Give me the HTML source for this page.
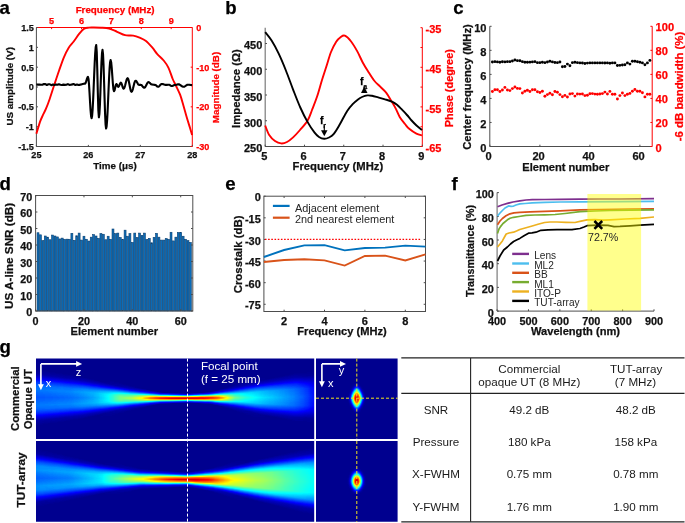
<!DOCTYPE html><html><head><meta charset="utf-8"><style>html,body{margin:0;padding:0;background:#fff;overflow:hidden}svg{display:block;will-change:transform}</style></head><body><svg width="685" height="523" viewBox="0 0 685 523"><defs><filter id="jet" x="0" y="0" width="1" height="1" color-interpolation-filters="sRGB"><feGaussianBlur stdDeviation="1.3 0.55"/><feComponentTransfer><feFuncR type="table" tableValues="0 0 0 0 0.5 1 1 1 0.5"/><feFuncG type="table" tableValues="0 0 0.5 1 1 1 0.5 0 0"/><feFuncB type="table" tableValues="0.5 1 1 1 0.5 0 0 0 0"/></feComponentTransfer></filter><clipPath id="ct"><rect x="36.0" y="358.6" width="278.2" height="80.4"/></clipPath><clipPath id="cb"><rect x="36.0" y="441.0" width="278.2" height="80.8"/></clipPath><clipPath id="cs1"><rect x="316" y="358.6" width="81.6" height="80.4"/></clipPath><clipPath id="cs2"><rect x="316" y="441.0" width="81.6" height="80.8"/></clipPath><linearGradient id="q1" gradientUnits="userSpaceOnUse" x1="0" y1="360.1" x2="0" y2="434.7"><stop offset="0" stop-color="#040404"/><stop offset="0.118" stop-color="#040404"/><stop offset="0.184" stop-color="#080808"/><stop offset="0.237" stop-color="#181818"/><stop offset="0.289" stop-color="#2c2c2c"/><stop offset="0.342" stop-color="#3a3a3a"/><stop offset="0.395" stop-color="#3e3e3e"/><stop offset="0.447" stop-color="#393939"/><stop offset="0.5" stop-color="#353535"/><stop offset="0.553" stop-color="#393939"/><stop offset="0.605" stop-color="#3e3e3e"/><stop offset="0.658" stop-color="#3a3a3a"/><stop offset="0.711" stop-color="#2c2c2c"/><stop offset="0.763" stop-color="#181818"/><stop offset="0.816" stop-color="#080808"/><stop offset="0.882" stop-color="#040404"/><stop offset="1" stop-color="#040404"/></linearGradient><linearGradient id="q2" gradientUnits="userSpaceOnUse" x1="0" y1="360.1" x2="0" y2="434.7"><stop offset="0" stop-color="#040404"/><stop offset="0.118" stop-color="#040404"/><stop offset="0.184" stop-color="#080808"/><stop offset="0.237" stop-color="#181818"/><stop offset="0.289" stop-color="#2c2c2c"/><stop offset="0.342" stop-color="#3a3a3a"/><stop offset="0.395" stop-color="#3e3e3e"/><stop offset="0.447" stop-color="#393939"/><stop offset="0.5" stop-color="#353535"/><stop offset="0.553" stop-color="#393939"/><stop offset="0.605" stop-color="#3e3e3e"/><stop offset="0.658" stop-color="#3a3a3a"/><stop offset="0.711" stop-color="#2c2c2c"/><stop offset="0.763" stop-color="#181818"/><stop offset="0.816" stop-color="#080808"/><stop offset="0.882" stop-color="#040404"/><stop offset="1" stop-color="#040404"/></linearGradient><linearGradient id="q3" gradientUnits="userSpaceOnUse" x1="0" y1="360.2" x2="0" y2="434.6"><stop offset="0" stop-color="#040404"/><stop offset="0.118" stop-color="#040404"/><stop offset="0.184" stop-color="#080808"/><stop offset="0.237" stop-color="#181818"/><stop offset="0.289" stop-color="#2c2c2c"/><stop offset="0.342" stop-color="#3a3a3a"/><stop offset="0.395" stop-color="#3e3e3e"/><stop offset="0.447" stop-color="#393939"/><stop offset="0.5" stop-color="#353535"/><stop offset="0.553" stop-color="#393939"/><stop offset="0.605" stop-color="#3e3e3e"/><stop offset="0.658" stop-color="#3a3a3a"/><stop offset="0.711" stop-color="#2c2c2c"/><stop offset="0.763" stop-color="#181818"/><stop offset="0.816" stop-color="#080808"/><stop offset="0.882" stop-color="#040404"/><stop offset="1" stop-color="#040404"/></linearGradient><linearGradient id="q4" gradientUnits="userSpaceOnUse" x1="0" y1="360.7" x2="0" y2="434.1"><stop offset="0" stop-color="#040404"/><stop offset="0.118" stop-color="#040404"/><stop offset="0.184" stop-color="#090909"/><stop offset="0.237" stop-color="#191919"/><stop offset="0.289" stop-color="#2c2c2c"/><stop offset="0.342" stop-color="#3a3a3a"/><stop offset="0.395" stop-color="#3e3e3e"/><stop offset="0.447" stop-color="#3a3a3a"/><stop offset="0.5" stop-color="#353535"/><stop offset="0.553" stop-color="#3a3a3a"/><stop offset="0.605" stop-color="#3e3e3e"/><stop offset="0.658" stop-color="#3a3a3a"/><stop offset="0.711" stop-color="#2c2c2c"/><stop offset="0.763" stop-color="#191919"/><stop offset="0.816" stop-color="#090909"/><stop offset="0.882" stop-color="#040404"/><stop offset="1" stop-color="#040404"/></linearGradient><linearGradient id="q5" gradientUnits="userSpaceOnUse" x1="0" y1="361.3" x2="0" y2="433.6"><stop offset="0" stop-color="#040404"/><stop offset="0.118" stop-color="#040404"/><stop offset="0.184" stop-color="#090909"/><stop offset="0.237" stop-color="#191919"/><stop offset="0.289" stop-color="#2c2c2c"/><stop offset="0.342" stop-color="#3a3a3a"/><stop offset="0.395" stop-color="#3f3f3f"/><stop offset="0.447" stop-color="#3a3a3a"/><stop offset="0.5" stop-color="#363636"/><stop offset="0.553" stop-color="#3a3a3a"/><stop offset="0.605" stop-color="#3f3f3f"/><stop offset="0.658" stop-color="#3a3a3a"/><stop offset="0.711" stop-color="#2c2c2c"/><stop offset="0.763" stop-color="#191919"/><stop offset="0.816" stop-color="#090909"/><stop offset="0.882" stop-color="#040404"/><stop offset="1" stop-color="#040404"/></linearGradient><linearGradient id="q6" gradientUnits="userSpaceOnUse" x1="0" y1="361.8" x2="0" y2="433.2"><stop offset="0" stop-color="#040404"/><stop offset="0.118" stop-color="#040404"/><stop offset="0.184" stop-color="#090909"/><stop offset="0.237" stop-color="#191919"/><stop offset="0.289" stop-color="#2c2c2c"/><stop offset="0.342" stop-color="#3a3a3a"/><stop offset="0.395" stop-color="#3f3f3f"/><stop offset="0.447" stop-color="#3a3a3a"/><stop offset="0.5" stop-color="#363636"/><stop offset="0.553" stop-color="#3a3a3a"/><stop offset="0.605" stop-color="#3f3f3f"/><stop offset="0.658" stop-color="#3a3a3a"/><stop offset="0.711" stop-color="#2c2c2c"/><stop offset="0.763" stop-color="#191919"/><stop offset="0.816" stop-color="#090909"/><stop offset="0.882" stop-color="#040404"/><stop offset="1" stop-color="#040404"/></linearGradient><linearGradient id="q7" gradientUnits="userSpaceOnUse" x1="0" y1="362.3" x2="0" y2="432.7"><stop offset="0" stop-color="#040404"/><stop offset="0.118" stop-color="#040404"/><stop offset="0.184" stop-color="#090909"/><stop offset="0.237" stop-color="#191919"/><stop offset="0.289" stop-color="#2c2c2c"/><stop offset="0.342" stop-color="#3b3b3b"/><stop offset="0.395" stop-color="#3f3f3f"/><stop offset="0.447" stop-color="#3b3b3b"/><stop offset="0.5" stop-color="#373737"/><stop offset="0.553" stop-color="#3b3b3b"/><stop offset="0.605" stop-color="#3f3f3f"/><stop offset="0.658" stop-color="#3b3b3b"/><stop offset="0.711" stop-color="#2c2c2c"/><stop offset="0.763" stop-color="#191919"/><stop offset="0.816" stop-color="#090909"/><stop offset="0.882" stop-color="#040404"/><stop offset="1" stop-color="#040404"/></linearGradient><linearGradient id="q8" gradientUnits="userSpaceOnUse" x1="0" y1="362.9" x2="0" y2="432.2"><stop offset="0" stop-color="#040404"/><stop offset="0.118" stop-color="#040404"/><stop offset="0.184" stop-color="#090909"/><stop offset="0.237" stop-color="#191919"/><stop offset="0.289" stop-color="#2c2c2c"/><stop offset="0.342" stop-color="#3b3b3b"/><stop offset="0.395" stop-color="#3f3f3f"/><stop offset="0.447" stop-color="#3b3b3b"/><stop offset="0.5" stop-color="#373737"/><stop offset="0.553" stop-color="#3b3b3b"/><stop offset="0.605" stop-color="#3f3f3f"/><stop offset="0.658" stop-color="#3b3b3b"/><stop offset="0.711" stop-color="#2c2c2c"/><stop offset="0.763" stop-color="#191919"/><stop offset="0.816" stop-color="#090909"/><stop offset="0.882" stop-color="#040404"/><stop offset="1" stop-color="#040404"/></linearGradient><linearGradient id="q9" gradientUnits="userSpaceOnUse" x1="0" y1="363.4" x2="0" y2="431.7"><stop offset="0" stop-color="#040404"/><stop offset="0.118" stop-color="#040404"/><stop offset="0.184" stop-color="#090909"/><stop offset="0.237" stop-color="#191919"/><stop offset="0.289" stop-color="#2d2d2d"/><stop offset="0.342" stop-color="#3b3b3b"/><stop offset="0.395" stop-color="#404040"/><stop offset="0.447" stop-color="#3b3b3b"/><stop offset="0.5" stop-color="#373737"/><stop offset="0.553" stop-color="#3b3b3b"/><stop offset="0.605" stop-color="#404040"/><stop offset="0.658" stop-color="#3b3b3b"/><stop offset="0.711" stop-color="#2d2d2d"/><stop offset="0.763" stop-color="#191919"/><stop offset="0.816" stop-color="#090909"/><stop offset="0.882" stop-color="#040404"/><stop offset="1" stop-color="#040404"/></linearGradient><linearGradient id="q10" gradientUnits="userSpaceOnUse" x1="0" y1="363.9" x2="0" y2="431.2"><stop offset="0" stop-color="#040404"/><stop offset="0.118" stop-color="#040404"/><stop offset="0.184" stop-color="#0a0a0a"/><stop offset="0.237" stop-color="#191919"/><stop offset="0.289" stop-color="#2d2d2d"/><stop offset="0.342" stop-color="#3b3b3b"/><stop offset="0.395" stop-color="#404040"/><stop offset="0.447" stop-color="#3c3c3c"/><stop offset="0.5" stop-color="#383838"/><stop offset="0.553" stop-color="#3c3c3c"/><stop offset="0.605" stop-color="#404040"/><stop offset="0.658" stop-color="#3b3b3b"/><stop offset="0.711" stop-color="#2d2d2d"/><stop offset="0.763" stop-color="#191919"/><stop offset="0.816" stop-color="#0a0a0a"/><stop offset="0.882" stop-color="#040404"/><stop offset="1" stop-color="#040404"/></linearGradient><linearGradient id="q11" gradientUnits="userSpaceOnUse" x1="0" y1="364.5" x2="0" y2="430.7"><stop offset="0" stop-color="#040404"/><stop offset="0.118" stop-color="#040404"/><stop offset="0.184" stop-color="#0a0a0a"/><stop offset="0.237" stop-color="#1a1a1a"/><stop offset="0.289" stop-color="#2d2d2d"/><stop offset="0.342" stop-color="#3b3b3b"/><stop offset="0.395" stop-color="#404040"/><stop offset="0.447" stop-color="#3c3c3c"/><stop offset="0.5" stop-color="#383838"/><stop offset="0.553" stop-color="#3c3c3c"/><stop offset="0.605" stop-color="#404040"/><stop offset="0.658" stop-color="#3b3b3b"/><stop offset="0.711" stop-color="#2d2d2d"/><stop offset="0.763" stop-color="#1a1a1a"/><stop offset="0.816" stop-color="#0a0a0a"/><stop offset="0.882" stop-color="#040404"/><stop offset="1" stop-color="#040404"/></linearGradient><linearGradient id="q12" gradientUnits="userSpaceOnUse" x1="0" y1="365.0" x2="0" y2="430.2"><stop offset="0" stop-color="#040404"/><stop offset="0.118" stop-color="#040404"/><stop offset="0.184" stop-color="#0a0a0a"/><stop offset="0.237" stop-color="#1a1a1a"/><stop offset="0.289" stop-color="#2d2d2d"/><stop offset="0.342" stop-color="#3b3b3b"/><stop offset="0.395" stop-color="#414141"/><stop offset="0.447" stop-color="#3d3d3d"/><stop offset="0.5" stop-color="#383838"/><stop offset="0.553" stop-color="#3d3d3d"/><stop offset="0.605" stop-color="#414141"/><stop offset="0.658" stop-color="#3b3b3b"/><stop offset="0.711" stop-color="#2d2d2d"/><stop offset="0.763" stop-color="#1a1a1a"/><stop offset="0.816" stop-color="#0a0a0a"/><stop offset="0.882" stop-color="#040404"/><stop offset="1" stop-color="#040404"/></linearGradient><linearGradient id="q13" gradientUnits="userSpaceOnUse" x1="0" y1="365.5" x2="0" y2="429.7"><stop offset="0" stop-color="#040404"/><stop offset="0.118" stop-color="#040404"/><stop offset="0.184" stop-color="#0a0a0a"/><stop offset="0.237" stop-color="#1a1a1a"/><stop offset="0.289" stop-color="#2d2d2d"/><stop offset="0.342" stop-color="#3c3c3c"/><stop offset="0.395" stop-color="#414141"/><stop offset="0.447" stop-color="#3d3d3d"/><stop offset="0.5" stop-color="#393939"/><stop offset="0.553" stop-color="#3d3d3d"/><stop offset="0.605" stop-color="#414141"/><stop offset="0.658" stop-color="#3c3c3c"/><stop offset="0.711" stop-color="#2d2d2d"/><stop offset="0.763" stop-color="#1a1a1a"/><stop offset="0.816" stop-color="#0a0a0a"/><stop offset="0.882" stop-color="#040404"/><stop offset="1" stop-color="#040404"/></linearGradient><linearGradient id="q14" gradientUnits="userSpaceOnUse" x1="0" y1="366.1" x2="0" y2="429.3"><stop offset="0" stop-color="#040404"/><stop offset="0.118" stop-color="#040404"/><stop offset="0.184" stop-color="#0a0a0a"/><stop offset="0.237" stop-color="#1a1a1a"/><stop offset="0.289" stop-color="#2d2d2d"/><stop offset="0.342" stop-color="#3c3c3c"/><stop offset="0.395" stop-color="#414141"/><stop offset="0.447" stop-color="#3d3d3d"/><stop offset="0.5" stop-color="#393939"/><stop offset="0.553" stop-color="#3d3d3d"/><stop offset="0.605" stop-color="#414141"/><stop offset="0.658" stop-color="#3c3c3c"/><stop offset="0.711" stop-color="#2d2d2d"/><stop offset="0.763" stop-color="#1a1a1a"/><stop offset="0.816" stop-color="#0a0a0a"/><stop offset="0.882" stop-color="#040404"/><stop offset="1" stop-color="#040404"/></linearGradient><linearGradient id="q15" gradientUnits="userSpaceOnUse" x1="0" y1="366.6" x2="0" y2="428.8"><stop offset="0" stop-color="#040404"/><stop offset="0.118" stop-color="#040404"/><stop offset="0.184" stop-color="#0a0a0a"/><stop offset="0.237" stop-color="#1a1a1a"/><stop offset="0.289" stop-color="#2d2d2d"/><stop offset="0.342" stop-color="#3c3c3c"/><stop offset="0.395" stop-color="#414141"/><stop offset="0.447" stop-color="#3e3e3e"/><stop offset="0.5" stop-color="#3a3a3a"/><stop offset="0.553" stop-color="#3e3e3e"/><stop offset="0.605" stop-color="#414141"/><stop offset="0.658" stop-color="#3c3c3c"/><stop offset="0.711" stop-color="#2d2d2d"/><stop offset="0.763" stop-color="#1a1a1a"/><stop offset="0.816" stop-color="#0a0a0a"/><stop offset="0.882" stop-color="#040404"/><stop offset="1" stop-color="#040404"/></linearGradient><linearGradient id="q16" gradientUnits="userSpaceOnUse" x1="0" y1="367.1" x2="0" y2="428.3"><stop offset="0" stop-color="#040404"/><stop offset="0.118" stop-color="#040404"/><stop offset="0.184" stop-color="#0b0b0b"/><stop offset="0.237" stop-color="#1a1a1a"/><stop offset="0.289" stop-color="#2d2d2d"/><stop offset="0.342" stop-color="#3c3c3c"/><stop offset="0.395" stop-color="#424242"/><stop offset="0.447" stop-color="#3e3e3e"/><stop offset="0.5" stop-color="#3a3a3a"/><stop offset="0.553" stop-color="#3e3e3e"/><stop offset="0.605" stop-color="#424242"/><stop offset="0.658" stop-color="#3c3c3c"/><stop offset="0.711" stop-color="#2d2d2d"/><stop offset="0.763" stop-color="#1a1a1a"/><stop offset="0.816" stop-color="#0b0b0b"/><stop offset="0.882" stop-color="#040404"/><stop offset="1" stop-color="#040404"/></linearGradient><linearGradient id="q17" gradientUnits="userSpaceOnUse" x1="0" y1="367.7" x2="0" y2="427.8"><stop offset="0" stop-color="#040404"/><stop offset="0.118" stop-color="#040404"/><stop offset="0.184" stop-color="#0b0b0b"/><stop offset="0.237" stop-color="#1b1b1b"/><stop offset="0.289" stop-color="#2d2d2d"/><stop offset="0.342" stop-color="#3c3c3c"/><stop offset="0.395" stop-color="#424242"/><stop offset="0.447" stop-color="#3f3f3f"/><stop offset="0.5" stop-color="#3b3b3b"/><stop offset="0.553" stop-color="#3f3f3f"/><stop offset="0.605" stop-color="#424242"/><stop offset="0.658" stop-color="#3c3c3c"/><stop offset="0.711" stop-color="#2d2d2d"/><stop offset="0.763" stop-color="#1b1b1b"/><stop offset="0.816" stop-color="#0b0b0b"/><stop offset="0.882" stop-color="#040404"/><stop offset="1" stop-color="#040404"/></linearGradient><linearGradient id="q18" gradientUnits="userSpaceOnUse" x1="0" y1="368.3" x2="0" y2="427.2"><stop offset="0" stop-color="#040404"/><stop offset="0.118" stop-color="#040404"/><stop offset="0.184" stop-color="#0b0b0b"/><stop offset="0.237" stop-color="#1b1b1b"/><stop offset="0.289" stop-color="#2e2e2e"/><stop offset="0.342" stop-color="#3d3d3d"/><stop offset="0.395" stop-color="#444444"/><stop offset="0.447" stop-color="#404040"/><stop offset="0.5" stop-color="#3c3c3c"/><stop offset="0.553" stop-color="#404040"/><stop offset="0.605" stop-color="#444444"/><stop offset="0.658" stop-color="#3d3d3d"/><stop offset="0.711" stop-color="#2e2e2e"/><stop offset="0.763" stop-color="#1b1b1b"/><stop offset="0.816" stop-color="#0b0b0b"/><stop offset="0.882" stop-color="#040404"/><stop offset="1" stop-color="#040404"/></linearGradient><linearGradient id="q19" gradientUnits="userSpaceOnUse" x1="0" y1="368.9" x2="0" y2="426.7"><stop offset="0" stop-color="#040404"/><stop offset="0.118" stop-color="#040404"/><stop offset="0.184" stop-color="#0c0c0c"/><stop offset="0.237" stop-color="#1b1b1b"/><stop offset="0.289" stop-color="#2f2f2f"/><stop offset="0.342" stop-color="#3e3e3e"/><stop offset="0.395" stop-color="#454545"/><stop offset="0.447" stop-color="#414141"/><stop offset="0.5" stop-color="#3d3d3d"/><stop offset="0.553" stop-color="#414141"/><stop offset="0.605" stop-color="#454545"/><stop offset="0.658" stop-color="#3e3e3e"/><stop offset="0.711" stop-color="#2f2f2f"/><stop offset="0.763" stop-color="#1b1b1b"/><stop offset="0.816" stop-color="#0c0c0c"/><stop offset="0.882" stop-color="#040404"/><stop offset="1" stop-color="#040404"/></linearGradient><linearGradient id="q20" gradientUnits="userSpaceOnUse" x1="0" y1="369.5" x2="0" y2="426.1"><stop offset="0" stop-color="#040404"/><stop offset="0.118" stop-color="#040404"/><stop offset="0.184" stop-color="#0c0c0c"/><stop offset="0.237" stop-color="#1c1c1c"/><stop offset="0.289" stop-color="#2f2f2f"/><stop offset="0.342" stop-color="#3f3f3f"/><stop offset="0.395" stop-color="#464646"/><stop offset="0.447" stop-color="#424242"/><stop offset="0.5" stop-color="#3e3e3e"/><stop offset="0.553" stop-color="#424242"/><stop offset="0.605" stop-color="#464646"/><stop offset="0.658" stop-color="#3f3f3f"/><stop offset="0.711" stop-color="#2f2f2f"/><stop offset="0.763" stop-color="#1c1c1c"/><stop offset="0.816" stop-color="#0c0c0c"/><stop offset="0.882" stop-color="#040404"/><stop offset="1" stop-color="#040404"/></linearGradient><linearGradient id="q21" gradientUnits="userSpaceOnUse" x1="0" y1="370.2" x2="0" y2="425.5"><stop offset="0" stop-color="#040404"/><stop offset="0.118" stop-color="#040404"/><stop offset="0.184" stop-color="#0c0c0c"/><stop offset="0.237" stop-color="#1c1c1c"/><stop offset="0.289" stop-color="#303030"/><stop offset="0.342" stop-color="#404040"/><stop offset="0.395" stop-color="#474747"/><stop offset="0.447" stop-color="#444444"/><stop offset="0.5" stop-color="#404040"/><stop offset="0.553" stop-color="#444444"/><stop offset="0.605" stop-color="#474747"/><stop offset="0.658" stop-color="#404040"/><stop offset="0.711" stop-color="#303030"/><stop offset="0.763" stop-color="#1c1c1c"/><stop offset="0.816" stop-color="#0c0c0c"/><stop offset="0.882" stop-color="#040404"/><stop offset="1" stop-color="#040404"/></linearGradient><linearGradient id="q22" gradientUnits="userSpaceOnUse" x1="0" y1="371.0" x2="0" y2="424.7"><stop offset="0" stop-color="#040404"/><stop offset="0.118" stop-color="#040404"/><stop offset="0.184" stop-color="#0d0d0d"/><stop offset="0.237" stop-color="#1d1d1d"/><stop offset="0.289" stop-color="#313131"/><stop offset="0.342" stop-color="#414141"/><stop offset="0.395" stop-color="#484848"/><stop offset="0.447" stop-color="#454545"/><stop offset="0.5" stop-color="#414141"/><stop offset="0.553" stop-color="#454545"/><stop offset="0.605" stop-color="#484848"/><stop offset="0.658" stop-color="#414141"/><stop offset="0.711" stop-color="#313131"/><stop offset="0.763" stop-color="#1d1d1d"/><stop offset="0.816" stop-color="#0d0d0d"/><stop offset="0.882" stop-color="#040404"/><stop offset="1" stop-color="#040404"/></linearGradient><linearGradient id="q23" gradientUnits="userSpaceOnUse" x1="0" y1="371.7" x2="0" y2="424.0"><stop offset="0" stop-color="#040404"/><stop offset="0.118" stop-color="#040404"/><stop offset="0.184" stop-color="#0d0d0d"/><stop offset="0.237" stop-color="#1d1d1d"/><stop offset="0.289" stop-color="#313131"/><stop offset="0.342" stop-color="#424242"/><stop offset="0.395" stop-color="#494949"/><stop offset="0.447" stop-color="#474747"/><stop offset="0.5" stop-color="#434343"/><stop offset="0.553" stop-color="#474747"/><stop offset="0.605" stop-color="#494949"/><stop offset="0.658" stop-color="#424242"/><stop offset="0.711" stop-color="#313131"/><stop offset="0.763" stop-color="#1d1d1d"/><stop offset="0.816" stop-color="#0d0d0d"/><stop offset="0.882" stop-color="#040404"/><stop offset="1" stop-color="#040404"/></linearGradient><linearGradient id="q24" gradientUnits="userSpaceOnUse" x1="0" y1="372.5" x2="0" y2="423.3"><stop offset="0" stop-color="#040404"/><stop offset="0.118" stop-color="#040404"/><stop offset="0.184" stop-color="#0d0d0d"/><stop offset="0.237" stop-color="#1e1e1e"/><stop offset="0.289" stop-color="#323232"/><stop offset="0.342" stop-color="#424242"/><stop offset="0.395" stop-color="#4a4a4a"/><stop offset="0.447" stop-color="#494949"/><stop offset="0.5" stop-color="#454545"/><stop offset="0.553" stop-color="#494949"/><stop offset="0.605" stop-color="#4a4a4a"/><stop offset="0.658" stop-color="#424242"/><stop offset="0.711" stop-color="#323232"/><stop offset="0.763" stop-color="#1e1e1e"/><stop offset="0.816" stop-color="#0d0d0d"/><stop offset="0.882" stop-color="#040404"/><stop offset="1" stop-color="#040404"/></linearGradient><linearGradient id="q25" gradientUnits="userSpaceOnUse" x1="0" y1="373.3" x2="0" y2="422.5"><stop offset="0" stop-color="#040404"/><stop offset="0.118" stop-color="#040404"/><stop offset="0.184" stop-color="#0e0e0e"/><stop offset="0.237" stop-color="#1e1e1e"/><stop offset="0.289" stop-color="#323232"/><stop offset="0.342" stop-color="#434343"/><stop offset="0.395" stop-color="#4c4c4c"/><stop offset="0.447" stop-color="#4a4a4a"/><stop offset="0.5" stop-color="#474747"/><stop offset="0.553" stop-color="#4a4a4a"/><stop offset="0.605" stop-color="#4c4c4c"/><stop offset="0.658" stop-color="#434343"/><stop offset="0.711" stop-color="#323232"/><stop offset="0.763" stop-color="#1e1e1e"/><stop offset="0.816" stop-color="#0e0e0e"/><stop offset="0.882" stop-color="#040404"/><stop offset="1" stop-color="#040404"/></linearGradient><linearGradient id="q26" gradientUnits="userSpaceOnUse" x1="0" y1="374.1" x2="0" y2="421.8"><stop offset="0" stop-color="#040404"/><stop offset="0.118" stop-color="#040404"/><stop offset="0.184" stop-color="#0e0e0e"/><stop offset="0.237" stop-color="#1f1f1f"/><stop offset="0.289" stop-color="#333333"/><stop offset="0.342" stop-color="#444444"/><stop offset="0.395" stop-color="#4d4d4d"/><stop offset="0.447" stop-color="#4c4c4c"/><stop offset="0.5" stop-color="#494949"/><stop offset="0.553" stop-color="#4c4c4c"/><stop offset="0.605" stop-color="#4d4d4d"/><stop offset="0.658" stop-color="#444444"/><stop offset="0.711" stop-color="#333333"/><stop offset="0.763" stop-color="#1f1f1f"/><stop offset="0.816" stop-color="#0e0e0e"/><stop offset="0.882" stop-color="#040404"/><stop offset="1" stop-color="#040404"/></linearGradient><linearGradient id="q27" gradientUnits="userSpaceOnUse" x1="0" y1="374.9" x2="0" y2="421.0"><stop offset="0" stop-color="#040404"/><stop offset="0.118" stop-color="#040404"/><stop offset="0.184" stop-color="#0f0f0f"/><stop offset="0.237" stop-color="#202020"/><stop offset="0.289" stop-color="#343434"/><stop offset="0.342" stop-color="#454545"/><stop offset="0.395" stop-color="#4f4f4f"/><stop offset="0.447" stop-color="#4f4f4f"/><stop offset="0.5" stop-color="#4c4c4c"/><stop offset="0.553" stop-color="#4f4f4f"/><stop offset="0.605" stop-color="#4f4f4f"/><stop offset="0.658" stop-color="#454545"/><stop offset="0.711" stop-color="#343434"/><stop offset="0.763" stop-color="#202020"/><stop offset="0.816" stop-color="#0f0f0f"/><stop offset="0.882" stop-color="#040404"/><stop offset="1" stop-color="#040404"/></linearGradient><linearGradient id="q28" gradientUnits="userSpaceOnUse" x1="0" y1="375.8" x2="0" y2="420.2"><stop offset="0" stop-color="#040404"/><stop offset="0.118" stop-color="#040404"/><stop offset="0.184" stop-color="#101010"/><stop offset="0.237" stop-color="#212121"/><stop offset="0.289" stop-color="#353535"/><stop offset="0.342" stop-color="#484848"/><stop offset="0.395" stop-color="#525252"/><stop offset="0.447" stop-color="#525252"/><stop offset="0.5" stop-color="#505050"/><stop offset="0.553" stop-color="#525252"/><stop offset="0.605" stop-color="#525252"/><stop offset="0.658" stop-color="#484848"/><stop offset="0.711" stop-color="#353535"/><stop offset="0.763" stop-color="#212121"/><stop offset="0.816" stop-color="#101010"/><stop offset="0.882" stop-color="#040404"/><stop offset="1" stop-color="#040404"/></linearGradient><linearGradient id="q29" gradientUnits="userSpaceOnUse" x1="0" y1="376.7" x2="0" y2="419.3"><stop offset="0" stop-color="#040404"/><stop offset="0.118" stop-color="#050505"/><stop offset="0.184" stop-color="#111111"/><stop offset="0.237" stop-color="#222222"/><stop offset="0.289" stop-color="#373737"/><stop offset="0.342" stop-color="#4a4a4a"/><stop offset="0.395" stop-color="#555555"/><stop offset="0.447" stop-color="#565656"/><stop offset="0.5" stop-color="#545454"/><stop offset="0.553" stop-color="#565656"/><stop offset="0.605" stop-color="#555555"/><stop offset="0.658" stop-color="#4a4a4a"/><stop offset="0.711" stop-color="#373737"/><stop offset="0.763" stop-color="#222222"/><stop offset="0.816" stop-color="#111111"/><stop offset="0.882" stop-color="#050505"/><stop offset="1" stop-color="#040404"/></linearGradient><linearGradient id="q30" gradientUnits="userSpaceOnUse" x1="0" y1="377.5" x2="0" y2="418.5"><stop offset="0" stop-color="#040404"/><stop offset="0.118" stop-color="#050505"/><stop offset="0.184" stop-color="#121212"/><stop offset="0.237" stop-color="#232323"/><stop offset="0.289" stop-color="#393939"/><stop offset="0.342" stop-color="#4c4c4c"/><stop offset="0.395" stop-color="#585858"/><stop offset="0.447" stop-color="#5a5a5a"/><stop offset="0.5" stop-color="#585858"/><stop offset="0.553" stop-color="#5a5a5a"/><stop offset="0.605" stop-color="#585858"/><stop offset="0.658" stop-color="#4c4c4c"/><stop offset="0.711" stop-color="#393939"/><stop offset="0.763" stop-color="#232323"/><stop offset="0.816" stop-color="#121212"/><stop offset="0.882" stop-color="#050505"/><stop offset="1" stop-color="#040404"/></linearGradient><linearGradient id="q31" gradientUnits="userSpaceOnUse" x1="0" y1="378.4" x2="0" y2="417.7"><stop offset="0" stop-color="#040404"/><stop offset="0.118" stop-color="#060606"/><stop offset="0.184" stop-color="#131313"/><stop offset="0.237" stop-color="#252525"/><stop offset="0.289" stop-color="#3a3a3a"/><stop offset="0.342" stop-color="#4e4e4e"/><stop offset="0.395" stop-color="#5b5b5b"/><stop offset="0.447" stop-color="#5d5d5d"/><stop offset="0.5" stop-color="#5c5c5c"/><stop offset="0.553" stop-color="#5d5d5d"/><stop offset="0.605" stop-color="#5b5b5b"/><stop offset="0.658" stop-color="#4e4e4e"/><stop offset="0.711" stop-color="#3a3a3a"/><stop offset="0.763" stop-color="#252525"/><stop offset="0.816" stop-color="#131313"/><stop offset="0.882" stop-color="#060606"/><stop offset="1" stop-color="#040404"/></linearGradient><linearGradient id="q32" gradientUnits="userSpaceOnUse" x1="0" y1="379.2" x2="0" y2="416.8"><stop offset="0" stop-color="#040404"/><stop offset="0.118" stop-color="#070707"/><stop offset="0.184" stop-color="#141414"/><stop offset="0.237" stop-color="#262626"/><stop offset="0.289" stop-color="#3c3c3c"/><stop offset="0.342" stop-color="#515151"/><stop offset="0.395" stop-color="#5e5e5e"/><stop offset="0.447" stop-color="#626262"/><stop offset="0.5" stop-color="#616161"/><stop offset="0.553" stop-color="#626262"/><stop offset="0.605" stop-color="#5e5e5e"/><stop offset="0.658" stop-color="#515151"/><stop offset="0.711" stop-color="#3c3c3c"/><stop offset="0.763" stop-color="#262626"/><stop offset="0.816" stop-color="#141414"/><stop offset="0.882" stop-color="#070707"/><stop offset="1" stop-color="#040404"/></linearGradient><linearGradient id="q33" gradientUnits="userSpaceOnUse" x1="0" y1="380.1" x2="0" y2="416.0"><stop offset="0" stop-color="#040404"/><stop offset="0.118" stop-color="#070707"/><stop offset="0.184" stop-color="#161616"/><stop offset="0.237" stop-color="#282828"/><stop offset="0.289" stop-color="#3f3f3f"/><stop offset="0.342" stop-color="#555555"/><stop offset="0.395" stop-color="#636363"/><stop offset="0.447" stop-color="#686868"/><stop offset="0.5" stop-color="#686868"/><stop offset="0.553" stop-color="#686868"/><stop offset="0.605" stop-color="#636363"/><stop offset="0.658" stop-color="#555555"/><stop offset="0.711" stop-color="#3f3f3f"/><stop offset="0.763" stop-color="#282828"/><stop offset="0.816" stop-color="#161616"/><stop offset="0.882" stop-color="#070707"/><stop offset="1" stop-color="#040404"/></linearGradient><linearGradient id="q34" gradientUnits="userSpaceOnUse" x1="0" y1="380.9" x2="0" y2="415.1"><stop offset="0" stop-color="#040404"/><stop offset="0.118" stop-color="#080808"/><stop offset="0.184" stop-color="#171717"/><stop offset="0.237" stop-color="#2a2a2a"/><stop offset="0.289" stop-color="#424242"/><stop offset="0.342" stop-color="#585858"/><stop offset="0.395" stop-color="#686868"/><stop offset="0.447" stop-color="#6e6e6e"/><stop offset="0.5" stop-color="#6e6e6e"/><stop offset="0.553" stop-color="#6e6e6e"/><stop offset="0.605" stop-color="#686868"/><stop offset="0.658" stop-color="#585858"/><stop offset="0.711" stop-color="#424242"/><stop offset="0.763" stop-color="#2a2a2a"/><stop offset="0.816" stop-color="#171717"/><stop offset="0.882" stop-color="#080808"/><stop offset="1" stop-color="#040404"/></linearGradient><linearGradient id="q35" gradientUnits="userSpaceOnUse" x1="0" y1="381.8" x2="0" y2="414.3"><stop offset="0" stop-color="#040404"/><stop offset="0.118" stop-color="#090909"/><stop offset="0.184" stop-color="#191919"/><stop offset="0.237" stop-color="#2d2d2d"/><stop offset="0.289" stop-color="#454545"/><stop offset="0.342" stop-color="#5c5c5c"/><stop offset="0.395" stop-color="#6d6d6d"/><stop offset="0.447" stop-color="#747474"/><stop offset="0.5" stop-color="#757575"/><stop offset="0.553" stop-color="#747474"/><stop offset="0.605" stop-color="#6d6d6d"/><stop offset="0.658" stop-color="#5c5c5c"/><stop offset="0.711" stop-color="#454545"/><stop offset="0.763" stop-color="#2d2d2d"/><stop offset="0.816" stop-color="#191919"/><stop offset="0.882" stop-color="#090909"/><stop offset="1" stop-color="#040404"/></linearGradient><linearGradient id="q36" gradientUnits="userSpaceOnUse" x1="0" y1="382.6" x2="0" y2="413.5"><stop offset="0" stop-color="#040404"/><stop offset="0.118" stop-color="#0a0a0a"/><stop offset="0.184" stop-color="#1a1a1a"/><stop offset="0.237" stop-color="#2f2f2f"/><stop offset="0.289" stop-color="#474747"/><stop offset="0.342" stop-color="#606060"/><stop offset="0.395" stop-color="#727272"/><stop offset="0.447" stop-color="#7a7a7a"/><stop offset="0.5" stop-color="#7c7c7c"/><stop offset="0.553" stop-color="#7a7a7a"/><stop offset="0.605" stop-color="#727272"/><stop offset="0.658" stop-color="#606060"/><stop offset="0.711" stop-color="#474747"/><stop offset="0.763" stop-color="#2f2f2f"/><stop offset="0.816" stop-color="#1a1a1a"/><stop offset="0.882" stop-color="#0a0a0a"/><stop offset="1" stop-color="#040404"/></linearGradient><linearGradient id="q37" gradientUnits="userSpaceOnUse" x1="0" y1="383.3" x2="0" y2="412.8"><stop offset="0" stop-color="#040404"/><stop offset="0.118" stop-color="#0b0b0b"/><stop offset="0.184" stop-color="#1c1c1c"/><stop offset="0.237" stop-color="#303030"/><stop offset="0.289" stop-color="#494949"/><stop offset="0.342" stop-color="#616161"/><stop offset="0.395" stop-color="#747474"/><stop offset="0.447" stop-color="#7e7e7e"/><stop offset="0.5" stop-color="#808080"/><stop offset="0.553" stop-color="#7e7e7e"/><stop offset="0.605" stop-color="#747474"/><stop offset="0.658" stop-color="#616161"/><stop offset="0.711" stop-color="#494949"/><stop offset="0.763" stop-color="#303030"/><stop offset="0.816" stop-color="#1c1c1c"/><stop offset="0.882" stop-color="#0b0b0b"/><stop offset="1" stop-color="#040404"/></linearGradient><linearGradient id="q38" gradientUnits="userSpaceOnUse" x1="0" y1="384.0" x2="0" y2="412.1"><stop offset="0" stop-color="#040404"/><stop offset="0.118" stop-color="#0c0c0c"/><stop offset="0.184" stop-color="#1d1d1d"/><stop offset="0.237" stop-color="#313131"/><stop offset="0.289" stop-color="#4a4a4a"/><stop offset="0.368" stop-color="#6d6d6d"/><stop offset="0.5" stop-color="#848484"/><stop offset="0.632" stop-color="#6d6d6d"/><stop offset="0.711" stop-color="#4a4a4a"/><stop offset="0.763" stop-color="#313131"/><stop offset="0.816" stop-color="#1d1d1d"/><stop offset="0.882" stop-color="#0c0c0c"/><stop offset="1" stop-color="#040404"/></linearGradient><linearGradient id="q39" gradientUnits="userSpaceOnUse" x1="0" y1="384.7" x2="0" y2="411.4"><stop offset="0" stop-color="#040404"/><stop offset="0.118" stop-color="#0d0d0d"/><stop offset="0.184" stop-color="#1e1e1e"/><stop offset="0.237" stop-color="#323232"/><stop offset="0.289" stop-color="#4b4b4b"/><stop offset="0.368" stop-color="#6f6f6f"/><stop offset="0.5" stop-color="#888888"/><stop offset="0.632" stop-color="#6f6f6f"/><stop offset="0.711" stop-color="#4b4b4b"/><stop offset="0.763" stop-color="#323232"/><stop offset="0.816" stop-color="#1e1e1e"/><stop offset="0.882" stop-color="#0d0d0d"/><stop offset="1" stop-color="#040404"/></linearGradient><linearGradient id="q40" gradientUnits="userSpaceOnUse" x1="0" y1="385.4" x2="0" y2="410.7"><stop offset="0" stop-color="#040404"/><stop offset="0.118" stop-color="#0e0e0e"/><stop offset="0.184" stop-color="#1f1f1f"/><stop offset="0.237" stop-color="#333333"/><stop offset="0.289" stop-color="#4c4c4c"/><stop offset="0.368" stop-color="#707070"/><stop offset="0.5" stop-color="#8b8b8b"/><stop offset="0.632" stop-color="#707070"/><stop offset="0.711" stop-color="#4c4c4c"/><stop offset="0.763" stop-color="#333333"/><stop offset="0.816" stop-color="#1f1f1f"/><stop offset="0.882" stop-color="#0e0e0e"/><stop offset="1" stop-color="#040404"/></linearGradient><linearGradient id="q41" gradientUnits="userSpaceOnUse" x1="0" y1="386.1" x2="0" y2="410.1"><stop offset="0" stop-color="#040404"/><stop offset="0.118" stop-color="#0f0f0f"/><stop offset="0.184" stop-color="#202020"/><stop offset="0.237" stop-color="#343434"/><stop offset="0.289" stop-color="#4d4d4d"/><stop offset="0.368" stop-color="#727272"/><stop offset="0.5" stop-color="#8e8e8e"/><stop offset="0.632" stop-color="#727272"/><stop offset="0.711" stop-color="#4d4d4d"/><stop offset="0.763" stop-color="#343434"/><stop offset="0.816" stop-color="#202020"/><stop offset="0.882" stop-color="#0f0f0f"/><stop offset="1" stop-color="#040404"/></linearGradient><linearGradient id="q42" gradientUnits="userSpaceOnUse" x1="0" y1="386.7" x2="0" y2="409.4"><stop offset="0" stop-color="#040404"/><stop offset="0.118" stop-color="#101010"/><stop offset="0.184" stop-color="#222222"/><stop offset="0.237" stop-color="#363636"/><stop offset="0.289" stop-color="#4f4f4f"/><stop offset="0.368" stop-color="#757575"/><stop offset="0.5" stop-color="#939393"/><stop offset="0.632" stop-color="#757575"/><stop offset="0.711" stop-color="#4f4f4f"/><stop offset="0.763" stop-color="#363636"/><stop offset="0.816" stop-color="#222222"/><stop offset="0.882" stop-color="#101010"/><stop offset="1" stop-color="#040404"/></linearGradient><linearGradient id="q43" gradientUnits="userSpaceOnUse" x1="0" y1="387.4" x2="0" y2="408.8"><stop offset="0" stop-color="#040404"/><stop offset="0.118" stop-color="#121212"/><stop offset="0.184" stop-color="#242424"/><stop offset="0.237" stop-color="#393939"/><stop offset="0.289" stop-color="#525252"/><stop offset="0.368" stop-color="#797979"/><stop offset="0.5" stop-color="#9a9a9a"/><stop offset="0.632" stop-color="#797979"/><stop offset="0.711" stop-color="#525252"/><stop offset="0.763" stop-color="#393939"/><stop offset="0.816" stop-color="#242424"/><stop offset="0.882" stop-color="#121212"/><stop offset="1" stop-color="#040404"/></linearGradient><linearGradient id="q44" gradientUnits="userSpaceOnUse" x1="0" y1="388.0" x2="0" y2="408.2"><stop offset="0" stop-color="#040404"/><stop offset="0.118" stop-color="#131313"/><stop offset="0.184" stop-color="#262626"/><stop offset="0.237" stop-color="#3b3b3b"/><stop offset="0.289" stop-color="#555555"/><stop offset="0.368" stop-color="#7d7d7d"/><stop offset="0.5" stop-color="#a0a0a0"/><stop offset="0.632" stop-color="#7d7d7d"/><stop offset="0.711" stop-color="#555555"/><stop offset="0.763" stop-color="#3b3b3b"/><stop offset="0.816" stop-color="#262626"/><stop offset="0.882" stop-color="#131313"/><stop offset="1" stop-color="#040404"/></linearGradient><linearGradient id="q45" gradientUnits="userSpaceOnUse" x1="0" y1="388.6" x2="0" y2="407.6"><stop offset="0" stop-color="#050505"/><stop offset="0.118" stop-color="#151515"/><stop offset="0.184" stop-color="#282828"/><stop offset="0.237" stop-color="#3d3d3d"/><stop offset="0.289" stop-color="#575757"/><stop offset="0.368" stop-color="#818181"/><stop offset="0.5" stop-color="#a6a6a6"/><stop offset="0.632" stop-color="#818181"/><stop offset="0.711" stop-color="#575757"/><stop offset="0.763" stop-color="#3d3d3d"/><stop offset="0.816" stop-color="#282828"/><stop offset="0.882" stop-color="#151515"/><stop offset="1" stop-color="#050505"/></linearGradient><linearGradient id="q46" gradientUnits="userSpaceOnUse" x1="0" y1="389.2" x2="0" y2="407.0"><stop offset="0" stop-color="#060606"/><stop offset="0.118" stop-color="#171717"/><stop offset="0.184" stop-color="#2b2b2b"/><stop offset="0.237" stop-color="#414141"/><stop offset="0.289" stop-color="#5c5c5c"/><stop offset="0.368" stop-color="#878787"/><stop offset="0.5" stop-color="#b0b0b0"/><stop offset="0.632" stop-color="#878787"/><stop offset="0.711" stop-color="#5c5c5c"/><stop offset="0.763" stop-color="#414141"/><stop offset="0.816" stop-color="#2b2b2b"/><stop offset="0.882" stop-color="#171717"/><stop offset="1" stop-color="#060606"/></linearGradient><linearGradient id="q47" gradientUnits="userSpaceOnUse" x1="0" y1="389.9" x2="0" y2="406.3"><stop offset="0" stop-color="#070707"/><stop offset="0.118" stop-color="#191919"/><stop offset="0.184" stop-color="#2e2e2e"/><stop offset="0.237" stop-color="#454545"/><stop offset="0.289" stop-color="#616161"/><stop offset="0.368" stop-color="#8f8f8f"/><stop offset="0.5" stop-color="#bbbbbb"/><stop offset="0.632" stop-color="#8f8f8f"/><stop offset="0.711" stop-color="#616161"/><stop offset="0.763" stop-color="#454545"/><stop offset="0.816" stop-color="#2e2e2e"/><stop offset="0.882" stop-color="#191919"/><stop offset="1" stop-color="#070707"/></linearGradient><linearGradient id="q48" gradientUnits="userSpaceOnUse" x1="0" y1="390.5" x2="0" y2="405.7"><stop offset="0" stop-color="#080808"/><stop offset="0.118" stop-color="#1c1c1c"/><stop offset="0.184" stop-color="#313131"/><stop offset="0.237" stop-color="#494949"/><stop offset="0.289" stop-color="#666666"/><stop offset="0.368" stop-color="#969696"/><stop offset="0.5" stop-color="#c6c6c6"/><stop offset="0.632" stop-color="#969696"/><stop offset="0.711" stop-color="#666666"/><stop offset="0.763" stop-color="#494949"/><stop offset="0.816" stop-color="#313131"/><stop offset="0.882" stop-color="#1c1c1c"/><stop offset="1" stop-color="#080808"/></linearGradient><linearGradient id="q49" gradientUnits="userSpaceOnUse" x1="0" y1="391.0" x2="0" y2="405.2"><stop offset="0" stop-color="#090909"/><stop offset="0.118" stop-color="#1d1d1d"/><stop offset="0.184" stop-color="#343434"/><stop offset="0.237" stop-color="#4c4c4c"/><stop offset="0.289" stop-color="#6a6a6a"/><stop offset="0.368" stop-color="#9c9c9c"/><stop offset="0.5" stop-color="#cfcfcf"/><stop offset="0.632" stop-color="#9c9c9c"/><stop offset="0.711" stop-color="#6a6a6a"/><stop offset="0.763" stop-color="#4c4c4c"/><stop offset="0.816" stop-color="#343434"/><stop offset="0.882" stop-color="#1d1d1d"/><stop offset="1" stop-color="#090909"/></linearGradient><linearGradient id="q50" gradientUnits="userSpaceOnUse" x1="0" y1="391.4" x2="0" y2="404.8"><stop offset="0" stop-color="#090909"/><stop offset="0.118" stop-color="#1e1e1e"/><stop offset="0.184" stop-color="#353535"/><stop offset="0.237" stop-color="#4f4f4f"/><stop offset="0.289" stop-color="#6d6d6d"/><stop offset="0.368" stop-color="#a0a0a0"/><stop offset="0.5" stop-color="#d6d6d6"/><stop offset="0.632" stop-color="#a0a0a0"/><stop offset="0.711" stop-color="#6d6d6d"/><stop offset="0.763" stop-color="#4f4f4f"/><stop offset="0.816" stop-color="#353535"/><stop offset="0.882" stop-color="#1e1e1e"/><stop offset="1" stop-color="#090909"/></linearGradient><linearGradient id="q51" gradientUnits="userSpaceOnUse" x1="0" y1="391.8" x2="0" y2="404.4"><stop offset="0" stop-color="#090909"/><stop offset="0.118" stop-color="#1f1f1f"/><stop offset="0.184" stop-color="#373737"/><stop offset="0.237" stop-color="#515151"/><stop offset="0.289" stop-color="#717171"/><stop offset="0.368" stop-color="#a5a5a5"/><stop offset="0.5" stop-color="#dcdcdc"/><stop offset="0.632" stop-color="#a5a5a5"/><stop offset="0.711" stop-color="#717171"/><stop offset="0.763" stop-color="#515151"/><stop offset="0.816" stop-color="#373737"/><stop offset="0.882" stop-color="#1f1f1f"/><stop offset="1" stop-color="#090909"/></linearGradient><linearGradient id="q52" gradientUnits="userSpaceOnUse" x1="0" y1="392.3" x2="0" y2="404.0"><stop offset="0" stop-color="#090909"/><stop offset="0.118" stop-color="#202020"/><stop offset="0.184" stop-color="#383838"/><stop offset="0.237" stop-color="#535353"/><stop offset="0.289" stop-color="#747474"/><stop offset="0.368" stop-color="#aaaaaa"/><stop offset="0.5" stop-color="#e2e2e2"/><stop offset="0.632" stop-color="#aaaaaa"/><stop offset="0.711" stop-color="#747474"/><stop offset="0.763" stop-color="#535353"/><stop offset="0.816" stop-color="#383838"/><stop offset="0.882" stop-color="#202020"/><stop offset="1" stop-color="#090909"/></linearGradient><linearGradient id="q53" gradientUnits="userSpaceOnUse" x1="0" y1="392.5" x2="0" y2="403.8"><stop offset="0" stop-color="#090909"/><stop offset="0.118" stop-color="#202020"/><stop offset="0.184" stop-color="#393939"/><stop offset="0.237" stop-color="#555555"/><stop offset="0.289" stop-color="#767676"/><stop offset="0.368" stop-color="#aeaeae"/><stop offset="0.5" stop-color="#e7e7e7"/><stop offset="0.632" stop-color="#aeaeae"/><stop offset="0.711" stop-color="#767676"/><stop offset="0.763" stop-color="#555555"/><stop offset="0.816" stop-color="#393939"/><stop offset="0.882" stop-color="#202020"/><stop offset="1" stop-color="#090909"/></linearGradient><linearGradient id="q54" gradientUnits="userSpaceOnUse" x1="0" y1="392.6" x2="0" y2="403.7"><stop offset="0" stop-color="#090909"/><stop offset="0.118" stop-color="#212121"/><stop offset="0.184" stop-color="#3a3a3a"/><stop offset="0.237" stop-color="#565656"/><stop offset="0.289" stop-color="#787878"/><stop offset="0.368" stop-color="#b0b0b0"/><stop offset="0.5" stop-color="#e9e9e9"/><stop offset="0.632" stop-color="#b0b0b0"/><stop offset="0.711" stop-color="#787878"/><stop offset="0.763" stop-color="#565656"/><stop offset="0.816" stop-color="#3a3a3a"/><stop offset="0.882" stop-color="#212121"/><stop offset="1" stop-color="#090909"/></linearGradient><linearGradient id="q55" gradientUnits="userSpaceOnUse" x1="0" y1="392.7" x2="0" y2="403.6"><stop offset="0" stop-color="#090909"/><stop offset="0.118" stop-color="#212121"/><stop offset="0.184" stop-color="#3b3b3b"/><stop offset="0.237" stop-color="#575757"/><stop offset="0.289" stop-color="#797979"/><stop offset="0.368" stop-color="#b2b2b2"/><stop offset="0.5" stop-color="#ececec"/><stop offset="0.632" stop-color="#b2b2b2"/><stop offset="0.711" stop-color="#797979"/><stop offset="0.763" stop-color="#575757"/><stop offset="0.816" stop-color="#3b3b3b"/><stop offset="0.882" stop-color="#212121"/><stop offset="1" stop-color="#090909"/></linearGradient><linearGradient id="q56" gradientUnits="userSpaceOnUse" x1="0" y1="392.9" x2="0" y2="403.5"><stop offset="0" stop-color="#090909"/><stop offset="0.118" stop-color="#212121"/><stop offset="0.184" stop-color="#3b3b3b"/><stop offset="0.237" stop-color="#585858"/><stop offset="0.289" stop-color="#7b7b7b"/><stop offset="0.368" stop-color="#b4b4b4"/><stop offset="0.5" stop-color="#efefef"/><stop offset="0.632" stop-color="#b4b4b4"/><stop offset="0.711" stop-color="#7b7b7b"/><stop offset="0.763" stop-color="#585858"/><stop offset="0.816" stop-color="#3b3b3b"/><stop offset="0.882" stop-color="#212121"/><stop offset="1" stop-color="#090909"/></linearGradient><linearGradient id="q57" gradientUnits="userSpaceOnUse" x1="0" y1="393.0" x2="0" y2="403.4"><stop offset="0" stop-color="#0a0a0a"/><stop offset="0.118" stop-color="#222222"/><stop offset="0.184" stop-color="#3c3c3c"/><stop offset="0.237" stop-color="#595959"/><stop offset="0.289" stop-color="#7c7c7c"/><stop offset="0.368" stop-color="#b6b6b6"/><stop offset="0.5" stop-color="#f1f1f1"/><stop offset="0.632" stop-color="#b6b6b6"/><stop offset="0.711" stop-color="#7c7c7c"/><stop offset="0.763" stop-color="#595959"/><stop offset="0.816" stop-color="#3c3c3c"/><stop offset="0.882" stop-color="#222222"/><stop offset="1" stop-color="#0a0a0a"/></linearGradient><linearGradient id="q58" gradientUnits="userSpaceOnUse" x1="0" y1="393.1" x2="0" y2="403.3"><stop offset="0" stop-color="#0a0a0a"/><stop offset="0.118" stop-color="#222222"/><stop offset="0.184" stop-color="#3c3c3c"/><stop offset="0.237" stop-color="#595959"/><stop offset="0.289" stop-color="#7d7d7d"/><stop offset="0.368" stop-color="#b7b7b7"/><stop offset="0.5" stop-color="#f3f3f3"/><stop offset="0.632" stop-color="#b7b7b7"/><stop offset="0.711" stop-color="#7d7d7d"/><stop offset="0.763" stop-color="#595959"/><stop offset="0.816" stop-color="#3c3c3c"/><stop offset="0.882" stop-color="#222222"/><stop offset="1" stop-color="#0a0a0a"/></linearGradient><linearGradient id="q59" gradientUnits="userSpaceOnUse" x1="0" y1="393.2" x2="0" y2="403.2"><stop offset="0" stop-color="#090909"/><stop offset="0.118" stop-color="#222222"/><stop offset="0.184" stop-color="#3c3c3c"/><stop offset="0.237" stop-color="#5a5a5a"/><stop offset="0.289" stop-color="#7d7d7d"/><stop offset="0.368" stop-color="#b8b8b8"/><stop offset="0.5" stop-color="#f4f4f4"/><stop offset="0.632" stop-color="#b8b8b8"/><stop offset="0.711" stop-color="#7d7d7d"/><stop offset="0.763" stop-color="#5a5a5a"/><stop offset="0.816" stop-color="#3c3c3c"/><stop offset="0.882" stop-color="#222222"/><stop offset="1" stop-color="#090909"/></linearGradient><linearGradient id="q60" gradientUnits="userSpaceOnUse" x1="0" y1="393.3" x2="0" y2="403.1"><stop offset="0" stop-color="#090909"/><stop offset="0.118" stop-color="#222222"/><stop offset="0.184" stop-color="#3c3c3c"/><stop offset="0.237" stop-color="#5a5a5a"/><stop offset="0.289" stop-color="#7e7e7e"/><stop offset="0.368" stop-color="#b9b9b9"/><stop offset="0.5" stop-color="#f5f5f5"/><stop offset="0.632" stop-color="#b9b9b9"/><stop offset="0.711" stop-color="#7e7e7e"/><stop offset="0.763" stop-color="#5a5a5a"/><stop offset="0.816" stop-color="#3c3c3c"/><stop offset="0.882" stop-color="#222222"/><stop offset="1" stop-color="#090909"/></linearGradient><linearGradient id="q61" gradientUnits="userSpaceOnUse" x1="0" y1="393.4" x2="0" y2="403.0"><stop offset="0" stop-color="#090909"/><stop offset="0.118" stop-color="#222222"/><stop offset="0.184" stop-color="#3d3d3d"/><stop offset="0.237" stop-color="#5a5a5a"/><stop offset="0.289" stop-color="#7e7e7e"/><stop offset="0.368" stop-color="#bababa"/><stop offset="0.5" stop-color="#f5f5f5"/><stop offset="0.632" stop-color="#bababa"/><stop offset="0.711" stop-color="#7e7e7e"/><stop offset="0.763" stop-color="#5a5a5a"/><stop offset="0.816" stop-color="#3d3d3d"/><stop offset="0.882" stop-color="#222222"/><stop offset="1" stop-color="#090909"/></linearGradient><linearGradient id="q62" gradientUnits="userSpaceOnUse" x1="0" y1="393.5" x2="0" y2="402.9"><stop offset="0" stop-color="#090909"/><stop offset="0.118" stop-color="#222222"/><stop offset="0.184" stop-color="#3d3d3d"/><stop offset="0.237" stop-color="#5b5b5b"/><stop offset="0.289" stop-color="#7f7f7f"/><stop offset="0.368" stop-color="#bababa"/><stop offset="0.5" stop-color="#f6f6f6"/><stop offset="0.632" stop-color="#bababa"/><stop offset="0.711" stop-color="#7f7f7f"/><stop offset="0.763" stop-color="#5b5b5b"/><stop offset="0.816" stop-color="#3d3d3d"/><stop offset="0.882" stop-color="#222222"/><stop offset="1" stop-color="#090909"/></linearGradient><linearGradient id="q63" gradientUnits="userSpaceOnUse" x1="0" y1="393.6" x2="0" y2="402.8"><stop offset="0" stop-color="#090909"/><stop offset="0.118" stop-color="#222222"/><stop offset="0.184" stop-color="#3d3d3d"/><stop offset="0.237" stop-color="#5b5b5b"/><stop offset="0.289" stop-color="#7f7f7f"/><stop offset="0.368" stop-color="#bbbbbb"/><stop offset="0.5" stop-color="#f7f7f7"/><stop offset="0.632" stop-color="#bbbbbb"/><stop offset="0.711" stop-color="#7f7f7f"/><stop offset="0.763" stop-color="#5b5b5b"/><stop offset="0.816" stop-color="#3d3d3d"/><stop offset="0.882" stop-color="#222222"/><stop offset="1" stop-color="#090909"/></linearGradient><linearGradient id="q64" gradientUnits="userSpaceOnUse" x1="0" y1="393.5" x2="0" y2="402.9"><stop offset="0" stop-color="#090909"/><stop offset="0.118" stop-color="#222222"/><stop offset="0.184" stop-color="#3d3d3d"/><stop offset="0.237" stop-color="#5b5b5b"/><stop offset="0.289" stop-color="#7f7f7f"/><stop offset="0.368" stop-color="#bbbbbb"/><stop offset="0.5" stop-color="#f6f6f6"/><stop offset="0.632" stop-color="#bbbbbb"/><stop offset="0.711" stop-color="#7f7f7f"/><stop offset="0.763" stop-color="#5b5b5b"/><stop offset="0.816" stop-color="#3d3d3d"/><stop offset="0.882" stop-color="#222222"/><stop offset="1" stop-color="#090909"/></linearGradient><linearGradient id="q65" gradientUnits="userSpaceOnUse" x1="0" y1="393.3" x2="0" y2="403.0"><stop offset="0" stop-color="#090909"/><stop offset="0.118" stop-color="#212121"/><stop offset="0.184" stop-color="#3c3c3c"/><stop offset="0.237" stop-color="#5a5a5a"/><stop offset="0.289" stop-color="#7e7e7e"/><stop offset="0.368" stop-color="#bababa"/><stop offset="0.5" stop-color="#f5f5f5"/><stop offset="0.632" stop-color="#bababa"/><stop offset="0.711" stop-color="#7e7e7e"/><stop offset="0.763" stop-color="#5a5a5a"/><stop offset="0.816" stop-color="#3c3c3c"/><stop offset="0.882" stop-color="#212121"/><stop offset="1" stop-color="#090909"/></linearGradient><linearGradient id="q66" gradientUnits="userSpaceOnUse" x1="0" y1="393.1" x2="0" y2="403.2"><stop offset="0" stop-color="#090909"/><stop offset="0.118" stop-color="#212121"/><stop offset="0.184" stop-color="#3c3c3c"/><stop offset="0.237" stop-color="#5a5a5a"/><stop offset="0.289" stop-color="#7e7e7e"/><stop offset="0.368" stop-color="#b9b9b9"/><stop offset="0.5" stop-color="#f4f4f4"/><stop offset="0.632" stop-color="#b9b9b9"/><stop offset="0.711" stop-color="#7e7e7e"/><stop offset="0.763" stop-color="#5a5a5a"/><stop offset="0.816" stop-color="#3c3c3c"/><stop offset="0.882" stop-color="#212121"/><stop offset="1" stop-color="#090909"/></linearGradient><linearGradient id="q67" gradientUnits="userSpaceOnUse" x1="0" y1="393.0" x2="0" y2="403.3"><stop offset="0" stop-color="#090909"/><stop offset="0.118" stop-color="#212121"/><stop offset="0.184" stop-color="#3b3b3b"/><stop offset="0.237" stop-color="#595959"/><stop offset="0.289" stop-color="#7d7d7d"/><stop offset="0.368" stop-color="#b8b8b8"/><stop offset="0.5" stop-color="#f2f2f2"/><stop offset="0.632" stop-color="#b8b8b8"/><stop offset="0.711" stop-color="#7d7d7d"/><stop offset="0.763" stop-color="#595959"/><stop offset="0.816" stop-color="#3b3b3b"/><stop offset="0.882" stop-color="#212121"/><stop offset="1" stop-color="#090909"/></linearGradient><linearGradient id="q68" gradientUnits="userSpaceOnUse" x1="0" y1="392.8" x2="0" y2="403.4"><stop offset="0" stop-color="#090909"/><stop offset="0.118" stop-color="#212121"/><stop offset="0.184" stop-color="#3b3b3b"/><stop offset="0.237" stop-color="#595959"/><stop offset="0.289" stop-color="#7c7c7c"/><stop offset="0.368" stop-color="#b7b7b7"/><stop offset="0.5" stop-color="#f1f1f1"/><stop offset="0.632" stop-color="#b7b7b7"/><stop offset="0.711" stop-color="#7c7c7c"/><stop offset="0.763" stop-color="#595959"/><stop offset="0.816" stop-color="#3b3b3b"/><stop offset="0.882" stop-color="#212121"/><stop offset="1" stop-color="#090909"/></linearGradient><linearGradient id="q69" gradientUnits="userSpaceOnUse" x1="0" y1="392.6" x2="0" y2="403.5"><stop offset="0" stop-color="#090909"/><stop offset="0.118" stop-color="#202020"/><stop offset="0.184" stop-color="#3b3b3b"/><stop offset="0.237" stop-color="#585858"/><stop offset="0.289" stop-color="#7c7c7c"/><stop offset="0.368" stop-color="#b6b6b6"/><stop offset="0.5" stop-color="#efefef"/><stop offset="0.632" stop-color="#b6b6b6"/><stop offset="0.711" stop-color="#7c7c7c"/><stop offset="0.763" stop-color="#585858"/><stop offset="0.816" stop-color="#3b3b3b"/><stop offset="0.882" stop-color="#202020"/><stop offset="1" stop-color="#090909"/></linearGradient><linearGradient id="q70" gradientUnits="userSpaceOnUse" x1="0" y1="392.5" x2="0" y2="403.7"><stop offset="0" stop-color="#090909"/><stop offset="0.118" stop-color="#202020"/><stop offset="0.184" stop-color="#3a3a3a"/><stop offset="0.237" stop-color="#585858"/><stop offset="0.289" stop-color="#7b7b7b"/><stop offset="0.368" stop-color="#b5b5b5"/><stop offset="0.5" stop-color="#eeeeee"/><stop offset="0.632" stop-color="#b5b5b5"/><stop offset="0.711" stop-color="#7b7b7b"/><stop offset="0.763" stop-color="#585858"/><stop offset="0.816" stop-color="#3a3a3a"/><stop offset="0.882" stop-color="#202020"/><stop offset="1" stop-color="#090909"/></linearGradient><linearGradient id="q71" gradientUnits="userSpaceOnUse" x1="0" y1="392.3" x2="0" y2="403.8"><stop offset="0" stop-color="#080808"/><stop offset="0.118" stop-color="#202020"/><stop offset="0.184" stop-color="#3a3a3a"/><stop offset="0.237" stop-color="#565656"/><stop offset="0.289" stop-color="#7a7a7a"/><stop offset="0.368" stop-color="#b3b3b3"/><stop offset="0.5" stop-color="#ebebeb"/><stop offset="0.632" stop-color="#b3b3b3"/><stop offset="0.711" stop-color="#7a7a7a"/><stop offset="0.763" stop-color="#565656"/><stop offset="0.816" stop-color="#3a3a3a"/><stop offset="0.882" stop-color="#202020"/><stop offset="1" stop-color="#080808"/></linearGradient><linearGradient id="q72" gradientUnits="userSpaceOnUse" x1="0" y1="392.1" x2="0" y2="403.9"><stop offset="0" stop-color="#080808"/><stop offset="0.118" stop-color="#1f1f1f"/><stop offset="0.184" stop-color="#383838"/><stop offset="0.237" stop-color="#555555"/><stop offset="0.289" stop-color="#787878"/><stop offset="0.368" stop-color="#b0b0b0"/><stop offset="0.5" stop-color="#e7e7e7"/><stop offset="0.632" stop-color="#b0b0b0"/><stop offset="0.711" stop-color="#787878"/><stop offset="0.763" stop-color="#555555"/><stop offset="0.816" stop-color="#383838"/><stop offset="0.882" stop-color="#1f1f1f"/><stop offset="1" stop-color="#080808"/></linearGradient><linearGradient id="q73" gradientUnits="userSpaceOnUse" x1="0" y1="391.7" x2="0" y2="404.2"><stop offset="0" stop-color="#080808"/><stop offset="0.118" stop-color="#1e1e1e"/><stop offset="0.184" stop-color="#373737"/><stop offset="0.237" stop-color="#535353"/><stop offset="0.289" stop-color="#757575"/><stop offset="0.368" stop-color="#adadad"/><stop offset="0.5" stop-color="#e3e3e3"/><stop offset="0.632" stop-color="#adadad"/><stop offset="0.711" stop-color="#757575"/><stop offset="0.763" stop-color="#535353"/><stop offset="0.816" stop-color="#373737"/><stop offset="0.882" stop-color="#1e1e1e"/><stop offset="1" stop-color="#080808"/></linearGradient><linearGradient id="q74" gradientUnits="userSpaceOnUse" x1="0" y1="391.2" x2="0" y2="404.7"><stop offset="0" stop-color="#080808"/><stop offset="0.118" stop-color="#1e1e1e"/><stop offset="0.184" stop-color="#363636"/><stop offset="0.237" stop-color="#525252"/><stop offset="0.289" stop-color="#737373"/><stop offset="0.368" stop-color="#aaaaaa"/><stop offset="0.5" stop-color="#dedede"/><stop offset="0.632" stop-color="#aaaaaa"/><stop offset="0.711" stop-color="#737373"/><stop offset="0.763" stop-color="#525252"/><stop offset="0.816" stop-color="#363636"/><stop offset="0.882" stop-color="#1e1e1e"/><stop offset="1" stop-color="#080808"/></linearGradient><linearGradient id="q75" gradientUnits="userSpaceOnUse" x1="0" y1="390.6" x2="0" y2="405.3"><stop offset="0" stop-color="#070707"/><stop offset="0.118" stop-color="#1c1c1c"/><stop offset="0.184" stop-color="#343434"/><stop offset="0.237" stop-color="#4e4e4e"/><stop offset="0.289" stop-color="#6f6f6f"/><stop offset="0.368" stop-color="#a3a3a3"/><stop offset="0.5" stop-color="#d5d5d5"/><stop offset="0.632" stop-color="#a3a3a3"/><stop offset="0.711" stop-color="#6f6f6f"/><stop offset="0.763" stop-color="#4e4e4e"/><stop offset="0.816" stop-color="#343434"/><stop offset="0.882" stop-color="#1c1c1c"/><stop offset="1" stop-color="#070707"/></linearGradient><linearGradient id="q76" gradientUnits="userSpaceOnUse" x1="0" y1="390.0" x2="0" y2="405.8"><stop offset="0" stop-color="#070707"/><stop offset="0.118" stop-color="#1b1b1b"/><stop offset="0.184" stop-color="#323232"/><stop offset="0.237" stop-color="#4b4b4b"/><stop offset="0.289" stop-color="#6a6a6a"/><stop offset="0.368" stop-color="#9c9c9c"/><stop offset="0.5" stop-color="#cccccc"/><stop offset="0.632" stop-color="#9c9c9c"/><stop offset="0.711" stop-color="#6a6a6a"/><stop offset="0.763" stop-color="#4b4b4b"/><stop offset="0.816" stop-color="#323232"/><stop offset="0.882" stop-color="#1b1b1b"/><stop offset="1" stop-color="#070707"/></linearGradient><linearGradient id="q77" gradientUnits="userSpaceOnUse" x1="0" y1="389.4" x2="0" y2="406.4"><stop offset="0" stop-color="#070707"/><stop offset="0.118" stop-color="#191919"/><stop offset="0.184" stop-color="#2f2f2f"/><stop offset="0.237" stop-color="#474747"/><stop offset="0.289" stop-color="#646464"/><stop offset="0.368" stop-color="#939393"/><stop offset="0.5" stop-color="#c1c1c1"/><stop offset="0.632" stop-color="#939393"/><stop offset="0.711" stop-color="#646464"/><stop offset="0.763" stop-color="#474747"/><stop offset="0.816" stop-color="#2f2f2f"/><stop offset="0.882" stop-color="#191919"/><stop offset="1" stop-color="#070707"/></linearGradient><linearGradient id="q78" gradientUnits="userSpaceOnUse" x1="0" y1="388.7" x2="0" y2="407.0"><stop offset="0" stop-color="#060606"/><stop offset="0.118" stop-color="#181818"/><stop offset="0.184" stop-color="#2c2c2c"/><stop offset="0.237" stop-color="#424242"/><stop offset="0.289" stop-color="#5d5d5d"/><stop offset="0.368" stop-color="#898989"/><stop offset="0.5" stop-color="#b4b4b4"/><stop offset="0.632" stop-color="#898989"/><stop offset="0.711" stop-color="#5d5d5d"/><stop offset="0.763" stop-color="#424242"/><stop offset="0.816" stop-color="#2c2c2c"/><stop offset="0.882" stop-color="#181818"/><stop offset="1" stop-color="#060606"/></linearGradient><linearGradient id="q79" gradientUnits="userSpaceOnUse" x1="0" y1="388.0" x2="0" y2="407.7"><stop offset="0" stop-color="#050505"/><stop offset="0.118" stop-color="#151515"/><stop offset="0.184" stop-color="#282828"/><stop offset="0.237" stop-color="#3d3d3d"/><stop offset="0.289" stop-color="#575757"/><stop offset="0.368" stop-color="#818181"/><stop offset="0.5" stop-color="#a7a7a7"/><stop offset="0.632" stop-color="#818181"/><stop offset="0.711" stop-color="#575757"/><stop offset="0.763" stop-color="#3d3d3d"/><stop offset="0.816" stop-color="#282828"/><stop offset="0.882" stop-color="#151515"/><stop offset="1" stop-color="#050505"/></linearGradient><linearGradient id="q80" gradientUnits="userSpaceOnUse" x1="0" y1="387.1" x2="0" y2="408.6"><stop offset="0" stop-color="#040404"/><stop offset="0.118" stop-color="#131313"/><stop offset="0.184" stop-color="#242424"/><stop offset="0.237" stop-color="#393939"/><stop offset="0.289" stop-color="#515151"/><stop offset="0.368" stop-color="#787878"/><stop offset="0.5" stop-color="#9a9a9a"/><stop offset="0.632" stop-color="#787878"/><stop offset="0.711" stop-color="#515151"/><stop offset="0.763" stop-color="#393939"/><stop offset="0.816" stop-color="#242424"/><stop offset="0.882" stop-color="#131313"/><stop offset="1" stop-color="#040404"/></linearGradient><linearGradient id="q81" gradientUnits="userSpaceOnUse" x1="0" y1="386.1" x2="0" y2="409.5"><stop offset="0" stop-color="#040404"/><stop offset="0.118" stop-color="#101010"/><stop offset="0.184" stop-color="#212121"/><stop offset="0.237" stop-color="#343434"/><stop offset="0.289" stop-color="#4c4c4c"/><stop offset="0.368" stop-color="#707070"/><stop offset="0.5" stop-color="#8e8e8e"/><stop offset="0.632" stop-color="#707070"/><stop offset="0.711" stop-color="#4c4c4c"/><stop offset="0.763" stop-color="#343434"/><stop offset="0.816" stop-color="#212121"/><stop offset="0.882" stop-color="#101010"/><stop offset="1" stop-color="#040404"/></linearGradient><linearGradient id="q82" gradientUnits="userSpaceOnUse" x1="0" y1="385.0" x2="0" y2="410.5"><stop offset="0" stop-color="#040404"/><stop offset="0.118" stop-color="#0e0e0e"/><stop offset="0.184" stop-color="#1d1d1d"/><stop offset="0.237" stop-color="#2f2f2f"/><stop offset="0.289" stop-color="#454545"/><stop offset="0.368" stop-color="#676767"/><stop offset="0.5" stop-color="#818181"/><stop offset="0.632" stop-color="#676767"/><stop offset="0.711" stop-color="#454545"/><stop offset="0.763" stop-color="#2f2f2f"/><stop offset="0.816" stop-color="#1d1d1d"/><stop offset="0.882" stop-color="#0e0e0e"/><stop offset="1" stop-color="#040404"/></linearGradient><linearGradient id="q83" gradientUnits="userSpaceOnUse" x1="0" y1="384.1" x2="0" y2="411.4"><stop offset="0" stop-color="#040404"/><stop offset="0.118" stop-color="#0c0c0c"/><stop offset="0.184" stop-color="#1b1b1b"/><stop offset="0.237" stop-color="#2d2d2d"/><stop offset="0.289" stop-color="#434343"/><stop offset="0.368" stop-color="#646464"/><stop offset="0.5" stop-color="#7b7b7b"/><stop offset="0.632" stop-color="#646464"/><stop offset="0.711" stop-color="#434343"/><stop offset="0.763" stop-color="#2d2d2d"/><stop offset="0.816" stop-color="#1b1b1b"/><stop offset="0.882" stop-color="#0c0c0c"/><stop offset="1" stop-color="#040404"/></linearGradient><linearGradient id="q84" gradientUnits="userSpaceOnUse" x1="0" y1="383.2" x2="0" y2="412.3"><stop offset="0" stop-color="#040404"/><stop offset="0.118" stop-color="#0b0b0b"/><stop offset="0.184" stop-color="#1a1a1a"/><stop offset="0.237" stop-color="#2c2c2c"/><stop offset="0.289" stop-color="#414141"/><stop offset="0.368" stop-color="#616161"/><stop offset="0.5" stop-color="#777777"/><stop offset="0.632" stop-color="#616161"/><stop offset="0.711" stop-color="#414141"/><stop offset="0.763" stop-color="#2c2c2c"/><stop offset="0.816" stop-color="#1a1a1a"/><stop offset="0.882" stop-color="#0b0b0b"/><stop offset="1" stop-color="#040404"/></linearGradient><linearGradient id="q85" gradientUnits="userSpaceOnUse" x1="0" y1="382.2" x2="0" y2="413.2"><stop offset="0" stop-color="#040404"/><stop offset="0.118" stop-color="#0a0a0a"/><stop offset="0.184" stop-color="#181818"/><stop offset="0.237" stop-color="#2a2a2a"/><stop offset="0.289" stop-color="#3f3f3f"/><stop offset="0.368" stop-color="#5e5e5e"/><stop offset="0.5" stop-color="#727272"/><stop offset="0.632" stop-color="#5e5e5e"/><stop offset="0.711" stop-color="#3f3f3f"/><stop offset="0.763" stop-color="#2a2a2a"/><stop offset="0.816" stop-color="#181818"/><stop offset="0.882" stop-color="#0a0a0a"/><stop offset="1" stop-color="#040404"/></linearGradient><linearGradient id="q86" gradientUnits="userSpaceOnUse" x1="0" y1="381.3" x2="0" y2="414.1"><stop offset="0" stop-color="#040404"/><stop offset="0.118" stop-color="#090909"/><stop offset="0.184" stop-color="#171717"/><stop offset="0.237" stop-color="#282828"/><stop offset="0.289" stop-color="#3d3d3d"/><stop offset="0.368" stop-color="#5b5b5b"/><stop offset="0.5" stop-color="#6d6d6d"/><stop offset="0.632" stop-color="#5b5b5b"/><stop offset="0.711" stop-color="#3d3d3d"/><stop offset="0.763" stop-color="#282828"/><stop offset="0.816" stop-color="#171717"/><stop offset="0.882" stop-color="#090909"/><stop offset="1" stop-color="#040404"/></linearGradient><linearGradient id="q87" gradientUnits="userSpaceOnUse" x1="0" y1="380.3" x2="0" y2="415.1"><stop offset="0" stop-color="#040404"/><stop offset="0.118" stop-color="#080808"/><stop offset="0.184" stop-color="#161616"/><stop offset="0.237" stop-color="#272727"/><stop offset="0.289" stop-color="#3c3c3c"/><stop offset="0.368" stop-color="#595959"/><stop offset="0.5" stop-color="#6a6a6a"/><stop offset="0.632" stop-color="#595959"/><stop offset="0.711" stop-color="#3c3c3c"/><stop offset="0.763" stop-color="#272727"/><stop offset="0.816" stop-color="#161616"/><stop offset="0.882" stop-color="#080808"/><stop offset="1" stop-color="#040404"/></linearGradient><linearGradient id="q88" gradientUnits="userSpaceOnUse" x1="0" y1="379.4" x2="0" y2="415.9"><stop offset="0" stop-color="#040404"/><stop offset="0.118" stop-color="#070707"/><stop offset="0.184" stop-color="#151515"/><stop offset="0.237" stop-color="#262626"/><stop offset="0.289" stop-color="#3b3b3b"/><stop offset="0.368" stop-color="#585858"/><stop offset="0.5" stop-color="#676767"/><stop offset="0.632" stop-color="#585858"/><stop offset="0.711" stop-color="#3b3b3b"/><stop offset="0.763" stop-color="#262626"/><stop offset="0.816" stop-color="#151515"/><stop offset="0.882" stop-color="#070707"/><stop offset="1" stop-color="#040404"/></linearGradient><linearGradient id="q89" gradientUnits="userSpaceOnUse" x1="0" y1="378.4" x2="0" y2="416.8"><stop offset="0" stop-color="#040404"/><stop offset="0.118" stop-color="#070707"/><stop offset="0.184" stop-color="#141414"/><stop offset="0.237" stop-color="#252525"/><stop offset="0.289" stop-color="#3a3a3a"/><stop offset="0.368" stop-color="#565656"/><stop offset="0.5" stop-color="#656565"/><stop offset="0.632" stop-color="#565656"/><stop offset="0.711" stop-color="#3a3a3a"/><stop offset="0.763" stop-color="#252525"/><stop offset="0.816" stop-color="#141414"/><stop offset="0.882" stop-color="#070707"/><stop offset="1" stop-color="#040404"/></linearGradient><linearGradient id="q90" gradientUnits="userSpaceOnUse" x1="0" y1="377.5" x2="0" y2="417.8"><stop offset="0" stop-color="#040404"/><stop offset="0.118" stop-color="#060606"/><stop offset="0.184" stop-color="#131313"/><stop offset="0.237" stop-color="#242424"/><stop offset="0.289" stop-color="#393939"/><stop offset="0.368" stop-color="#545454"/><stop offset="0.5" stop-color="#626262"/><stop offset="0.632" stop-color="#545454"/><stop offset="0.711" stop-color="#393939"/><stop offset="0.763" stop-color="#242424"/><stop offset="0.816" stop-color="#131313"/><stop offset="0.882" stop-color="#060606"/><stop offset="1" stop-color="#040404"/></linearGradient><linearGradient id="q91" gradientUnits="userSpaceOnUse" x1="0" y1="376.5" x2="0" y2="418.6"><stop offset="0" stop-color="#040404"/><stop offset="0.118" stop-color="#060606"/><stop offset="0.184" stop-color="#121212"/><stop offset="0.237" stop-color="#232323"/><stop offset="0.289" stop-color="#383838"/><stop offset="0.368" stop-color="#535353"/><stop offset="0.5" stop-color="#5f5f5f"/><stop offset="0.632" stop-color="#535353"/><stop offset="0.711" stop-color="#383838"/><stop offset="0.763" stop-color="#232323"/><stop offset="0.816" stop-color="#121212"/><stop offset="0.882" stop-color="#060606"/><stop offset="1" stop-color="#040404"/></linearGradient><linearGradient id="q92" gradientUnits="userSpaceOnUse" x1="0" y1="375.6" x2="0" y2="419.5"><stop offset="0" stop-color="#040404"/><stop offset="0.118" stop-color="#050505"/><stop offset="0.184" stop-color="#111111"/><stop offset="0.237" stop-color="#222222"/><stop offset="0.289" stop-color="#373737"/><stop offset="0.368" stop-color="#515151"/><stop offset="0.5" stop-color="#5d5d5d"/><stop offset="0.632" stop-color="#515151"/><stop offset="0.711" stop-color="#373737"/><stop offset="0.763" stop-color="#222222"/><stop offset="0.816" stop-color="#111111"/><stop offset="0.882" stop-color="#050505"/><stop offset="1" stop-color="#040404"/></linearGradient><linearGradient id="q93" gradientUnits="userSpaceOnUse" x1="0" y1="374.8" x2="0" y2="420.3"><stop offset="0" stop-color="#040404"/><stop offset="0.118" stop-color="#050505"/><stop offset="0.184" stop-color="#111111"/><stop offset="0.237" stop-color="#212121"/><stop offset="0.289" stop-color="#353535"/><stop offset="0.368" stop-color="#4f4f4f"/><stop offset="0.5" stop-color="#5a5a5a"/><stop offset="0.632" stop-color="#4f4f4f"/><stop offset="0.711" stop-color="#353535"/><stop offset="0.763" stop-color="#212121"/><stop offset="0.816" stop-color="#111111"/><stop offset="0.882" stop-color="#050505"/><stop offset="1" stop-color="#040404"/></linearGradient><linearGradient id="q94" gradientUnits="userSpaceOnUse" x1="0" y1="374.2" x2="0" y2="420.9"><stop offset="0" stop-color="#040404"/><stop offset="0.118" stop-color="#050505"/><stop offset="0.184" stop-color="#101010"/><stop offset="0.237" stop-color="#202020"/><stop offset="0.289" stop-color="#343434"/><stop offset="0.368" stop-color="#4d4d4d"/><stop offset="0.5" stop-color="#585858"/><stop offset="0.632" stop-color="#4d4d4d"/><stop offset="0.711" stop-color="#343434"/><stop offset="0.763" stop-color="#202020"/><stop offset="0.816" stop-color="#101010"/><stop offset="0.882" stop-color="#050505"/><stop offset="1" stop-color="#040404"/></linearGradient><linearGradient id="q95" gradientUnits="userSpaceOnUse" x1="0" y1="373.5" x2="0" y2="421.5"><stop offset="0" stop-color="#040404"/><stop offset="0.118" stop-color="#040404"/><stop offset="0.184" stop-color="#101010"/><stop offset="0.237" stop-color="#202020"/><stop offset="0.289" stop-color="#333333"/><stop offset="0.368" stop-color="#4c4c4c"/><stop offset="0.5" stop-color="#565656"/><stop offset="0.632" stop-color="#4c4c4c"/><stop offset="0.711" stop-color="#333333"/><stop offset="0.763" stop-color="#202020"/><stop offset="0.816" stop-color="#101010"/><stop offset="0.882" stop-color="#040404"/><stop offset="1" stop-color="#040404"/></linearGradient><linearGradient id="q96" gradientUnits="userSpaceOnUse" x1="0" y1="372.9" x2="0" y2="422.1"><stop offset="0" stop-color="#040404"/><stop offset="0.118" stop-color="#040404"/><stop offset="0.184" stop-color="#0f0f0f"/><stop offset="0.237" stop-color="#1f1f1f"/><stop offset="0.289" stop-color="#333333"/><stop offset="0.368" stop-color="#4a4a4a"/><stop offset="0.5" stop-color="#545454"/><stop offset="0.632" stop-color="#4a4a4a"/><stop offset="0.711" stop-color="#333333"/><stop offset="0.763" stop-color="#1f1f1f"/><stop offset="0.816" stop-color="#0f0f0f"/><stop offset="0.882" stop-color="#040404"/><stop offset="1" stop-color="#040404"/></linearGradient><linearGradient id="q97" gradientUnits="userSpaceOnUse" x1="0" y1="372.2" x2="0" y2="422.7"><stop offset="0" stop-color="#040404"/><stop offset="0.118" stop-color="#040404"/><stop offset="0.184" stop-color="#0f0f0f"/><stop offset="0.237" stop-color="#1e1e1e"/><stop offset="0.289" stop-color="#323232"/><stop offset="0.368" stop-color="#494949"/><stop offset="0.5" stop-color="#535353"/><stop offset="0.632" stop-color="#494949"/><stop offset="0.711" stop-color="#323232"/><stop offset="0.763" stop-color="#1e1e1e"/><stop offset="0.816" stop-color="#0f0f0f"/><stop offset="0.882" stop-color="#040404"/><stop offset="1" stop-color="#040404"/></linearGradient><linearGradient id="q98" gradientUnits="userSpaceOnUse" x1="0" y1="371.6" x2="0" y2="423.3"><stop offset="0" stop-color="#040404"/><stop offset="0.118" stop-color="#040404"/><stop offset="0.184" stop-color="#0e0e0e"/><stop offset="0.237" stop-color="#1e1e1e"/><stop offset="0.289" stop-color="#313131"/><stop offset="0.368" stop-color="#484848"/><stop offset="0.5" stop-color="#515151"/><stop offset="0.632" stop-color="#484848"/><stop offset="0.711" stop-color="#313131"/><stop offset="0.763" stop-color="#1e1e1e"/><stop offset="0.816" stop-color="#0e0e0e"/><stop offset="0.882" stop-color="#040404"/><stop offset="1" stop-color="#040404"/></linearGradient><linearGradient id="q99" gradientUnits="userSpaceOnUse" x1="0" y1="370.9" x2="0" y2="423.9"><stop offset="0" stop-color="#040404"/><stop offset="0.118" stop-color="#040404"/><stop offset="0.184" stop-color="#0e0e0e"/><stop offset="0.237" stop-color="#1d1d1d"/><stop offset="0.289" stop-color="#303030"/><stop offset="0.368" stop-color="#464646"/><stop offset="0.5" stop-color="#4f4f4f"/><stop offset="0.632" stop-color="#464646"/><stop offset="0.711" stop-color="#303030"/><stop offset="0.763" stop-color="#1d1d1d"/><stop offset="0.816" stop-color="#0e0e0e"/><stop offset="0.882" stop-color="#040404"/><stop offset="1" stop-color="#040404"/></linearGradient><linearGradient id="q100" gradientUnits="userSpaceOnUse" x1="0" y1="370.3" x2="0" y2="424.5"><stop offset="0" stop-color="#040404"/><stop offset="0.118" stop-color="#040404"/><stop offset="0.184" stop-color="#0d0d0d"/><stop offset="0.237" stop-color="#1c1c1c"/><stop offset="0.289" stop-color="#2f2f2f"/><stop offset="0.368" stop-color="#454545"/><stop offset="0.5" stop-color="#4d4d4d"/><stop offset="0.632" stop-color="#454545"/><stop offset="0.711" stop-color="#2f2f2f"/><stop offset="0.763" stop-color="#1c1c1c"/><stop offset="0.816" stop-color="#0d0d0d"/><stop offset="0.882" stop-color="#040404"/><stop offset="1" stop-color="#040404"/></linearGradient><linearGradient id="q101" gradientUnits="userSpaceOnUse" x1="0" y1="369.6" x2="0" y2="425.2"><stop offset="0" stop-color="#040404"/><stop offset="0.118" stop-color="#040404"/><stop offset="0.184" stop-color="#0d0d0d"/><stop offset="0.237" stop-color="#1c1c1c"/><stop offset="0.289" stop-color="#2e2e2e"/><stop offset="0.368" stop-color="#434343"/><stop offset="0.5" stop-color="#4b4b4b"/><stop offset="0.632" stop-color="#434343"/><stop offset="0.711" stop-color="#2e2e2e"/><stop offset="0.763" stop-color="#1c1c1c"/><stop offset="0.816" stop-color="#0d0d0d"/><stop offset="0.882" stop-color="#040404"/><stop offset="1" stop-color="#040404"/></linearGradient><linearGradient id="q102" gradientUnits="userSpaceOnUse" x1="0" y1="368.8" x2="0" y2="425.8"><stop offset="0" stop-color="#040404"/><stop offset="0.118" stop-color="#040404"/><stop offset="0.184" stop-color="#0c0c0c"/><stop offset="0.237" stop-color="#1b1b1b"/><stop offset="0.289" stop-color="#2d2d2d"/><stop offset="0.368" stop-color="#424242"/><stop offset="0.5" stop-color="#494949"/><stop offset="0.632" stop-color="#424242"/><stop offset="0.711" stop-color="#2d2d2d"/><stop offset="0.763" stop-color="#1b1b1b"/><stop offset="0.816" stop-color="#0c0c0c"/><stop offset="0.882" stop-color="#040404"/><stop offset="1" stop-color="#040404"/></linearGradient><linearGradient id="q103" gradientUnits="userSpaceOnUse" x1="0" y1="368.1" x2="0" y2="426.5"><stop offset="0" stop-color="#040404"/><stop offset="0.118" stop-color="#040404"/><stop offset="0.184" stop-color="#0c0c0c"/><stop offset="0.237" stop-color="#1a1a1a"/><stop offset="0.289" stop-color="#2c2c2c"/><stop offset="0.368" stop-color="#404040"/><stop offset="0.5" stop-color="#474747"/><stop offset="0.632" stop-color="#404040"/><stop offset="0.711" stop-color="#2c2c2c"/><stop offset="0.763" stop-color="#1a1a1a"/><stop offset="0.816" stop-color="#0c0c0c"/><stop offset="0.882" stop-color="#040404"/><stop offset="1" stop-color="#040404"/></linearGradient><linearGradient id="q104" gradientUnits="userSpaceOnUse" x1="0" y1="367.4" x2="0" y2="427.2"><stop offset="0" stop-color="#040404"/><stop offset="0.118" stop-color="#040404"/><stop offset="0.184" stop-color="#0b0b0b"/><stop offset="0.237" stop-color="#191919"/><stop offset="0.289" stop-color="#2b2b2b"/><stop offset="0.368" stop-color="#3e3e3e"/><stop offset="0.5" stop-color="#454545"/><stop offset="0.632" stop-color="#3e3e3e"/><stop offset="0.711" stop-color="#2b2b2b"/><stop offset="0.763" stop-color="#191919"/><stop offset="0.816" stop-color="#0b0b0b"/><stop offset="0.882" stop-color="#040404"/><stop offset="1" stop-color="#040404"/></linearGradient><linearGradient id="q105" gradientUnits="userSpaceOnUse" x1="0" y1="366.6" x2="0" y2="428.0"><stop offset="0" stop-color="#040404"/><stop offset="0.118" stop-color="#040404"/><stop offset="0.184" stop-color="#0b0b0b"/><stop offset="0.237" stop-color="#191919"/><stop offset="0.289" stop-color="#292929"/><stop offset="0.368" stop-color="#3c3c3c"/><stop offset="0.5" stop-color="#434343"/><stop offset="0.632" stop-color="#3c3c3c"/><stop offset="0.711" stop-color="#292929"/><stop offset="0.763" stop-color="#191919"/><stop offset="0.816" stop-color="#0b0b0b"/><stop offset="0.882" stop-color="#040404"/><stop offset="1" stop-color="#040404"/></linearGradient><linearGradient id="q106" gradientUnits="userSpaceOnUse" x1="0" y1="365.8" x2="0" y2="428.7"><stop offset="0" stop-color="#040404"/><stop offset="0.118" stop-color="#040404"/><stop offset="0.184" stop-color="#0a0a0a"/><stop offset="0.237" stop-color="#181818"/><stop offset="0.289" stop-color="#282828"/><stop offset="0.368" stop-color="#3b3b3b"/><stop offset="0.5" stop-color="#414141"/><stop offset="0.632" stop-color="#3b3b3b"/><stop offset="0.711" stop-color="#282828"/><stop offset="0.763" stop-color="#181818"/><stop offset="0.816" stop-color="#0a0a0a"/><stop offset="0.882" stop-color="#040404"/><stop offset="1" stop-color="#040404"/></linearGradient><linearGradient id="q107" gradientUnits="userSpaceOnUse" x1="0" y1="365.3" x2="0" y2="429.1"><stop offset="0" stop-color="#040404"/><stop offset="0.118" stop-color="#040404"/><stop offset="0.184" stop-color="#0a0a0a"/><stop offset="0.237" stop-color="#171717"/><stop offset="0.289" stop-color="#272727"/><stop offset="0.368" stop-color="#383838"/><stop offset="0.5" stop-color="#3e3e3e"/><stop offset="0.632" stop-color="#383838"/><stop offset="0.711" stop-color="#272727"/><stop offset="0.763" stop-color="#171717"/><stop offset="0.816" stop-color="#0a0a0a"/><stop offset="0.882" stop-color="#040404"/><stop offset="1" stop-color="#040404"/></linearGradient><linearGradient id="q108" gradientUnits="userSpaceOnUse" x1="0" y1="365.1" x2="0" y2="429.3"><stop offset="0" stop-color="#040404"/><stop offset="0.118" stop-color="#040404"/><stop offset="0.184" stop-color="#090909"/><stop offset="0.237" stop-color="#161616"/><stop offset="0.289" stop-color="#252525"/><stop offset="0.368" stop-color="#363636"/><stop offset="0.5" stop-color="#3b3b3b"/><stop offset="0.632" stop-color="#363636"/><stop offset="0.711" stop-color="#252525"/><stop offset="0.763" stop-color="#161616"/><stop offset="0.816" stop-color="#090909"/><stop offset="0.882" stop-color="#040404"/><stop offset="1" stop-color="#040404"/></linearGradient><linearGradient id="q109" gradientUnits="userSpaceOnUse" x1="0" y1="364.9" x2="0" y2="429.5"><stop offset="0" stop-color="#040404"/><stop offset="0.118" stop-color="#040404"/><stop offset="0.184" stop-color="#090909"/><stop offset="0.237" stop-color="#151515"/><stop offset="0.289" stop-color="#232323"/><stop offset="0.368" stop-color="#333333"/><stop offset="0.5" stop-color="#383838"/><stop offset="0.632" stop-color="#333333"/><stop offset="0.711" stop-color="#232323"/><stop offset="0.763" stop-color="#151515"/><stop offset="0.816" stop-color="#090909"/><stop offset="0.882" stop-color="#040404"/><stop offset="1" stop-color="#040404"/></linearGradient><linearGradient id="q110" gradientUnits="userSpaceOnUse" x1="0" y1="364.6" x2="0" y2="429.7"><stop offset="0" stop-color="#040404"/><stop offset="0.118" stop-color="#040404"/><stop offset="0.184" stop-color="#080808"/><stop offset="0.237" stop-color="#131313"/><stop offset="0.289" stop-color="#212121"/><stop offset="0.368" stop-color="#303030"/><stop offset="0.5" stop-color="#353535"/><stop offset="0.632" stop-color="#303030"/><stop offset="0.711" stop-color="#212121"/><stop offset="0.763" stop-color="#131313"/><stop offset="0.816" stop-color="#080808"/><stop offset="0.882" stop-color="#040404"/><stop offset="1" stop-color="#040404"/></linearGradient><linearGradient id="q111" gradientUnits="userSpaceOnUse" x1="0" y1="364.1" x2="0" y2="430.1"><stop offset="0" stop-color="#040404"/><stop offset="0.118" stop-color="#040404"/><stop offset="0.184" stop-color="#070707"/><stop offset="0.237" stop-color="#121212"/><stop offset="0.289" stop-color="#1f1f1f"/><stop offset="0.368" stop-color="#2d2d2d"/><stop offset="0.5" stop-color="#313131"/><stop offset="0.632" stop-color="#2d2d2d"/><stop offset="0.711" stop-color="#1f1f1f"/><stop offset="0.763" stop-color="#121212"/><stop offset="0.816" stop-color="#070707"/><stop offset="0.882" stop-color="#040404"/><stop offset="1" stop-color="#040404"/></linearGradient><linearGradient id="q112" gradientUnits="userSpaceOnUse" x1="0" y1="363.4" x2="0" y2="430.7"><stop offset="0" stop-color="#040404"/><stop offset="0.118" stop-color="#040404"/><stop offset="0.184" stop-color="#070707"/><stop offset="0.237" stop-color="#101010"/><stop offset="0.289" stop-color="#1c1c1c"/><stop offset="0.368" stop-color="#292929"/><stop offset="0.5" stop-color="#2d2d2d"/><stop offset="0.632" stop-color="#292929"/><stop offset="0.711" stop-color="#1c1c1c"/><stop offset="0.763" stop-color="#101010"/><stop offset="0.816" stop-color="#070707"/><stop offset="0.882" stop-color="#040404"/><stop offset="1" stop-color="#040404"/></linearGradient><linearGradient id="q113" gradientUnits="userSpaceOnUse" x1="0" y1="362.6" x2="0" y2="431.5"><stop offset="0" stop-color="#040404"/><stop offset="0.118" stop-color="#040404"/><stop offset="0.184" stop-color="#060606"/><stop offset="0.237" stop-color="#0f0f0f"/><stop offset="0.289" stop-color="#1a1a1a"/><stop offset="0.368" stop-color="#252525"/><stop offset="0.5" stop-color="#282828"/><stop offset="0.632" stop-color="#252525"/><stop offset="0.711" stop-color="#1a1a1a"/><stop offset="0.763" stop-color="#0f0f0f"/><stop offset="0.816" stop-color="#060606"/><stop offset="0.882" stop-color="#040404"/><stop offset="1" stop-color="#040404"/></linearGradient><linearGradient id="q114" gradientUnits="userSpaceOnUse" x1="0" y1="361.4" x2="0" y2="432.6"><stop offset="0" stop-color="#040404"/><stop offset="0.118" stop-color="#040404"/><stop offset="0.184" stop-color="#050505"/><stop offset="0.237" stop-color="#0d0d0d"/><stop offset="0.289" stop-color="#171717"/><stop offset="0.368" stop-color="#212121"/><stop offset="0.5" stop-color="#242424"/><stop offset="0.632" stop-color="#212121"/><stop offset="0.711" stop-color="#171717"/><stop offset="0.763" stop-color="#0d0d0d"/><stop offset="0.816" stop-color="#050505"/><stop offset="0.882" stop-color="#040404"/><stop offset="1" stop-color="#040404"/></linearGradient><linearGradient id="q115" gradientUnits="userSpaceOnUse" x1="0" y1="361.2" x2="0" y2="432.8"><stop offset="0" stop-color="#040404"/><stop offset="0.118" stop-color="#040404"/><stop offset="0.184" stop-color="#050505"/><stop offset="0.237" stop-color="#0d0d0d"/><stop offset="0.289" stop-color="#171717"/><stop offset="0.368" stop-color="#212121"/><stop offset="0.5" stop-color="#242424"/><stop offset="0.632" stop-color="#212121"/><stop offset="0.711" stop-color="#171717"/><stop offset="0.763" stop-color="#0d0d0d"/><stop offset="0.816" stop-color="#050505"/><stop offset="0.882" stop-color="#040404"/><stop offset="1" stop-color="#040404"/></linearGradient><linearGradient id="q116" gradientUnits="userSpaceOnUse" x1="0" y1="361.2" x2="0" y2="432.8"><stop offset="0" stop-color="#040404"/><stop offset="0.118" stop-color="#040404"/><stop offset="0.184" stop-color="#050505"/><stop offset="0.237" stop-color="#0d0d0d"/><stop offset="0.289" stop-color="#171717"/><stop offset="0.368" stop-color="#212121"/><stop offset="0.5" stop-color="#242424"/><stop offset="0.632" stop-color="#212121"/><stop offset="0.711" stop-color="#171717"/><stop offset="0.763" stop-color="#0d0d0d"/><stop offset="0.816" stop-color="#050505"/><stop offset="0.882" stop-color="#040404"/><stop offset="1" stop-color="#040404"/></linearGradient><linearGradient id="q117" gradientUnits="userSpaceOnUse" x1="0" y1="361.2" x2="0" y2="432.8"><stop offset="0" stop-color="#040404"/><stop offset="0.118" stop-color="#040404"/><stop offset="0.184" stop-color="#050505"/><stop offset="0.237" stop-color="#0d0d0d"/><stop offset="0.289" stop-color="#171717"/><stop offset="0.368" stop-color="#212121"/><stop offset="0.5" stop-color="#242424"/><stop offset="0.632" stop-color="#212121"/><stop offset="0.711" stop-color="#171717"/><stop offset="0.763" stop-color="#0d0d0d"/><stop offset="0.816" stop-color="#050505"/><stop offset="0.882" stop-color="#040404"/><stop offset="1" stop-color="#040404"/></linearGradient><linearGradient id="q118" gradientUnits="userSpaceOnUse" x1="0" y1="439.3" x2="0" y2="516.7"><stop offset="0" stop-color="#040404"/><stop offset="0.118" stop-color="#040404"/><stop offset="0.184" stop-color="#080808"/><stop offset="0.237" stop-color="#1b1b1b"/><stop offset="0.289" stop-color="#333333"/><stop offset="0.342" stop-color="#424242"/><stop offset="0.395" stop-color="#454545"/><stop offset="0.447" stop-color="#3d3d3d"/><stop offset="0.5" stop-color="#373737"/><stop offset="0.553" stop-color="#3d3d3d"/><stop offset="0.605" stop-color="#454545"/><stop offset="0.658" stop-color="#424242"/><stop offset="0.711" stop-color="#333333"/><stop offset="0.763" stop-color="#1b1b1b"/><stop offset="0.816" stop-color="#080808"/><stop offset="0.882" stop-color="#040404"/><stop offset="1" stop-color="#040404"/></linearGradient><linearGradient id="q119" gradientUnits="userSpaceOnUse" x1="0" y1="439.3" x2="0" y2="516.7"><stop offset="0" stop-color="#040404"/><stop offset="0.118" stop-color="#040404"/><stop offset="0.184" stop-color="#080808"/><stop offset="0.237" stop-color="#1b1b1b"/><stop offset="0.289" stop-color="#333333"/><stop offset="0.342" stop-color="#424242"/><stop offset="0.395" stop-color="#454545"/><stop offset="0.447" stop-color="#3d3d3d"/><stop offset="0.5" stop-color="#373737"/><stop offset="0.553" stop-color="#3d3d3d"/><stop offset="0.605" stop-color="#454545"/><stop offset="0.658" stop-color="#424242"/><stop offset="0.711" stop-color="#333333"/><stop offset="0.763" stop-color="#1b1b1b"/><stop offset="0.816" stop-color="#080808"/><stop offset="0.882" stop-color="#040404"/><stop offset="1" stop-color="#040404"/></linearGradient><linearGradient id="q120" gradientUnits="userSpaceOnUse" x1="0" y1="439.4" x2="0" y2="516.6"><stop offset="0" stop-color="#040404"/><stop offset="0.118" stop-color="#040404"/><stop offset="0.184" stop-color="#080808"/><stop offset="0.237" stop-color="#1b1b1b"/><stop offset="0.289" stop-color="#333333"/><stop offset="0.342" stop-color="#424242"/><stop offset="0.395" stop-color="#454545"/><stop offset="0.447" stop-color="#3d3d3d"/><stop offset="0.5" stop-color="#383838"/><stop offset="0.553" stop-color="#3d3d3d"/><stop offset="0.605" stop-color="#454545"/><stop offset="0.658" stop-color="#424242"/><stop offset="0.711" stop-color="#333333"/><stop offset="0.763" stop-color="#1b1b1b"/><stop offset="0.816" stop-color="#080808"/><stop offset="0.882" stop-color="#040404"/><stop offset="1" stop-color="#040404"/></linearGradient><linearGradient id="q121" gradientUnits="userSpaceOnUse" x1="0" y1="440.2" x2="0" y2="515.9"><stop offset="0" stop-color="#040404"/><stop offset="0.118" stop-color="#040404"/><stop offset="0.184" stop-color="#080808"/><stop offset="0.237" stop-color="#1b1b1b"/><stop offset="0.289" stop-color="#333333"/><stop offset="0.342" stop-color="#434343"/><stop offset="0.395" stop-color="#454545"/><stop offset="0.447" stop-color="#3e3e3e"/><stop offset="0.5" stop-color="#383838"/><stop offset="0.553" stop-color="#3e3e3e"/><stop offset="0.605" stop-color="#454545"/><stop offset="0.658" stop-color="#434343"/><stop offset="0.711" stop-color="#333333"/><stop offset="0.763" stop-color="#1b1b1b"/><stop offset="0.816" stop-color="#080808"/><stop offset="0.882" stop-color="#040404"/><stop offset="1" stop-color="#040404"/></linearGradient><linearGradient id="q122" gradientUnits="userSpaceOnUse" x1="0" y1="440.9" x2="0" y2="515.2"><stop offset="0" stop-color="#040404"/><stop offset="0.118" stop-color="#040404"/><stop offset="0.184" stop-color="#080808"/><stop offset="0.237" stop-color="#1b1b1b"/><stop offset="0.289" stop-color="#333333"/><stop offset="0.342" stop-color="#434343"/><stop offset="0.395" stop-color="#464646"/><stop offset="0.447" stop-color="#3e3e3e"/><stop offset="0.5" stop-color="#393939"/><stop offset="0.553" stop-color="#3e3e3e"/><stop offset="0.605" stop-color="#464646"/><stop offset="0.658" stop-color="#434343"/><stop offset="0.711" stop-color="#333333"/><stop offset="0.763" stop-color="#1b1b1b"/><stop offset="0.816" stop-color="#080808"/><stop offset="0.882" stop-color="#040404"/><stop offset="1" stop-color="#040404"/></linearGradient><linearGradient id="q123" gradientUnits="userSpaceOnUse" x1="0" y1="441.6" x2="0" y2="514.5"><stop offset="0" stop-color="#040404"/><stop offset="0.118" stop-color="#040404"/><stop offset="0.184" stop-color="#080808"/><stop offset="0.237" stop-color="#1c1c1c"/><stop offset="0.289" stop-color="#333333"/><stop offset="0.342" stop-color="#434343"/><stop offset="0.395" stop-color="#464646"/><stop offset="0.447" stop-color="#3f3f3f"/><stop offset="0.5" stop-color="#393939"/><stop offset="0.553" stop-color="#3f3f3f"/><stop offset="0.605" stop-color="#464646"/><stop offset="0.658" stop-color="#434343"/><stop offset="0.711" stop-color="#333333"/><stop offset="0.763" stop-color="#1c1c1c"/><stop offset="0.816" stop-color="#080808"/><stop offset="0.882" stop-color="#040404"/><stop offset="1" stop-color="#040404"/></linearGradient><linearGradient id="q124" gradientUnits="userSpaceOnUse" x1="0" y1="442.4" x2="0" y2="513.8"><stop offset="0" stop-color="#040404"/><stop offset="0.118" stop-color="#040404"/><stop offset="0.184" stop-color="#080808"/><stop offset="0.237" stop-color="#1c1c1c"/><stop offset="0.289" stop-color="#333333"/><stop offset="0.342" stop-color="#434343"/><stop offset="0.395" stop-color="#464646"/><stop offset="0.447" stop-color="#3f3f3f"/><stop offset="0.5" stop-color="#3a3a3a"/><stop offset="0.553" stop-color="#3f3f3f"/><stop offset="0.605" stop-color="#464646"/><stop offset="0.658" stop-color="#434343"/><stop offset="0.711" stop-color="#333333"/><stop offset="0.763" stop-color="#1c1c1c"/><stop offset="0.816" stop-color="#080808"/><stop offset="0.882" stop-color="#040404"/><stop offset="1" stop-color="#040404"/></linearGradient><linearGradient id="q125" gradientUnits="userSpaceOnUse" x1="0" y1="443.1" x2="0" y2="513.1"><stop offset="0" stop-color="#040404"/><stop offset="0.118" stop-color="#040404"/><stop offset="0.184" stop-color="#090909"/><stop offset="0.237" stop-color="#1c1c1c"/><stop offset="0.289" stop-color="#333333"/><stop offset="0.342" stop-color="#434343"/><stop offset="0.395" stop-color="#474747"/><stop offset="0.447" stop-color="#404040"/><stop offset="0.5" stop-color="#3a3a3a"/><stop offset="0.553" stop-color="#404040"/><stop offset="0.605" stop-color="#474747"/><stop offset="0.658" stop-color="#434343"/><stop offset="0.711" stop-color="#333333"/><stop offset="0.763" stop-color="#1c1c1c"/><stop offset="0.816" stop-color="#090909"/><stop offset="0.882" stop-color="#040404"/><stop offset="1" stop-color="#040404"/></linearGradient><linearGradient id="q126" gradientUnits="userSpaceOnUse" x1="0" y1="443.8" x2="0" y2="512.5"><stop offset="0" stop-color="#040404"/><stop offset="0.118" stop-color="#040404"/><stop offset="0.184" stop-color="#090909"/><stop offset="0.237" stop-color="#1c1c1c"/><stop offset="0.289" stop-color="#333333"/><stop offset="0.342" stop-color="#434343"/><stop offset="0.395" stop-color="#474747"/><stop offset="0.447" stop-color="#404040"/><stop offset="0.5" stop-color="#3b3b3b"/><stop offset="0.553" stop-color="#404040"/><stop offset="0.605" stop-color="#474747"/><stop offset="0.658" stop-color="#434343"/><stop offset="0.711" stop-color="#333333"/><stop offset="0.763" stop-color="#1c1c1c"/><stop offset="0.816" stop-color="#090909"/><stop offset="0.882" stop-color="#040404"/><stop offset="1" stop-color="#040404"/></linearGradient><linearGradient id="q127" gradientUnits="userSpaceOnUse" x1="0" y1="444.6" x2="0" y2="511.8"><stop offset="0" stop-color="#040404"/><stop offset="0.118" stop-color="#040404"/><stop offset="0.184" stop-color="#090909"/><stop offset="0.237" stop-color="#1c1c1c"/><stop offset="0.289" stop-color="#333333"/><stop offset="0.342" stop-color="#434343"/><stop offset="0.395" stop-color="#474747"/><stop offset="0.447" stop-color="#414141"/><stop offset="0.5" stop-color="#3b3b3b"/><stop offset="0.553" stop-color="#414141"/><stop offset="0.605" stop-color="#474747"/><stop offset="0.658" stop-color="#434343"/><stop offset="0.711" stop-color="#333333"/><stop offset="0.763" stop-color="#1c1c1c"/><stop offset="0.816" stop-color="#090909"/><stop offset="0.882" stop-color="#040404"/><stop offset="1" stop-color="#040404"/></linearGradient><linearGradient id="q128" gradientUnits="userSpaceOnUse" x1="0" y1="445.3" x2="0" y2="511.1"><stop offset="0" stop-color="#040404"/><stop offset="0.118" stop-color="#040404"/><stop offset="0.184" stop-color="#090909"/><stop offset="0.237" stop-color="#1c1c1c"/><stop offset="0.289" stop-color="#343434"/><stop offset="0.342" stop-color="#444444"/><stop offset="0.395" stop-color="#484848"/><stop offset="0.447" stop-color="#414141"/><stop offset="0.5" stop-color="#3c3c3c"/><stop offset="0.553" stop-color="#414141"/><stop offset="0.605" stop-color="#484848"/><stop offset="0.658" stop-color="#444444"/><stop offset="0.711" stop-color="#343434"/><stop offset="0.763" stop-color="#1c1c1c"/><stop offset="0.816" stop-color="#090909"/><stop offset="0.882" stop-color="#040404"/><stop offset="1" stop-color="#040404"/></linearGradient><linearGradient id="q129" gradientUnits="userSpaceOnUse" x1="0" y1="446.0" x2="0" y2="510.4"><stop offset="0" stop-color="#040404"/><stop offset="0.118" stop-color="#040404"/><stop offset="0.184" stop-color="#0a0a0a"/><stop offset="0.237" stop-color="#1c1c1c"/><stop offset="0.289" stop-color="#343434"/><stop offset="0.342" stop-color="#444444"/><stop offset="0.395" stop-color="#484848"/><stop offset="0.447" stop-color="#424242"/><stop offset="0.5" stop-color="#3d3d3d"/><stop offset="0.553" stop-color="#424242"/><stop offset="0.605" stop-color="#484848"/><stop offset="0.658" stop-color="#444444"/><stop offset="0.711" stop-color="#343434"/><stop offset="0.763" stop-color="#1c1c1c"/><stop offset="0.816" stop-color="#0a0a0a"/><stop offset="0.882" stop-color="#040404"/><stop offset="1" stop-color="#040404"/></linearGradient><linearGradient id="q130" gradientUnits="userSpaceOnUse" x1="0" y1="446.8" x2="0" y2="509.7"><stop offset="0" stop-color="#040404"/><stop offset="0.118" stop-color="#040404"/><stop offset="0.184" stop-color="#0a0a0a"/><stop offset="0.237" stop-color="#1d1d1d"/><stop offset="0.289" stop-color="#343434"/><stop offset="0.342" stop-color="#444444"/><stop offset="0.395" stop-color="#484848"/><stop offset="0.447" stop-color="#424242"/><stop offset="0.5" stop-color="#3d3d3d"/><stop offset="0.553" stop-color="#424242"/><stop offset="0.605" stop-color="#484848"/><stop offset="0.658" stop-color="#444444"/><stop offset="0.711" stop-color="#343434"/><stop offset="0.763" stop-color="#1d1d1d"/><stop offset="0.816" stop-color="#0a0a0a"/><stop offset="0.882" stop-color="#040404"/><stop offset="1" stop-color="#040404"/></linearGradient><linearGradient id="q131" gradientUnits="userSpaceOnUse" x1="0" y1="447.5" x2="0" y2="509.0"><stop offset="0" stop-color="#040404"/><stop offset="0.118" stop-color="#040404"/><stop offset="0.184" stop-color="#0a0a0a"/><stop offset="0.237" stop-color="#1d1d1d"/><stop offset="0.289" stop-color="#343434"/><stop offset="0.342" stop-color="#444444"/><stop offset="0.395" stop-color="#494949"/><stop offset="0.447" stop-color="#434343"/><stop offset="0.5" stop-color="#3e3e3e"/><stop offset="0.553" stop-color="#434343"/><stop offset="0.605" stop-color="#494949"/><stop offset="0.658" stop-color="#444444"/><stop offset="0.711" stop-color="#343434"/><stop offset="0.763" stop-color="#1d1d1d"/><stop offset="0.816" stop-color="#0a0a0a"/><stop offset="0.882" stop-color="#040404"/><stop offset="1" stop-color="#040404"/></linearGradient><linearGradient id="q132" gradientUnits="userSpaceOnUse" x1="0" y1="448.2" x2="0" y2="508.4"><stop offset="0" stop-color="#040404"/><stop offset="0.118" stop-color="#040404"/><stop offset="0.184" stop-color="#0a0a0a"/><stop offset="0.237" stop-color="#1d1d1d"/><stop offset="0.289" stop-color="#343434"/><stop offset="0.342" stop-color="#444444"/><stop offset="0.395" stop-color="#494949"/><stop offset="0.447" stop-color="#434343"/><stop offset="0.5" stop-color="#3e3e3e"/><stop offset="0.553" stop-color="#434343"/><stop offset="0.605" stop-color="#494949"/><stop offset="0.658" stop-color="#444444"/><stop offset="0.711" stop-color="#343434"/><stop offset="0.763" stop-color="#1d1d1d"/><stop offset="0.816" stop-color="#0a0a0a"/><stop offset="0.882" stop-color="#040404"/><stop offset="1" stop-color="#040404"/></linearGradient><linearGradient id="q133" gradientUnits="userSpaceOnUse" x1="0" y1="448.9" x2="0" y2="507.7"><stop offset="0" stop-color="#040404"/><stop offset="0.118" stop-color="#040404"/><stop offset="0.184" stop-color="#0b0b0b"/><stop offset="0.237" stop-color="#1d1d1d"/><stop offset="0.289" stop-color="#343434"/><stop offset="0.342" stop-color="#444444"/><stop offset="0.395" stop-color="#494949"/><stop offset="0.447" stop-color="#444444"/><stop offset="0.5" stop-color="#3f3f3f"/><stop offset="0.553" stop-color="#444444"/><stop offset="0.605" stop-color="#494949"/><stop offset="0.658" stop-color="#444444"/><stop offset="0.711" stop-color="#343434"/><stop offset="0.763" stop-color="#1d1d1d"/><stop offset="0.816" stop-color="#0b0b0b"/><stop offset="0.882" stop-color="#040404"/><stop offset="1" stop-color="#040404"/></linearGradient><linearGradient id="q134" gradientUnits="userSpaceOnUse" x1="0" y1="449.7" x2="0" y2="507.0"><stop offset="0" stop-color="#040404"/><stop offset="0.118" stop-color="#040404"/><stop offset="0.184" stop-color="#0b0b0b"/><stop offset="0.237" stop-color="#1d1d1d"/><stop offset="0.289" stop-color="#343434"/><stop offset="0.342" stop-color="#454545"/><stop offset="0.395" stop-color="#4a4a4a"/><stop offset="0.447" stop-color="#454545"/><stop offset="0.5" stop-color="#404040"/><stop offset="0.553" stop-color="#454545"/><stop offset="0.605" stop-color="#4a4a4a"/><stop offset="0.658" stop-color="#454545"/><stop offset="0.711" stop-color="#343434"/><stop offset="0.763" stop-color="#1d1d1d"/><stop offset="0.816" stop-color="#0b0b0b"/><stop offset="0.882" stop-color="#040404"/><stop offset="1" stop-color="#040404"/></linearGradient><linearGradient id="q135" gradientUnits="userSpaceOnUse" x1="0" y1="450.5" x2="0" y2="506.3"><stop offset="0" stop-color="#040404"/><stop offset="0.118" stop-color="#040404"/><stop offset="0.184" stop-color="#0b0b0b"/><stop offset="0.237" stop-color="#1e1e1e"/><stop offset="0.289" stop-color="#343434"/><stop offset="0.342" stop-color="#454545"/><stop offset="0.395" stop-color="#4b4b4b"/><stop offset="0.447" stop-color="#474747"/><stop offset="0.5" stop-color="#424242"/><stop offset="0.553" stop-color="#474747"/><stop offset="0.605" stop-color="#4b4b4b"/><stop offset="0.658" stop-color="#454545"/><stop offset="0.711" stop-color="#343434"/><stop offset="0.763" stop-color="#1e1e1e"/><stop offset="0.816" stop-color="#0b0b0b"/><stop offset="0.882" stop-color="#040404"/><stop offset="1" stop-color="#040404"/></linearGradient><linearGradient id="q136" gradientUnits="userSpaceOnUse" x1="0" y1="451.2" x2="0" y2="505.5"><stop offset="0" stop-color="#040404"/><stop offset="0.118" stop-color="#040404"/><stop offset="0.184" stop-color="#0c0c0c"/><stop offset="0.237" stop-color="#1e1e1e"/><stop offset="0.289" stop-color="#353535"/><stop offset="0.342" stop-color="#464646"/><stop offset="0.395" stop-color="#4d4d4d"/><stop offset="0.447" stop-color="#484848"/><stop offset="0.5" stop-color="#444444"/><stop offset="0.553" stop-color="#484848"/><stop offset="0.605" stop-color="#4d4d4d"/><stop offset="0.658" stop-color="#464646"/><stop offset="0.711" stop-color="#353535"/><stop offset="0.763" stop-color="#1e1e1e"/><stop offset="0.816" stop-color="#0c0c0c"/><stop offset="0.882" stop-color="#040404"/><stop offset="1" stop-color="#040404"/></linearGradient><linearGradient id="q137" gradientUnits="userSpaceOnUse" x1="0" y1="452.0" x2="0" y2="504.8"><stop offset="0" stop-color="#040404"/><stop offset="0.118" stop-color="#040404"/><stop offset="0.184" stop-color="#0c0c0c"/><stop offset="0.237" stop-color="#1f1f1f"/><stop offset="0.289" stop-color="#363636"/><stop offset="0.342" stop-color="#474747"/><stop offset="0.395" stop-color="#4e4e4e"/><stop offset="0.447" stop-color="#4a4a4a"/><stop offset="0.5" stop-color="#464646"/><stop offset="0.553" stop-color="#4a4a4a"/><stop offset="0.605" stop-color="#4e4e4e"/><stop offset="0.658" stop-color="#474747"/><stop offset="0.711" stop-color="#363636"/><stop offset="0.763" stop-color="#1f1f1f"/><stop offset="0.816" stop-color="#0c0c0c"/><stop offset="0.882" stop-color="#040404"/><stop offset="1" stop-color="#040404"/></linearGradient><linearGradient id="q138" gradientUnits="userSpaceOnUse" x1="0" y1="452.8" x2="0" y2="504.1"><stop offset="0" stop-color="#040404"/><stop offset="0.118" stop-color="#040404"/><stop offset="0.184" stop-color="#0c0c0c"/><stop offset="0.237" stop-color="#1f1f1f"/><stop offset="0.289" stop-color="#363636"/><stop offset="0.342" stop-color="#484848"/><stop offset="0.395" stop-color="#4f4f4f"/><stop offset="0.447" stop-color="#4c4c4c"/><stop offset="0.5" stop-color="#484848"/><stop offset="0.553" stop-color="#4c4c4c"/><stop offset="0.605" stop-color="#4f4f4f"/><stop offset="0.658" stop-color="#484848"/><stop offset="0.711" stop-color="#363636"/><stop offset="0.763" stop-color="#1f1f1f"/><stop offset="0.816" stop-color="#0c0c0c"/><stop offset="0.882" stop-color="#040404"/><stop offset="1" stop-color="#040404"/></linearGradient><linearGradient id="q139" gradientUnits="userSpaceOnUse" x1="0" y1="453.5" x2="0" y2="503.4"><stop offset="0" stop-color="#040404"/><stop offset="0.118" stop-color="#040404"/><stop offset="0.184" stop-color="#0d0d0d"/><stop offset="0.237" stop-color="#202020"/><stop offset="0.289" stop-color="#373737"/><stop offset="0.342" stop-color="#494949"/><stop offset="0.395" stop-color="#505050"/><stop offset="0.447" stop-color="#4e4e4e"/><stop offset="0.5" stop-color="#4a4a4a"/><stop offset="0.553" stop-color="#4e4e4e"/><stop offset="0.605" stop-color="#505050"/><stop offset="0.658" stop-color="#494949"/><stop offset="0.711" stop-color="#373737"/><stop offset="0.763" stop-color="#202020"/><stop offset="0.816" stop-color="#0d0d0d"/><stop offset="0.882" stop-color="#040404"/><stop offset="1" stop-color="#040404"/></linearGradient><linearGradient id="q140" gradientUnits="userSpaceOnUse" x1="0" y1="454.3" x2="0" y2="502.7"><stop offset="0" stop-color="#040404"/><stop offset="0.118" stop-color="#040404"/><stop offset="0.184" stop-color="#0d0d0d"/><stop offset="0.237" stop-color="#202020"/><stop offset="0.289" stop-color="#373737"/><stop offset="0.342" stop-color="#494949"/><stop offset="0.395" stop-color="#525252"/><stop offset="0.447" stop-color="#4f4f4f"/><stop offset="0.5" stop-color="#4c4c4c"/><stop offset="0.553" stop-color="#4f4f4f"/><stop offset="0.605" stop-color="#525252"/><stop offset="0.658" stop-color="#494949"/><stop offset="0.711" stop-color="#373737"/><stop offset="0.763" stop-color="#202020"/><stop offset="0.816" stop-color="#0d0d0d"/><stop offset="0.882" stop-color="#040404"/><stop offset="1" stop-color="#040404"/></linearGradient><linearGradient id="q141" gradientUnits="userSpaceOnUse" x1="0" y1="455.0" x2="0" y2="502.0"><stop offset="0" stop-color="#040404"/><stop offset="0.118" stop-color="#040404"/><stop offset="0.184" stop-color="#0e0e0e"/><stop offset="0.237" stop-color="#212121"/><stop offset="0.289" stop-color="#383838"/><stop offset="0.342" stop-color="#4a4a4a"/><stop offset="0.395" stop-color="#535353"/><stop offset="0.447" stop-color="#515151"/><stop offset="0.5" stop-color="#4e4e4e"/><stop offset="0.553" stop-color="#515151"/><stop offset="0.605" stop-color="#535353"/><stop offset="0.658" stop-color="#4a4a4a"/><stop offset="0.711" stop-color="#383838"/><stop offset="0.763" stop-color="#212121"/><stop offset="0.816" stop-color="#0e0e0e"/><stop offset="0.882" stop-color="#040404"/><stop offset="1" stop-color="#040404"/></linearGradient><linearGradient id="q142" gradientUnits="userSpaceOnUse" x1="0" y1="455.8" x2="0" y2="501.3"><stop offset="0" stop-color="#040404"/><stop offset="0.118" stop-color="#040404"/><stop offset="0.184" stop-color="#0e0e0e"/><stop offset="0.237" stop-color="#212121"/><stop offset="0.289" stop-color="#383838"/><stop offset="0.342" stop-color="#4b4b4b"/><stop offset="0.395" stop-color="#545454"/><stop offset="0.447" stop-color="#535353"/><stop offset="0.5" stop-color="#505050"/><stop offset="0.553" stop-color="#535353"/><stop offset="0.605" stop-color="#545454"/><stop offset="0.658" stop-color="#4b4b4b"/><stop offset="0.711" stop-color="#383838"/><stop offset="0.763" stop-color="#212121"/><stop offset="0.816" stop-color="#0e0e0e"/><stop offset="0.882" stop-color="#040404"/><stop offset="1" stop-color="#040404"/></linearGradient><linearGradient id="q143" gradientUnits="userSpaceOnUse" x1="0" y1="456.5" x2="0" y2="500.6"><stop offset="0" stop-color="#040404"/><stop offset="0.118" stop-color="#040404"/><stop offset="0.184" stop-color="#0f0f0f"/><stop offset="0.237" stop-color="#222222"/><stop offset="0.289" stop-color="#393939"/><stop offset="0.342" stop-color="#4c4c4c"/><stop offset="0.395" stop-color="#555555"/><stop offset="0.447" stop-color="#555555"/><stop offset="0.5" stop-color="#535353"/><stop offset="0.553" stop-color="#555555"/><stop offset="0.605" stop-color="#555555"/><stop offset="0.658" stop-color="#4c4c4c"/><stop offset="0.711" stop-color="#393939"/><stop offset="0.763" stop-color="#222222"/><stop offset="0.816" stop-color="#0f0f0f"/><stop offset="0.882" stop-color="#040404"/><stop offset="1" stop-color="#040404"/></linearGradient><linearGradient id="q144" gradientUnits="userSpaceOnUse" x1="0" y1="457.3" x2="0" y2="499.9"><stop offset="0" stop-color="#040404"/><stop offset="0.118" stop-color="#040404"/><stop offset="0.184" stop-color="#0f0f0f"/><stop offset="0.237" stop-color="#222222"/><stop offset="0.289" stop-color="#393939"/><stop offset="0.342" stop-color="#4c4c4c"/><stop offset="0.395" stop-color="#565656"/><stop offset="0.447" stop-color="#575757"/><stop offset="0.5" stop-color="#555555"/><stop offset="0.553" stop-color="#575757"/><stop offset="0.605" stop-color="#565656"/><stop offset="0.658" stop-color="#4c4c4c"/><stop offset="0.711" stop-color="#393939"/><stop offset="0.763" stop-color="#222222"/><stop offset="0.816" stop-color="#0f0f0f"/><stop offset="0.882" stop-color="#040404"/><stop offset="1" stop-color="#040404"/></linearGradient><linearGradient id="q145" gradientUnits="userSpaceOnUse" x1="0" y1="458.0" x2="0" y2="499.2"><stop offset="0" stop-color="#040404"/><stop offset="0.118" stop-color="#040404"/><stop offset="0.184" stop-color="#0f0f0f"/><stop offset="0.237" stop-color="#222222"/><stop offset="0.289" stop-color="#3a3a3a"/><stop offset="0.342" stop-color="#4d4d4d"/><stop offset="0.395" stop-color="#585858"/><stop offset="0.447" stop-color="#595959"/><stop offset="0.5" stop-color="#575757"/><stop offset="0.553" stop-color="#595959"/><stop offset="0.605" stop-color="#585858"/><stop offset="0.658" stop-color="#4d4d4d"/><stop offset="0.711" stop-color="#3a3a3a"/><stop offset="0.763" stop-color="#222222"/><stop offset="0.816" stop-color="#0f0f0f"/><stop offset="0.882" stop-color="#040404"/><stop offset="1" stop-color="#040404"/></linearGradient><linearGradient id="q146" gradientUnits="userSpaceOnUse" x1="0" y1="458.7" x2="0" y2="498.5"><stop offset="0" stop-color="#040404"/><stop offset="0.118" stop-color="#040404"/><stop offset="0.184" stop-color="#101010"/><stop offset="0.237" stop-color="#232323"/><stop offset="0.289" stop-color="#3b3b3b"/><stop offset="0.342" stop-color="#4f4f4f"/><stop offset="0.395" stop-color="#5a5a5a"/><stop offset="0.447" stop-color="#5c5c5c"/><stop offset="0.5" stop-color="#5b5b5b"/><stop offset="0.553" stop-color="#5c5c5c"/><stop offset="0.605" stop-color="#5a5a5a"/><stop offset="0.658" stop-color="#4f4f4f"/><stop offset="0.711" stop-color="#3b3b3b"/><stop offset="0.763" stop-color="#232323"/><stop offset="0.816" stop-color="#101010"/><stop offset="0.882" stop-color="#040404"/><stop offset="1" stop-color="#040404"/></linearGradient><linearGradient id="q147" gradientUnits="userSpaceOnUse" x1="0" y1="459.4" x2="0" y2="497.9"><stop offset="0" stop-color="#040404"/><stop offset="0.118" stop-color="#040404"/><stop offset="0.184" stop-color="#111111"/><stop offset="0.237" stop-color="#252525"/><stop offset="0.289" stop-color="#3d3d3d"/><stop offset="0.342" stop-color="#525252"/><stop offset="0.395" stop-color="#5e5e5e"/><stop offset="0.447" stop-color="#616161"/><stop offset="0.5" stop-color="#606060"/><stop offset="0.553" stop-color="#616161"/><stop offset="0.605" stop-color="#5e5e5e"/><stop offset="0.658" stop-color="#525252"/><stop offset="0.711" stop-color="#3d3d3d"/><stop offset="0.763" stop-color="#252525"/><stop offset="0.816" stop-color="#111111"/><stop offset="0.882" stop-color="#040404"/><stop offset="1" stop-color="#040404"/></linearGradient><linearGradient id="q148" gradientUnits="userSpaceOnUse" x1="0" y1="460.1" x2="0" y2="497.2"><stop offset="0" stop-color="#040404"/><stop offset="0.118" stop-color="#050505"/><stop offset="0.184" stop-color="#121212"/><stop offset="0.237" stop-color="#272727"/><stop offset="0.289" stop-color="#3f3f3f"/><stop offset="0.342" stop-color="#555555"/><stop offset="0.395" stop-color="#626262"/><stop offset="0.447" stop-color="#656565"/><stop offset="0.5" stop-color="#656565"/><stop offset="0.553" stop-color="#656565"/><stop offset="0.605" stop-color="#626262"/><stop offset="0.658" stop-color="#555555"/><stop offset="0.711" stop-color="#3f3f3f"/><stop offset="0.763" stop-color="#272727"/><stop offset="0.816" stop-color="#121212"/><stop offset="0.882" stop-color="#050505"/><stop offset="1" stop-color="#040404"/></linearGradient><linearGradient id="q149" gradientUnits="userSpaceOnUse" x1="0" y1="460.8" x2="0" y2="496.6"><stop offset="0" stop-color="#040404"/><stop offset="0.118" stop-color="#050505"/><stop offset="0.184" stop-color="#131313"/><stop offset="0.237" stop-color="#282828"/><stop offset="0.289" stop-color="#414141"/><stop offset="0.342" stop-color="#575757"/><stop offset="0.395" stop-color="#656565"/><stop offset="0.447" stop-color="#6a6a6a"/><stop offset="0.5" stop-color="#6a6a6a"/><stop offset="0.553" stop-color="#6a6a6a"/><stop offset="0.605" stop-color="#656565"/><stop offset="0.658" stop-color="#575757"/><stop offset="0.711" stop-color="#414141"/><stop offset="0.763" stop-color="#282828"/><stop offset="0.816" stop-color="#131313"/><stop offset="0.882" stop-color="#050505"/><stop offset="1" stop-color="#040404"/></linearGradient><linearGradient id="q150" gradientUnits="userSpaceOnUse" x1="0" y1="461.5" x2="0" y2="495.9"><stop offset="0" stop-color="#040404"/><stop offset="0.118" stop-color="#060606"/><stop offset="0.184" stop-color="#151515"/><stop offset="0.237" stop-color="#2a2a2a"/><stop offset="0.289" stop-color="#434343"/><stop offset="0.342" stop-color="#5a5a5a"/><stop offset="0.395" stop-color="#696969"/><stop offset="0.447" stop-color="#6f6f6f"/><stop offset="0.5" stop-color="#6f6f6f"/><stop offset="0.553" stop-color="#6f6f6f"/><stop offset="0.605" stop-color="#696969"/><stop offset="0.658" stop-color="#5a5a5a"/><stop offset="0.711" stop-color="#434343"/><stop offset="0.763" stop-color="#2a2a2a"/><stop offset="0.816" stop-color="#151515"/><stop offset="0.882" stop-color="#060606"/><stop offset="1" stop-color="#040404"/></linearGradient><linearGradient id="q151" gradientUnits="userSpaceOnUse" x1="0" y1="462.2" x2="0" y2="495.3"><stop offset="0" stop-color="#040404"/><stop offset="0.118" stop-color="#070707"/><stop offset="0.184" stop-color="#161616"/><stop offset="0.237" stop-color="#2b2b2b"/><stop offset="0.289" stop-color="#454545"/><stop offset="0.368" stop-color="#666666"/><stop offset="0.5" stop-color="#747474"/><stop offset="0.632" stop-color="#666666"/><stop offset="0.711" stop-color="#454545"/><stop offset="0.763" stop-color="#2b2b2b"/><stop offset="0.816" stop-color="#161616"/><stop offset="0.882" stop-color="#070707"/><stop offset="1" stop-color="#040404"/></linearGradient><linearGradient id="q152" gradientUnits="userSpaceOnUse" x1="0" y1="462.8" x2="0" y2="494.7"><stop offset="0" stop-color="#040404"/><stop offset="0.118" stop-color="#070707"/><stop offset="0.184" stop-color="#171717"/><stop offset="0.237" stop-color="#2d2d2d"/><stop offset="0.289" stop-color="#474747"/><stop offset="0.368" stop-color="#696969"/><stop offset="0.5" stop-color="#797979"/><stop offset="0.632" stop-color="#696969"/><stop offset="0.711" stop-color="#474747"/><stop offset="0.763" stop-color="#2d2d2d"/><stop offset="0.816" stop-color="#171717"/><stop offset="0.882" stop-color="#070707"/><stop offset="1" stop-color="#040404"/></linearGradient><linearGradient id="q153" gradientUnits="userSpaceOnUse" x1="0" y1="463.5" x2="0" y2="494.1"><stop offset="0" stop-color="#040404"/><stop offset="0.118" stop-color="#080808"/><stop offset="0.184" stop-color="#181818"/><stop offset="0.237" stop-color="#2e2e2e"/><stop offset="0.289" stop-color="#494949"/><stop offset="0.368" stop-color="#6c6c6c"/><stop offset="0.5" stop-color="#7d7d7d"/><stop offset="0.632" stop-color="#6c6c6c"/><stop offset="0.711" stop-color="#494949"/><stop offset="0.763" stop-color="#2e2e2e"/><stop offset="0.816" stop-color="#181818"/><stop offset="0.882" stop-color="#080808"/><stop offset="1" stop-color="#040404"/></linearGradient><linearGradient id="q154" gradientUnits="userSpaceOnUse" x1="0" y1="464.1" x2="0" y2="493.5"><stop offset="0" stop-color="#040404"/><stop offset="0.118" stop-color="#090909"/><stop offset="0.184" stop-color="#191919"/><stop offset="0.237" stop-color="#303030"/><stop offset="0.289" stop-color="#4b4b4b"/><stop offset="0.368" stop-color="#6f6f6f"/><stop offset="0.5" stop-color="#828282"/><stop offset="0.632" stop-color="#6f6f6f"/><stop offset="0.711" stop-color="#4b4b4b"/><stop offset="0.763" stop-color="#303030"/><stop offset="0.816" stop-color="#191919"/><stop offset="0.882" stop-color="#090909"/><stop offset="1" stop-color="#040404"/></linearGradient><linearGradient id="q155" gradientUnits="userSpaceOnUse" x1="0" y1="464.7" x2="0" y2="492.9"><stop offset="0" stop-color="#040404"/><stop offset="0.118" stop-color="#0a0a0a"/><stop offset="0.184" stop-color="#1b1b1b"/><stop offset="0.237" stop-color="#313131"/><stop offset="0.289" stop-color="#4d4d4d"/><stop offset="0.368" stop-color="#727272"/><stop offset="0.5" stop-color="#868686"/><stop offset="0.632" stop-color="#727272"/><stop offset="0.711" stop-color="#4d4d4d"/><stop offset="0.763" stop-color="#313131"/><stop offset="0.816" stop-color="#1b1b1b"/><stop offset="0.882" stop-color="#0a0a0a"/><stop offset="1" stop-color="#040404"/></linearGradient><linearGradient id="q156" gradientUnits="userSpaceOnUse" x1="0" y1="465.4" x2="0" y2="492.4"><stop offset="0" stop-color="#040404"/><stop offset="0.118" stop-color="#0b0b0b"/><stop offset="0.184" stop-color="#1c1c1c"/><stop offset="0.237" stop-color="#333333"/><stop offset="0.289" stop-color="#4e4e4e"/><stop offset="0.368" stop-color="#747474"/><stop offset="0.5" stop-color="#8a8a8a"/><stop offset="0.632" stop-color="#747474"/><stop offset="0.711" stop-color="#4e4e4e"/><stop offset="0.763" stop-color="#333333"/><stop offset="0.816" stop-color="#1c1c1c"/><stop offset="0.882" stop-color="#0b0b0b"/><stop offset="1" stop-color="#040404"/></linearGradient><linearGradient id="q157" gradientUnits="userSpaceOnUse" x1="0" y1="466.0" x2="0" y2="491.8"><stop offset="0" stop-color="#040404"/><stop offset="0.118" stop-color="#0c0c0c"/><stop offset="0.184" stop-color="#1e1e1e"/><stop offset="0.237" stop-color="#343434"/><stop offset="0.289" stop-color="#505050"/><stop offset="0.368" stop-color="#777777"/><stop offset="0.5" stop-color="#8e8e8e"/><stop offset="0.632" stop-color="#777777"/><stop offset="0.711" stop-color="#505050"/><stop offset="0.763" stop-color="#343434"/><stop offset="0.816" stop-color="#1e1e1e"/><stop offset="0.882" stop-color="#0c0c0c"/><stop offset="1" stop-color="#040404"/></linearGradient><linearGradient id="q158" gradientUnits="userSpaceOnUse" x1="0" y1="466.6" x2="0" y2="491.2"><stop offset="0" stop-color="#040404"/><stop offset="0.118" stop-color="#0d0d0d"/><stop offset="0.184" stop-color="#1f1f1f"/><stop offset="0.237" stop-color="#363636"/><stop offset="0.289" stop-color="#525252"/><stop offset="0.368" stop-color="#7a7a7a"/><stop offset="0.5" stop-color="#939393"/><stop offset="0.632" stop-color="#7a7a7a"/><stop offset="0.711" stop-color="#525252"/><stop offset="0.763" stop-color="#363636"/><stop offset="0.816" stop-color="#1f1f1f"/><stop offset="0.882" stop-color="#0d0d0d"/><stop offset="1" stop-color="#040404"/></linearGradient><linearGradient id="q159" gradientUnits="userSpaceOnUse" x1="0" y1="467.2" x2="0" y2="490.7"><stop offset="0" stop-color="#040404"/><stop offset="0.118" stop-color="#0e0e0e"/><stop offset="0.184" stop-color="#202020"/><stop offset="0.237" stop-color="#383838"/><stop offset="0.289" stop-color="#545454"/><stop offset="0.368" stop-color="#7c7c7c"/><stop offset="0.5" stop-color="#979797"/><stop offset="0.632" stop-color="#7c7c7c"/><stop offset="0.711" stop-color="#545454"/><stop offset="0.763" stop-color="#383838"/><stop offset="0.816" stop-color="#202020"/><stop offset="0.882" stop-color="#0e0e0e"/><stop offset="1" stop-color="#040404"/></linearGradient><linearGradient id="q160" gradientUnits="userSpaceOnUse" x1="0" y1="467.8" x2="0" y2="490.2"><stop offset="0" stop-color="#040404"/><stop offset="0.118" stop-color="#0f0f0f"/><stop offset="0.184" stop-color="#222222"/><stop offset="0.237" stop-color="#393939"/><stop offset="0.289" stop-color="#555555"/><stop offset="0.368" stop-color="#7e7e7e"/><stop offset="0.5" stop-color="#9b9b9b"/><stop offset="0.632" stop-color="#7e7e7e"/><stop offset="0.711" stop-color="#555555"/><stop offset="0.763" stop-color="#393939"/><stop offset="0.816" stop-color="#222222"/><stop offset="0.882" stop-color="#0f0f0f"/><stop offset="1" stop-color="#040404"/></linearGradient><linearGradient id="q161" gradientUnits="userSpaceOnUse" x1="0" y1="468.4" x2="0" y2="489.6"><stop offset="0" stop-color="#040404"/><stop offset="0.118" stop-color="#101010"/><stop offset="0.184" stop-color="#232323"/><stop offset="0.237" stop-color="#3a3a3a"/><stop offset="0.289" stop-color="#565656"/><stop offset="0.368" stop-color="#808080"/><stop offset="0.5" stop-color="#9f9f9f"/><stop offset="0.632" stop-color="#808080"/><stop offset="0.711" stop-color="#565656"/><stop offset="0.763" stop-color="#3a3a3a"/><stop offset="0.816" stop-color="#232323"/><stop offset="0.882" stop-color="#101010"/><stop offset="1" stop-color="#040404"/></linearGradient><linearGradient id="q162" gradientUnits="userSpaceOnUse" x1="0" y1="468.7" x2="0" y2="489.3"><stop offset="0" stop-color="#040404"/><stop offset="0.118" stop-color="#111111"/><stop offset="0.184" stop-color="#252525"/><stop offset="0.237" stop-color="#3c3c3c"/><stop offset="0.289" stop-color="#585858"/><stop offset="0.368" stop-color="#838383"/><stop offset="0.5" stop-color="#a3a3a3"/><stop offset="0.632" stop-color="#838383"/><stop offset="0.711" stop-color="#585858"/><stop offset="0.763" stop-color="#3c3c3c"/><stop offset="0.816" stop-color="#252525"/><stop offset="0.882" stop-color="#111111"/><stop offset="1" stop-color="#040404"/></linearGradient><linearGradient id="q163" gradientUnits="userSpaceOnUse" x1="0" y1="468.9" x2="0" y2="489.1"><stop offset="0" stop-color="#040404"/><stop offset="0.118" stop-color="#111111"/><stop offset="0.184" stop-color="#252525"/><stop offset="0.237" stop-color="#3d3d3d"/><stop offset="0.289" stop-color="#5a5a5a"/><stop offset="0.368" stop-color="#868686"/><stop offset="0.5" stop-color="#a6a6a6"/><stop offset="0.632" stop-color="#868686"/><stop offset="0.711" stop-color="#5a5a5a"/><stop offset="0.763" stop-color="#3d3d3d"/><stop offset="0.816" stop-color="#252525"/><stop offset="0.882" stop-color="#111111"/><stop offset="1" stop-color="#040404"/></linearGradient><linearGradient id="q164" gradientUnits="userSpaceOnUse" x1="0" y1="469.2" x2="0" y2="489.0"><stop offset="0" stop-color="#040404"/><stop offset="0.118" stop-color="#121212"/><stop offset="0.184" stop-color="#272727"/><stop offset="0.237" stop-color="#3f3f3f"/><stop offset="0.289" stop-color="#5d5d5d"/><stop offset="0.368" stop-color="#8a8a8a"/><stop offset="0.5" stop-color="#ababab"/><stop offset="0.632" stop-color="#8a8a8a"/><stop offset="0.711" stop-color="#5d5d5d"/><stop offset="0.763" stop-color="#3f3f3f"/><stop offset="0.816" stop-color="#272727"/><stop offset="0.882" stop-color="#121212"/><stop offset="1" stop-color="#040404"/></linearGradient><linearGradient id="q165" gradientUnits="userSpaceOnUse" x1="0" y1="469.4" x2="0" y2="488.8"><stop offset="0" stop-color="#040404"/><stop offset="0.118" stop-color="#121212"/><stop offset="0.184" stop-color="#282828"/><stop offset="0.237" stop-color="#414141"/><stop offset="0.289" stop-color="#606060"/><stop offset="0.368" stop-color="#8f8f8f"/><stop offset="0.5" stop-color="#b2b2b2"/><stop offset="0.632" stop-color="#8f8f8f"/><stop offset="0.711" stop-color="#606060"/><stop offset="0.763" stop-color="#414141"/><stop offset="0.816" stop-color="#282828"/><stop offset="0.882" stop-color="#121212"/><stop offset="1" stop-color="#040404"/></linearGradient><linearGradient id="q166" gradientUnits="userSpaceOnUse" x1="0" y1="469.6" x2="0" y2="488.7"><stop offset="0" stop-color="#040404"/><stop offset="0.118" stop-color="#131313"/><stop offset="0.184" stop-color="#292929"/><stop offset="0.237" stop-color="#444444"/><stop offset="0.289" stop-color="#646464"/><stop offset="0.368" stop-color="#949494"/><stop offset="0.5" stop-color="#b8b8b8"/><stop offset="0.632" stop-color="#949494"/><stop offset="0.711" stop-color="#646464"/><stop offset="0.763" stop-color="#444444"/><stop offset="0.816" stop-color="#292929"/><stop offset="0.882" stop-color="#131313"/><stop offset="1" stop-color="#040404"/></linearGradient><linearGradient id="q167" gradientUnits="userSpaceOnUse" x1="0" y1="469.8" x2="0" y2="488.5"><stop offset="0" stop-color="#040404"/><stop offset="0.118" stop-color="#141414"/><stop offset="0.184" stop-color="#2b2b2b"/><stop offset="0.237" stop-color="#464646"/><stop offset="0.289" stop-color="#676767"/><stop offset="0.368" stop-color="#999999"/><stop offset="0.5" stop-color="#bfbfbf"/><stop offset="0.632" stop-color="#999999"/><stop offset="0.711" stop-color="#676767"/><stop offset="0.763" stop-color="#464646"/><stop offset="0.816" stop-color="#2b2b2b"/><stop offset="0.882" stop-color="#141414"/><stop offset="1" stop-color="#040404"/></linearGradient><linearGradient id="q168" gradientUnits="userSpaceOnUse" x1="0" y1="470.0" x2="0" y2="488.4"><stop offset="0" stop-color="#040404"/><stop offset="0.118" stop-color="#141414"/><stop offset="0.184" stop-color="#2c2c2c"/><stop offset="0.237" stop-color="#484848"/><stop offset="0.289" stop-color="#6a6a6a"/><stop offset="0.368" stop-color="#9e9e9e"/><stop offset="0.5" stop-color="#c4c4c4"/><stop offset="0.632" stop-color="#9e9e9e"/><stop offset="0.711" stop-color="#6a6a6a"/><stop offset="0.763" stop-color="#484848"/><stop offset="0.816" stop-color="#2c2c2c"/><stop offset="0.882" stop-color="#141414"/><stop offset="1" stop-color="#040404"/></linearGradient><linearGradient id="q169" gradientUnits="userSpaceOnUse" x1="0" y1="470.2" x2="0" y2="488.2"><stop offset="0" stop-color="#040404"/><stop offset="0.118" stop-color="#151515"/><stop offset="0.184" stop-color="#2d2d2d"/><stop offset="0.237" stop-color="#4a4a4a"/><stop offset="0.289" stop-color="#6d6d6d"/><stop offset="0.368" stop-color="#a2a2a2"/><stop offset="0.5" stop-color="#c9c9c9"/><stop offset="0.632" stop-color="#a2a2a2"/><stop offset="0.711" stop-color="#6d6d6d"/><stop offset="0.763" stop-color="#4a4a4a"/><stop offset="0.816" stop-color="#2d2d2d"/><stop offset="0.882" stop-color="#151515"/><stop offset="1" stop-color="#040404"/></linearGradient><linearGradient id="q170" gradientUnits="userSpaceOnUse" x1="0" y1="470.4" x2="0" y2="488.1"><stop offset="0" stop-color="#040404"/><stop offset="0.118" stop-color="#151515"/><stop offset="0.184" stop-color="#2e2e2e"/><stop offset="0.237" stop-color="#4c4c4c"/><stop offset="0.289" stop-color="#707070"/><stop offset="0.368" stop-color="#a6a6a6"/><stop offset="0.5" stop-color="#cfcfcf"/><stop offset="0.632" stop-color="#a6a6a6"/><stop offset="0.711" stop-color="#707070"/><stop offset="0.763" stop-color="#4c4c4c"/><stop offset="0.816" stop-color="#2e2e2e"/><stop offset="0.882" stop-color="#151515"/><stop offset="1" stop-color="#040404"/></linearGradient><linearGradient id="q171" gradientUnits="userSpaceOnUse" x1="0" y1="470.6" x2="0" y2="488.0"><stop offset="0" stop-color="#040404"/><stop offset="0.118" stop-color="#161616"/><stop offset="0.184" stop-color="#303030"/><stop offset="0.237" stop-color="#4e4e4e"/><stop offset="0.289" stop-color="#737373"/><stop offset="0.368" stop-color="#aaaaaa"/><stop offset="0.5" stop-color="#d4d4d4"/><stop offset="0.632" stop-color="#aaaaaa"/><stop offset="0.711" stop-color="#737373"/><stop offset="0.763" stop-color="#4e4e4e"/><stop offset="0.816" stop-color="#303030"/><stop offset="0.882" stop-color="#161616"/><stop offset="1" stop-color="#040404"/></linearGradient><linearGradient id="q172" gradientUnits="userSpaceOnUse" x1="0" y1="470.8" x2="0" y2="487.9"><stop offset="0" stop-color="#040404"/><stop offset="0.118" stop-color="#161616"/><stop offset="0.184" stop-color="#303030"/><stop offset="0.237" stop-color="#4f4f4f"/><stop offset="0.289" stop-color="#757575"/><stop offset="0.368" stop-color="#adadad"/><stop offset="0.5" stop-color="#d8d8d8"/><stop offset="0.632" stop-color="#adadad"/><stop offset="0.711" stop-color="#757575"/><stop offset="0.763" stop-color="#4f4f4f"/><stop offset="0.816" stop-color="#303030"/><stop offset="0.882" stop-color="#161616"/><stop offset="1" stop-color="#040404"/></linearGradient><linearGradient id="q173" gradientUnits="userSpaceOnUse" x1="0" y1="471.0" x2="0" y2="487.8"><stop offset="0" stop-color="#040404"/><stop offset="0.118" stop-color="#171717"/><stop offset="0.184" stop-color="#313131"/><stop offset="0.237" stop-color="#505050"/><stop offset="0.289" stop-color="#777777"/><stop offset="0.368" stop-color="#b0b0b0"/><stop offset="0.5" stop-color="#dbdbdb"/><stop offset="0.632" stop-color="#b0b0b0"/><stop offset="0.711" stop-color="#777777"/><stop offset="0.763" stop-color="#505050"/><stop offset="0.816" stop-color="#313131"/><stop offset="0.882" stop-color="#171717"/><stop offset="1" stop-color="#040404"/></linearGradient><linearGradient id="q174" gradientUnits="userSpaceOnUse" x1="0" y1="471.2" x2="0" y2="487.6"><stop offset="0" stop-color="#040404"/><stop offset="0.118" stop-color="#171717"/><stop offset="0.184" stop-color="#323232"/><stop offset="0.237" stop-color="#525252"/><stop offset="0.289" stop-color="#787878"/><stop offset="0.368" stop-color="#b2b2b2"/><stop offset="0.5" stop-color="#dedede"/><stop offset="0.632" stop-color="#b2b2b2"/><stop offset="0.711" stop-color="#787878"/><stop offset="0.763" stop-color="#525252"/><stop offset="0.816" stop-color="#323232"/><stop offset="0.882" stop-color="#171717"/><stop offset="1" stop-color="#040404"/></linearGradient><linearGradient id="q175" gradientUnits="userSpaceOnUse" x1="0" y1="471.3" x2="0" y2="487.5"><stop offset="0" stop-color="#040404"/><stop offset="0.118" stop-color="#171717"/><stop offset="0.184" stop-color="#323232"/><stop offset="0.237" stop-color="#535353"/><stop offset="0.289" stop-color="#7a7a7a"/><stop offset="0.368" stop-color="#b5b5b5"/><stop offset="0.5" stop-color="#e0e0e0"/><stop offset="0.632" stop-color="#b5b5b5"/><stop offset="0.711" stop-color="#7a7a7a"/><stop offset="0.763" stop-color="#535353"/><stop offset="0.816" stop-color="#323232"/><stop offset="0.882" stop-color="#171717"/><stop offset="1" stop-color="#040404"/></linearGradient><linearGradient id="q176" gradientUnits="userSpaceOnUse" x1="0" y1="471.5" x2="0" y2="487.4"><stop offset="0" stop-color="#040404"/><stop offset="0.118" stop-color="#181818"/><stop offset="0.184" stop-color="#333333"/><stop offset="0.237" stop-color="#545454"/><stop offset="0.289" stop-color="#7b7b7b"/><stop offset="0.368" stop-color="#b7b7b7"/><stop offset="0.5" stop-color="#e3e3e3"/><stop offset="0.632" stop-color="#b7b7b7"/><stop offset="0.711" stop-color="#7b7b7b"/><stop offset="0.763" stop-color="#545454"/><stop offset="0.816" stop-color="#333333"/><stop offset="0.882" stop-color="#181818"/><stop offset="1" stop-color="#040404"/></linearGradient><linearGradient id="q177" gradientUnits="userSpaceOnUse" x1="0" y1="471.7" x2="0" y2="487.3"><stop offset="0" stop-color="#040404"/><stop offset="0.118" stop-color="#181818"/><stop offset="0.184" stop-color="#343434"/><stop offset="0.237" stop-color="#555555"/><stop offset="0.289" stop-color="#7d7d7d"/><stop offset="0.368" stop-color="#b9b9b9"/><stop offset="0.5" stop-color="#e6e6e6"/><stop offset="0.632" stop-color="#b9b9b9"/><stop offset="0.711" stop-color="#7d7d7d"/><stop offset="0.763" stop-color="#555555"/><stop offset="0.816" stop-color="#343434"/><stop offset="0.882" stop-color="#181818"/><stop offset="1" stop-color="#040404"/></linearGradient><linearGradient id="q178" gradientUnits="userSpaceOnUse" x1="0" y1="471.8" x2="0" y2="487.2"><stop offset="0" stop-color="#040404"/><stop offset="0.118" stop-color="#181818"/><stop offset="0.184" stop-color="#343434"/><stop offset="0.237" stop-color="#555555"/><stop offset="0.289" stop-color="#7d7d7d"/><stop offset="0.368" stop-color="#bababa"/><stop offset="0.5" stop-color="#e7e7e7"/><stop offset="0.632" stop-color="#bababa"/><stop offset="0.711" stop-color="#7d7d7d"/><stop offset="0.763" stop-color="#555555"/><stop offset="0.816" stop-color="#343434"/><stop offset="0.882" stop-color="#181818"/><stop offset="1" stop-color="#040404"/></linearGradient><linearGradient id="q179" gradientUnits="userSpaceOnUse" x1="0" y1="472.0" x2="0" y2="487.1"><stop offset="0" stop-color="#040404"/><stop offset="0.118" stop-color="#181818"/><stop offset="0.184" stop-color="#343434"/><stop offset="0.237" stop-color="#565656"/><stop offset="0.289" stop-color="#7e7e7e"/><stop offset="0.368" stop-color="#bbbbbb"/><stop offset="0.5" stop-color="#e9e9e9"/><stop offset="0.632" stop-color="#bbbbbb"/><stop offset="0.711" stop-color="#7e7e7e"/><stop offset="0.763" stop-color="#565656"/><stop offset="0.816" stop-color="#343434"/><stop offset="0.882" stop-color="#181818"/><stop offset="1" stop-color="#040404"/></linearGradient><linearGradient id="q180" gradientUnits="userSpaceOnUse" x1="0" y1="472.1" x2="0" y2="487.0"><stop offset="0" stop-color="#040404"/><stop offset="0.118" stop-color="#181818"/><stop offset="0.184" stop-color="#353535"/><stop offset="0.237" stop-color="#565656"/><stop offset="0.289" stop-color="#7f7f7f"/><stop offset="0.368" stop-color="#bdbdbd"/><stop offset="0.5" stop-color="#eaeaea"/><stop offset="0.632" stop-color="#bdbdbd"/><stop offset="0.711" stop-color="#7f7f7f"/><stop offset="0.763" stop-color="#565656"/><stop offset="0.816" stop-color="#353535"/><stop offset="0.882" stop-color="#181818"/><stop offset="1" stop-color="#040404"/></linearGradient><linearGradient id="q181" gradientUnits="userSpaceOnUse" x1="0" y1="471.9" x2="0" y2="487.3"><stop offset="0" stop-color="#040404"/><stop offset="0.118" stop-color="#191919"/><stop offset="0.184" stop-color="#353535"/><stop offset="0.237" stop-color="#575757"/><stop offset="0.289" stop-color="#808080"/><stop offset="0.368" stop-color="#bebebe"/><stop offset="0.5" stop-color="#ececec"/><stop offset="0.632" stop-color="#bebebe"/><stop offset="0.711" stop-color="#808080"/><stop offset="0.763" stop-color="#575757"/><stop offset="0.816" stop-color="#353535"/><stop offset="0.882" stop-color="#191919"/><stop offset="1" stop-color="#040404"/></linearGradient><linearGradient id="q182" gradientUnits="userSpaceOnUse" x1="0" y1="471.5" x2="0" y2="487.8"><stop offset="0" stop-color="#040404"/><stop offset="0.118" stop-color="#191919"/><stop offset="0.184" stop-color="#353535"/><stop offset="0.237" stop-color="#575757"/><stop offset="0.289" stop-color="#818181"/><stop offset="0.368" stop-color="#bfbfbf"/><stop offset="0.5" stop-color="#ededed"/><stop offset="0.632" stop-color="#bfbfbf"/><stop offset="0.711" stop-color="#818181"/><stop offset="0.763" stop-color="#575757"/><stop offset="0.816" stop-color="#353535"/><stop offset="0.882" stop-color="#191919"/><stop offset="1" stop-color="#040404"/></linearGradient><linearGradient id="q183" gradientUnits="userSpaceOnUse" x1="0" y1="471.2" x2="0" y2="488.2"><stop offset="0" stop-color="#040404"/><stop offset="0.118" stop-color="#191919"/><stop offset="0.184" stop-color="#363636"/><stop offset="0.237" stop-color="#585858"/><stop offset="0.289" stop-color="#828282"/><stop offset="0.368" stop-color="#c0c0c0"/><stop offset="0.5" stop-color="#efefef"/><stop offset="0.632" stop-color="#c0c0c0"/><stop offset="0.711" stop-color="#828282"/><stop offset="0.763" stop-color="#585858"/><stop offset="0.816" stop-color="#363636"/><stop offset="0.882" stop-color="#191919"/><stop offset="1" stop-color="#040404"/></linearGradient><linearGradient id="q184" gradientUnits="userSpaceOnUse" x1="0" y1="470.8" x2="0" y2="488.7"><stop offset="0" stop-color="#040404"/><stop offset="0.118" stop-color="#191919"/><stop offset="0.184" stop-color="#363636"/><stop offset="0.237" stop-color="#585858"/><stop offset="0.289" stop-color="#818181"/><stop offset="0.368" stop-color="#c0c0c0"/><stop offset="0.5" stop-color="#eeeeee"/><stop offset="0.632" stop-color="#c0c0c0"/><stop offset="0.711" stop-color="#818181"/><stop offset="0.763" stop-color="#585858"/><stop offset="0.816" stop-color="#363636"/><stop offset="0.882" stop-color="#191919"/><stop offset="1" stop-color="#040404"/></linearGradient><linearGradient id="q185" gradientUnits="userSpaceOnUse" x1="0" y1="470.4" x2="0" y2="489.1"><stop offset="0" stop-color="#040404"/><stop offset="0.118" stop-color="#181818"/><stop offset="0.184" stop-color="#353535"/><stop offset="0.237" stop-color="#575757"/><stop offset="0.289" stop-color="#808080"/><stop offset="0.368" stop-color="#bebebe"/><stop offset="0.5" stop-color="#ececec"/><stop offset="0.632" stop-color="#bebebe"/><stop offset="0.711" stop-color="#808080"/><stop offset="0.763" stop-color="#575757"/><stop offset="0.816" stop-color="#353535"/><stop offset="0.882" stop-color="#181818"/><stop offset="1" stop-color="#040404"/></linearGradient><linearGradient id="q186" gradientUnits="userSpaceOnUse" x1="0" y1="470.0" x2="0" y2="489.6"><stop offset="0" stop-color="#040404"/><stop offset="0.118" stop-color="#181818"/><stop offset="0.184" stop-color="#343434"/><stop offset="0.237" stop-color="#565656"/><stop offset="0.289" stop-color="#7f7f7f"/><stop offset="0.368" stop-color="#bcbcbc"/><stop offset="0.5" stop-color="#e9e9e9"/><stop offset="0.632" stop-color="#bcbcbc"/><stop offset="0.711" stop-color="#7f7f7f"/><stop offset="0.763" stop-color="#565656"/><stop offset="0.816" stop-color="#343434"/><stop offset="0.882" stop-color="#181818"/><stop offset="1" stop-color="#040404"/></linearGradient><linearGradient id="q187" gradientUnits="userSpaceOnUse" x1="0" y1="469.5" x2="0" y2="490.1"><stop offset="0" stop-color="#040404"/><stop offset="0.118" stop-color="#181818"/><stop offset="0.184" stop-color="#343434"/><stop offset="0.237" stop-color="#555555"/><stop offset="0.289" stop-color="#7d7d7d"/><stop offset="0.368" stop-color="#bababa"/><stop offset="0.5" stop-color="#e7e7e7"/><stop offset="0.632" stop-color="#bababa"/><stop offset="0.711" stop-color="#7d7d7d"/><stop offset="0.763" stop-color="#555555"/><stop offset="0.816" stop-color="#343434"/><stop offset="0.882" stop-color="#181818"/><stop offset="1" stop-color="#040404"/></linearGradient><linearGradient id="q188" gradientUnits="userSpaceOnUse" x1="0" y1="469.1" x2="0" y2="490.6"><stop offset="0" stop-color="#040404"/><stop offset="0.118" stop-color="#181818"/><stop offset="0.184" stop-color="#333333"/><stop offset="0.237" stop-color="#545454"/><stop offset="0.289" stop-color="#7c7c7c"/><stop offset="0.368" stop-color="#b8b8b8"/><stop offset="0.5" stop-color="#e4e4e4"/><stop offset="0.632" stop-color="#b8b8b8"/><stop offset="0.711" stop-color="#7c7c7c"/><stop offset="0.763" stop-color="#545454"/><stop offset="0.816" stop-color="#333333"/><stop offset="0.882" stop-color="#181818"/><stop offset="1" stop-color="#040404"/></linearGradient><linearGradient id="q189" gradientUnits="userSpaceOnUse" x1="0" y1="468.7" x2="0" y2="491.0"><stop offset="0" stop-color="#040404"/><stop offset="0.118" stop-color="#171717"/><stop offset="0.184" stop-color="#333333"/><stop offset="0.237" stop-color="#535353"/><stop offset="0.289" stop-color="#7a7a7a"/><stop offset="0.368" stop-color="#b6b6b6"/><stop offset="0.5" stop-color="#e2e2e2"/><stop offset="0.632" stop-color="#b6b6b6"/><stop offset="0.711" stop-color="#7a7a7a"/><stop offset="0.763" stop-color="#535353"/><stop offset="0.816" stop-color="#333333"/><stop offset="0.882" stop-color="#171717"/><stop offset="1" stop-color="#040404"/></linearGradient><linearGradient id="q190" gradientUnits="userSpaceOnUse" x1="0" y1="468.2" x2="0" y2="491.6"><stop offset="0" stop-color="#040404"/><stop offset="0.118" stop-color="#161616"/><stop offset="0.184" stop-color="#313131"/><stop offset="0.237" stop-color="#515151"/><stop offset="0.289" stop-color="#787878"/><stop offset="0.368" stop-color="#b3b3b3"/><stop offset="0.5" stop-color="#dddddd"/><stop offset="0.632" stop-color="#b3b3b3"/><stop offset="0.711" stop-color="#787878"/><stop offset="0.763" stop-color="#515151"/><stop offset="0.816" stop-color="#313131"/><stop offset="0.882" stop-color="#161616"/><stop offset="1" stop-color="#040404"/></linearGradient><linearGradient id="q191" gradientUnits="userSpaceOnUse" x1="0" y1="467.5" x2="0" y2="492.3"><stop offset="0" stop-color="#040404"/><stop offset="0.118" stop-color="#141414"/><stop offset="0.184" stop-color="#2e2e2e"/><stop offset="0.237" stop-color="#4e4e4e"/><stop offset="0.289" stop-color="#757575"/><stop offset="0.368" stop-color="#aeaeae"/><stop offset="0.5" stop-color="#d5d5d5"/><stop offset="0.632" stop-color="#aeaeae"/><stop offset="0.711" stop-color="#757575"/><stop offset="0.763" stop-color="#4e4e4e"/><stop offset="0.816" stop-color="#2e2e2e"/><stop offset="0.882" stop-color="#141414"/><stop offset="1" stop-color="#040404"/></linearGradient><linearGradient id="q192" gradientUnits="userSpaceOnUse" x1="0" y1="466.9" x2="0" y2="493.1"><stop offset="0" stop-color="#040404"/><stop offset="0.118" stop-color="#121212"/><stop offset="0.184" stop-color="#2c2c2c"/><stop offset="0.237" stop-color="#4c4c4c"/><stop offset="0.289" stop-color="#727272"/><stop offset="0.368" stop-color="#aaaaaa"/><stop offset="0.5" stop-color="#cdcdcd"/><stop offset="0.632" stop-color="#aaaaaa"/><stop offset="0.711" stop-color="#727272"/><stop offset="0.763" stop-color="#4c4c4c"/><stop offset="0.816" stop-color="#2c2c2c"/><stop offset="0.882" stop-color="#121212"/><stop offset="1" stop-color="#040404"/></linearGradient><linearGradient id="q193" gradientUnits="userSpaceOnUse" x1="0" y1="466.2" x2="0" y2="493.8"><stop offset="0" stop-color="#040404"/><stop offset="0.118" stop-color="#101010"/><stop offset="0.184" stop-color="#292929"/><stop offset="0.237" stop-color="#494949"/><stop offset="0.289" stop-color="#6f6f6f"/><stop offset="0.368" stop-color="#a5a5a5"/><stop offset="0.5" stop-color="#c6c6c6"/><stop offset="0.632" stop-color="#a5a5a5"/><stop offset="0.711" stop-color="#6f6f6f"/><stop offset="0.763" stop-color="#494949"/><stop offset="0.816" stop-color="#292929"/><stop offset="0.882" stop-color="#101010"/><stop offset="1" stop-color="#040404"/></linearGradient><linearGradient id="q194" gradientUnits="userSpaceOnUse" x1="0" y1="465.5" x2="0" y2="494.6"><stop offset="0" stop-color="#040404"/><stop offset="0.118" stop-color="#0e0e0e"/><stop offset="0.184" stop-color="#272727"/><stop offset="0.237" stop-color="#464646"/><stop offset="0.289" stop-color="#6c6c6c"/><stop offset="0.368" stop-color="#a1a1a1"/><stop offset="0.5" stop-color="#bfbfbf"/><stop offset="0.632" stop-color="#a1a1a1"/><stop offset="0.711" stop-color="#6c6c6c"/><stop offset="0.763" stop-color="#464646"/><stop offset="0.816" stop-color="#272727"/><stop offset="0.882" stop-color="#0e0e0e"/><stop offset="1" stop-color="#040404"/></linearGradient><linearGradient id="q195" gradientUnits="userSpaceOnUse" x1="0" y1="464.6" x2="0" y2="495.5"><stop offset="0" stop-color="#040404"/><stop offset="0.118" stop-color="#0d0d0d"/><stop offset="0.184" stop-color="#242424"/><stop offset="0.237" stop-color="#444444"/><stop offset="0.289" stop-color="#6a6a6a"/><stop offset="0.368" stop-color="#9d9d9d"/><stop offset="0.5" stop-color="#b8b8b8"/><stop offset="0.632" stop-color="#9d9d9d"/><stop offset="0.711" stop-color="#6a6a6a"/><stop offset="0.763" stop-color="#444444"/><stop offset="0.816" stop-color="#242424"/><stop offset="0.882" stop-color="#0d0d0d"/><stop offset="1" stop-color="#040404"/></linearGradient><linearGradient id="q196" gradientUnits="userSpaceOnUse" x1="0" y1="463.8" x2="0" y2="496.4"><stop offset="0" stop-color="#040404"/><stop offset="0.118" stop-color="#0b0b0b"/><stop offset="0.184" stop-color="#222222"/><stop offset="0.237" stop-color="#414141"/><stop offset="0.289" stop-color="#676767"/><stop offset="0.368" stop-color="#999999"/><stop offset="0.5" stop-color="#b2b2b2"/><stop offset="0.632" stop-color="#999999"/><stop offset="0.711" stop-color="#676767"/><stop offset="0.763" stop-color="#414141"/><stop offset="0.816" stop-color="#222222"/><stop offset="0.882" stop-color="#0b0b0b"/><stop offset="1" stop-color="#040404"/></linearGradient><linearGradient id="q197" gradientUnits="userSpaceOnUse" x1="0" y1="462.9" x2="0" y2="497.4"><stop offset="0" stop-color="#040404"/><stop offset="0.118" stop-color="#0a0a0a"/><stop offset="0.184" stop-color="#202020"/><stop offset="0.237" stop-color="#3f3f3f"/><stop offset="0.289" stop-color="#656565"/><stop offset="0.368" stop-color="#959595"/><stop offset="0.5" stop-color="#ababab"/><stop offset="0.632" stop-color="#959595"/><stop offset="0.711" stop-color="#656565"/><stop offset="0.763" stop-color="#3f3f3f"/><stop offset="0.816" stop-color="#202020"/><stop offset="0.882" stop-color="#0a0a0a"/><stop offset="1" stop-color="#040404"/></linearGradient><linearGradient id="q198" gradientUnits="userSpaceOnUse" x1="0" y1="462.0" x2="0" y2="498.3"><stop offset="0" stop-color="#040404"/><stop offset="0.118" stop-color="#090909"/><stop offset="0.184" stop-color="#1e1e1e"/><stop offset="0.237" stop-color="#3d3d3d"/><stop offset="0.289" stop-color="#626262"/><stop offset="0.368" stop-color="#909090"/><stop offset="0.5" stop-color="#a5a5a5"/><stop offset="0.632" stop-color="#909090"/><stop offset="0.711" stop-color="#626262"/><stop offset="0.763" stop-color="#3d3d3d"/><stop offset="0.816" stop-color="#1e1e1e"/><stop offset="0.882" stop-color="#090909"/><stop offset="1" stop-color="#040404"/></linearGradient><linearGradient id="q199" gradientUnits="userSpaceOnUse" x1="0" y1="461.1" x2="0" y2="499.2"><stop offset="0" stop-color="#040404"/><stop offset="0.118" stop-color="#080808"/><stop offset="0.184" stop-color="#1d1d1d"/><stop offset="0.237" stop-color="#3b3b3b"/><stop offset="0.289" stop-color="#606060"/><stop offset="0.368" stop-color="#8e8e8e"/><stop offset="0.5" stop-color="#a1a1a1"/><stop offset="0.632" stop-color="#8e8e8e"/><stop offset="0.711" stop-color="#606060"/><stop offset="0.763" stop-color="#3b3b3b"/><stop offset="0.816" stop-color="#1d1d1d"/><stop offset="0.882" stop-color="#080808"/><stop offset="1" stop-color="#040404"/></linearGradient><linearGradient id="q200" gradientUnits="userSpaceOnUse" x1="0" y1="460.3" x2="0" y2="500.1"><stop offset="0" stop-color="#040404"/><stop offset="0.118" stop-color="#070707"/><stop offset="0.184" stop-color="#1c1c1c"/><stop offset="0.237" stop-color="#3a3a3a"/><stop offset="0.289" stop-color="#606060"/><stop offset="0.368" stop-color="#8d8d8d"/><stop offset="0.5" stop-color="#9f9f9f"/><stop offset="0.632" stop-color="#8d8d8d"/><stop offset="0.711" stop-color="#606060"/><stop offset="0.763" stop-color="#3a3a3a"/><stop offset="0.816" stop-color="#1c1c1c"/><stop offset="0.882" stop-color="#070707"/><stop offset="1" stop-color="#040404"/></linearGradient><linearGradient id="q201" gradientUnits="userSpaceOnUse" x1="0" y1="459.5" x2="0" y2="501.0"><stop offset="0" stop-color="#040404"/><stop offset="0.118" stop-color="#060606"/><stop offset="0.184" stop-color="#1b1b1b"/><stop offset="0.237" stop-color="#3a3a3a"/><stop offset="0.289" stop-color="#5f5f5f"/><stop offset="0.368" stop-color="#8c8c8c"/><stop offset="0.5" stop-color="#9d9d9d"/><stop offset="0.632" stop-color="#8c8c8c"/><stop offset="0.711" stop-color="#5f5f5f"/><stop offset="0.763" stop-color="#3a3a3a"/><stop offset="0.816" stop-color="#1b1b1b"/><stop offset="0.882" stop-color="#060606"/><stop offset="1" stop-color="#040404"/></linearGradient><linearGradient id="q202" gradientUnits="userSpaceOnUse" x1="0" y1="458.6" x2="0" y2="502.0"><stop offset="0" stop-color="#040404"/><stop offset="0.118" stop-color="#060606"/><stop offset="0.184" stop-color="#1a1a1a"/><stop offset="0.237" stop-color="#393939"/><stop offset="0.289" stop-color="#5f5f5f"/><stop offset="0.368" stop-color="#8a8a8a"/><stop offset="0.5" stop-color="#9a9a9a"/><stop offset="0.632" stop-color="#8a8a8a"/><stop offset="0.711" stop-color="#5f5f5f"/><stop offset="0.763" stop-color="#393939"/><stop offset="0.816" stop-color="#1a1a1a"/><stop offset="0.882" stop-color="#060606"/><stop offset="1" stop-color="#040404"/></linearGradient><linearGradient id="q203" gradientUnits="userSpaceOnUse" x1="0" y1="457.8" x2="0" y2="502.9"><stop offset="0" stop-color="#040404"/><stop offset="0.118" stop-color="#050505"/><stop offset="0.184" stop-color="#181818"/><stop offset="0.237" stop-color="#383838"/><stop offset="0.289" stop-color="#5e5e5e"/><stop offset="0.368" stop-color="#898989"/><stop offset="0.5" stop-color="#989898"/><stop offset="0.632" stop-color="#898989"/><stop offset="0.711" stop-color="#5e5e5e"/><stop offset="0.763" stop-color="#383838"/><stop offset="0.816" stop-color="#181818"/><stop offset="0.882" stop-color="#050505"/><stop offset="1" stop-color="#040404"/></linearGradient><linearGradient id="q204" gradientUnits="userSpaceOnUse" x1="0" y1="456.9" x2="0" y2="503.8"><stop offset="0" stop-color="#040404"/><stop offset="0.118" stop-color="#040404"/><stop offset="0.184" stop-color="#171717"/><stop offset="0.237" stop-color="#373737"/><stop offset="0.289" stop-color="#5d5d5d"/><stop offset="0.368" stop-color="#878787"/><stop offset="0.5" stop-color="#959595"/><stop offset="0.632" stop-color="#878787"/><stop offset="0.711" stop-color="#5d5d5d"/><stop offset="0.763" stop-color="#373737"/><stop offset="0.816" stop-color="#171717"/><stop offset="0.882" stop-color="#040404"/><stop offset="1" stop-color="#040404"/></linearGradient><linearGradient id="q205" gradientUnits="userSpaceOnUse" x1="0" y1="456.0" x2="0" y2="504.7"><stop offset="0" stop-color="#040404"/><stop offset="0.118" stop-color="#040404"/><stop offset="0.184" stop-color="#161616"/><stop offset="0.237" stop-color="#363636"/><stop offset="0.289" stop-color="#5c5c5c"/><stop offset="0.368" stop-color="#868686"/><stop offset="0.5" stop-color="#939393"/><stop offset="0.632" stop-color="#868686"/><stop offset="0.711" stop-color="#5c5c5c"/><stop offset="0.763" stop-color="#363636"/><stop offset="0.816" stop-color="#161616"/><stop offset="0.882" stop-color="#040404"/><stop offset="1" stop-color="#040404"/></linearGradient><linearGradient id="q206" gradientUnits="userSpaceOnUse" x1="0" y1="455.2" x2="0" y2="505.6"><stop offset="0" stop-color="#040404"/><stop offset="0.118" stop-color="#040404"/><stop offset="0.184" stop-color="#161616"/><stop offset="0.237" stop-color="#353535"/><stop offset="0.289" stop-color="#5c5c5c"/><stop offset="0.368" stop-color="#848484"/><stop offset="0.5" stop-color="#919191"/><stop offset="0.632" stop-color="#848484"/><stop offset="0.711" stop-color="#5c5c5c"/><stop offset="0.763" stop-color="#353535"/><stop offset="0.816" stop-color="#161616"/><stop offset="0.882" stop-color="#040404"/><stop offset="1" stop-color="#040404"/></linearGradient><linearGradient id="q207" gradientUnits="userSpaceOnUse" x1="0" y1="454.4" x2="0" y2="506.5"><stop offset="0" stop-color="#040404"/><stop offset="0.118" stop-color="#040404"/><stop offset="0.184" stop-color="#151515"/><stop offset="0.237" stop-color="#353535"/><stop offset="0.289" stop-color="#5b5b5b"/><stop offset="0.368" stop-color="#838383"/><stop offset="0.5" stop-color="#8f8f8f"/><stop offset="0.632" stop-color="#838383"/><stop offset="0.711" stop-color="#5b5b5b"/><stop offset="0.763" stop-color="#353535"/><stop offset="0.816" stop-color="#151515"/><stop offset="0.882" stop-color="#040404"/><stop offset="1" stop-color="#040404"/></linearGradient><linearGradient id="q208" gradientUnits="userSpaceOnUse" x1="0" y1="453.6" x2="0" y2="507.3"><stop offset="0" stop-color="#040404"/><stop offset="0.118" stop-color="#040404"/><stop offset="0.184" stop-color="#151515"/><stop offset="0.237" stop-color="#343434"/><stop offset="0.289" stop-color="#5a5a5a"/><stop offset="0.368" stop-color="#828282"/><stop offset="0.5" stop-color="#8d8d8d"/><stop offset="0.632" stop-color="#828282"/><stop offset="0.711" stop-color="#5a5a5a"/><stop offset="0.763" stop-color="#343434"/><stop offset="0.816" stop-color="#151515"/><stop offset="0.882" stop-color="#040404"/><stop offset="1" stop-color="#040404"/></linearGradient><linearGradient id="q209" gradientUnits="userSpaceOnUse" x1="0" y1="452.8" x2="0" y2="508.2"><stop offset="0" stop-color="#040404"/><stop offset="0.118" stop-color="#040404"/><stop offset="0.184" stop-color="#141414"/><stop offset="0.237" stop-color="#333333"/><stop offset="0.289" stop-color="#5a5a5a"/><stop offset="0.368" stop-color="#818181"/><stop offset="0.5" stop-color="#8c8c8c"/><stop offset="0.632" stop-color="#818181"/><stop offset="0.711" stop-color="#5a5a5a"/><stop offset="0.763" stop-color="#333333"/><stop offset="0.816" stop-color="#141414"/><stop offset="0.882" stop-color="#040404"/><stop offset="1" stop-color="#040404"/></linearGradient><linearGradient id="q210" gradientUnits="userSpaceOnUse" x1="0" y1="452.1" x2="0" y2="509.0"><stop offset="0" stop-color="#040404"/><stop offset="0.118" stop-color="#040404"/><stop offset="0.184" stop-color="#141414"/><stop offset="0.237" stop-color="#333333"/><stop offset="0.289" stop-color="#595959"/><stop offset="0.368" stop-color="#808080"/><stop offset="0.5" stop-color="#8a8a8a"/><stop offset="0.632" stop-color="#808080"/><stop offset="0.711" stop-color="#595959"/><stop offset="0.763" stop-color="#333333"/><stop offset="0.816" stop-color="#141414"/><stop offset="0.882" stop-color="#040404"/><stop offset="1" stop-color="#040404"/></linearGradient><linearGradient id="q211" gradientUnits="userSpaceOnUse" x1="0" y1="451.4" x2="0" y2="509.8"><stop offset="0" stop-color="#040404"/><stop offset="0.118" stop-color="#040404"/><stop offset="0.184" stop-color="#131313"/><stop offset="0.237" stop-color="#323232"/><stop offset="0.289" stop-color="#585858"/><stop offset="0.368" stop-color="#7f7f7f"/><stop offset="0.5" stop-color="#898989"/><stop offset="0.632" stop-color="#7f7f7f"/><stop offset="0.711" stop-color="#585858"/><stop offset="0.763" stop-color="#323232"/><stop offset="0.816" stop-color="#131313"/><stop offset="0.882" stop-color="#040404"/><stop offset="1" stop-color="#040404"/></linearGradient><linearGradient id="q212" gradientUnits="userSpaceOnUse" x1="0" y1="450.7" x2="0" y2="510.5"><stop offset="0" stop-color="#040404"/><stop offset="0.118" stop-color="#040404"/><stop offset="0.184" stop-color="#131313"/><stop offset="0.237" stop-color="#323232"/><stop offset="0.289" stop-color="#585858"/><stop offset="0.368" stop-color="#7d7d7d"/><stop offset="0.5" stop-color="#878787"/><stop offset="0.632" stop-color="#7d7d7d"/><stop offset="0.711" stop-color="#585858"/><stop offset="0.763" stop-color="#323232"/><stop offset="0.816" stop-color="#131313"/><stop offset="0.882" stop-color="#040404"/><stop offset="1" stop-color="#040404"/></linearGradient><linearGradient id="q213" gradientUnits="userSpaceOnUse" x1="0" y1="449.9" x2="0" y2="511.3"><stop offset="0" stop-color="#040404"/><stop offset="0.118" stop-color="#040404"/><stop offset="0.184" stop-color="#121212"/><stop offset="0.237" stop-color="#313131"/><stop offset="0.289" stop-color="#575757"/><stop offset="0.368" stop-color="#7c7c7c"/><stop offset="0.5" stop-color="#858585"/><stop offset="0.632" stop-color="#7c7c7c"/><stop offset="0.711" stop-color="#575757"/><stop offset="0.763" stop-color="#313131"/><stop offset="0.816" stop-color="#121212"/><stop offset="0.882" stop-color="#040404"/><stop offset="1" stop-color="#040404"/></linearGradient><linearGradient id="q214" gradientUnits="userSpaceOnUse" x1="0" y1="449.2" x2="0" y2="512.1"><stop offset="0" stop-color="#040404"/><stop offset="0.118" stop-color="#040404"/><stop offset="0.184" stop-color="#121212"/><stop offset="0.237" stop-color="#303030"/><stop offset="0.289" stop-color="#565656"/><stop offset="0.368" stop-color="#7b7b7b"/><stop offset="0.5" stop-color="#838383"/><stop offset="0.632" stop-color="#7b7b7b"/><stop offset="0.711" stop-color="#565656"/><stop offset="0.763" stop-color="#303030"/><stop offset="0.816" stop-color="#121212"/><stop offset="0.882" stop-color="#040404"/><stop offset="1" stop-color="#040404"/></linearGradient><linearGradient id="q215" gradientUnits="userSpaceOnUse" x1="0" y1="448.5" x2="0" y2="512.9"><stop offset="0" stop-color="#040404"/><stop offset="0.118" stop-color="#040404"/><stop offset="0.184" stop-color="#111111"/><stop offset="0.237" stop-color="#303030"/><stop offset="0.289" stop-color="#555555"/><stop offset="0.368" stop-color="#797979"/><stop offset="0.5" stop-color="#818181"/><stop offset="0.632" stop-color="#797979"/><stop offset="0.711" stop-color="#555555"/><stop offset="0.763" stop-color="#303030"/><stop offset="0.816" stop-color="#111111"/><stop offset="0.882" stop-color="#040404"/><stop offset="1" stop-color="#040404"/></linearGradient><linearGradient id="q216" gradientUnits="userSpaceOnUse" x1="0" y1="447.7" x2="0" y2="513.7"><stop offset="0" stop-color="#040404"/><stop offset="0.118" stop-color="#040404"/><stop offset="0.184" stop-color="#111111"/><stop offset="0.237" stop-color="#2f2f2f"/><stop offset="0.289" stop-color="#545454"/><stop offset="0.368" stop-color="#777777"/><stop offset="0.5" stop-color="#7f7f7f"/><stop offset="0.632" stop-color="#777777"/><stop offset="0.711" stop-color="#545454"/><stop offset="0.763" stop-color="#2f2f2f"/><stop offset="0.816" stop-color="#111111"/><stop offset="0.882" stop-color="#040404"/><stop offset="1" stop-color="#040404"/></linearGradient><linearGradient id="q217" gradientUnits="userSpaceOnUse" x1="0" y1="447.0" x2="0" y2="514.5"><stop offset="0" stop-color="#040404"/><stop offset="0.118" stop-color="#040404"/><stop offset="0.184" stop-color="#101010"/><stop offset="0.237" stop-color="#2e2e2e"/><stop offset="0.289" stop-color="#525252"/><stop offset="0.368" stop-color="#757575"/><stop offset="0.5" stop-color="#7d7d7d"/><stop offset="0.632" stop-color="#757575"/><stop offset="0.711" stop-color="#525252"/><stop offset="0.763" stop-color="#2e2e2e"/><stop offset="0.816" stop-color="#101010"/><stop offset="0.882" stop-color="#040404"/><stop offset="1" stop-color="#040404"/></linearGradient><linearGradient id="q218" gradientUnits="userSpaceOnUse" x1="0" y1="446.2" x2="0" y2="515.4"><stop offset="0" stop-color="#040404"/><stop offset="0.118" stop-color="#040404"/><stop offset="0.184" stop-color="#0f0f0f"/><stop offset="0.237" stop-color="#2d2d2d"/><stop offset="0.289" stop-color="#515151"/><stop offset="0.368" stop-color="#737373"/><stop offset="0.5" stop-color="#7b7b7b"/><stop offset="0.632" stop-color="#737373"/><stop offset="0.711" stop-color="#515151"/><stop offset="0.763" stop-color="#2d2d2d"/><stop offset="0.816" stop-color="#0f0f0f"/><stop offset="0.882" stop-color="#040404"/><stop offset="1" stop-color="#040404"/></linearGradient><linearGradient id="q219" gradientUnits="userSpaceOnUse" x1="0" y1="445.4" x2="0" y2="516.2"><stop offset="0" stop-color="#040404"/><stop offset="0.118" stop-color="#040404"/><stop offset="0.184" stop-color="#0f0f0f"/><stop offset="0.237" stop-color="#2c2c2c"/><stop offset="0.289" stop-color="#505050"/><stop offset="0.368" stop-color="#717171"/><stop offset="0.5" stop-color="#787878"/><stop offset="0.632" stop-color="#717171"/><stop offset="0.711" stop-color="#505050"/><stop offset="0.763" stop-color="#2c2c2c"/><stop offset="0.816" stop-color="#0f0f0f"/><stop offset="0.882" stop-color="#040404"/><stop offset="1" stop-color="#040404"/></linearGradient><linearGradient id="q220" gradientUnits="userSpaceOnUse" x1="0" y1="444.7" x2="0" y2="517.0"><stop offset="0" stop-color="#040404"/><stop offset="0.118" stop-color="#040404"/><stop offset="0.184" stop-color="#0e0e0e"/><stop offset="0.237" stop-color="#2b2b2b"/><stop offset="0.289" stop-color="#4f4f4f"/><stop offset="0.368" stop-color="#6f6f6f"/><stop offset="0.5" stop-color="#767676"/><stop offset="0.632" stop-color="#6f6f6f"/><stop offset="0.711" stop-color="#4f4f4f"/><stop offset="0.763" stop-color="#2b2b2b"/><stop offset="0.816" stop-color="#0e0e0e"/><stop offset="0.882" stop-color="#040404"/><stop offset="1" stop-color="#040404"/></linearGradient><linearGradient id="q221" gradientUnits="userSpaceOnUse" x1="0" y1="443.9" x2="0" y2="517.9"><stop offset="0" stop-color="#040404"/><stop offset="0.118" stop-color="#040404"/><stop offset="0.184" stop-color="#0e0e0e"/><stop offset="0.237" stop-color="#2b2b2b"/><stop offset="0.289" stop-color="#4e4e4e"/><stop offset="0.368" stop-color="#6d6d6d"/><stop offset="0.5" stop-color="#747474"/><stop offset="0.632" stop-color="#6d6d6d"/><stop offset="0.711" stop-color="#4e4e4e"/><stop offset="0.763" stop-color="#2b2b2b"/><stop offset="0.816" stop-color="#0e0e0e"/><stop offset="0.882" stop-color="#040404"/><stop offset="1" stop-color="#040404"/></linearGradient><linearGradient id="q222" gradientUnits="userSpaceOnUse" x1="0" y1="443.1" x2="0" y2="518.7"><stop offset="0" stop-color="#040404"/><stop offset="0.118" stop-color="#040404"/><stop offset="0.184" stop-color="#0e0e0e"/><stop offset="0.237" stop-color="#2a2a2a"/><stop offset="0.289" stop-color="#4d4d4d"/><stop offset="0.368" stop-color="#6c6c6c"/><stop offset="0.5" stop-color="#727272"/><stop offset="0.632" stop-color="#6c6c6c"/><stop offset="0.711" stop-color="#4d4d4d"/><stop offset="0.763" stop-color="#2a2a2a"/><stop offset="0.816" stop-color="#0e0e0e"/><stop offset="0.882" stop-color="#040404"/><stop offset="1" stop-color="#040404"/></linearGradient><linearGradient id="q223" gradientUnits="userSpaceOnUse" x1="0" y1="442.4" x2="0" y2="519.5"><stop offset="0" stop-color="#040404"/><stop offset="0.118" stop-color="#040404"/><stop offset="0.184" stop-color="#0d0d0d"/><stop offset="0.237" stop-color="#292929"/><stop offset="0.289" stop-color="#4c4c4c"/><stop offset="0.368" stop-color="#6a6a6a"/><stop offset="0.5" stop-color="#707070"/><stop offset="0.632" stop-color="#6a6a6a"/><stop offset="0.711" stop-color="#4c4c4c"/><stop offset="0.763" stop-color="#292929"/><stop offset="0.816" stop-color="#0d0d0d"/><stop offset="0.882" stop-color="#040404"/><stop offset="1" stop-color="#040404"/></linearGradient><linearGradient id="q224" gradientUnits="userSpaceOnUse" x1="0" y1="441.6" x2="0" y2="520.4"><stop offset="0" stop-color="#040404"/><stop offset="0.118" stop-color="#040404"/><stop offset="0.184" stop-color="#0d0d0d"/><stop offset="0.237" stop-color="#292929"/><stop offset="0.289" stop-color="#4b4b4b"/><stop offset="0.368" stop-color="#686868"/><stop offset="0.5" stop-color="#6e6e6e"/><stop offset="0.632" stop-color="#686868"/><stop offset="0.711" stop-color="#4b4b4b"/><stop offset="0.763" stop-color="#292929"/><stop offset="0.816" stop-color="#0d0d0d"/><stop offset="0.882" stop-color="#040404"/><stop offset="1" stop-color="#040404"/></linearGradient><linearGradient id="q225" gradientUnits="userSpaceOnUse" x1="0" y1="440.8" x2="0" y2="521.2"><stop offset="0" stop-color="#040404"/><stop offset="0.118" stop-color="#040404"/><stop offset="0.184" stop-color="#0c0c0c"/><stop offset="0.237" stop-color="#282828"/><stop offset="0.289" stop-color="#4a4a4a"/><stop offset="0.368" stop-color="#676767"/><stop offset="0.5" stop-color="#6c6c6c"/><stop offset="0.632" stop-color="#676767"/><stop offset="0.711" stop-color="#4a4a4a"/><stop offset="0.763" stop-color="#282828"/><stop offset="0.816" stop-color="#0c0c0c"/><stop offset="0.882" stop-color="#040404"/><stop offset="1" stop-color="#040404"/></linearGradient><linearGradient id="q226" gradientUnits="userSpaceOnUse" x1="0" y1="440.1" x2="0" y2="522.0"><stop offset="0" stop-color="#040404"/><stop offset="0.118" stop-color="#040404"/><stop offset="0.184" stop-color="#0c0c0c"/><stop offset="0.237" stop-color="#272727"/><stop offset="0.289" stop-color="#494949"/><stop offset="0.368" stop-color="#656565"/><stop offset="0.5" stop-color="#6a6a6a"/><stop offset="0.632" stop-color="#656565"/><stop offset="0.711" stop-color="#494949"/><stop offset="0.763" stop-color="#272727"/><stop offset="0.816" stop-color="#0c0c0c"/><stop offset="0.882" stop-color="#040404"/><stop offset="1" stop-color="#040404"/></linearGradient><linearGradient id="q227" gradientUnits="userSpaceOnUse" x1="0" y1="439.4" x2="0" y2="522.8"><stop offset="0" stop-color="#040404"/><stop offset="0.118" stop-color="#040404"/><stop offset="0.184" stop-color="#0c0c0c"/><stop offset="0.237" stop-color="#262626"/><stop offset="0.289" stop-color="#484848"/><stop offset="0.368" stop-color="#636363"/><stop offset="0.5" stop-color="#696969"/><stop offset="0.632" stop-color="#636363"/><stop offset="0.711" stop-color="#484848"/><stop offset="0.763" stop-color="#262626"/><stop offset="0.816" stop-color="#0c0c0c"/><stop offset="0.882" stop-color="#040404"/><stop offset="1" stop-color="#040404"/></linearGradient><linearGradient id="q228" gradientUnits="userSpaceOnUse" x1="0" y1="438.6" x2="0" y2="523.6"><stop offset="0" stop-color="#040404"/><stop offset="0.118" stop-color="#040404"/><stop offset="0.184" stop-color="#0b0b0b"/><stop offset="0.237" stop-color="#262626"/><stop offset="0.289" stop-color="#464646"/><stop offset="0.368" stop-color="#626262"/><stop offset="0.5" stop-color="#676767"/><stop offset="0.632" stop-color="#626262"/><stop offset="0.711" stop-color="#464646"/><stop offset="0.763" stop-color="#262626"/><stop offset="0.816" stop-color="#0b0b0b"/><stop offset="0.882" stop-color="#040404"/><stop offset="1" stop-color="#040404"/></linearGradient><linearGradient id="q229" gradientUnits="userSpaceOnUse" x1="0" y1="437.9" x2="0" y2="524.3"><stop offset="0" stop-color="#040404"/><stop offset="0.118" stop-color="#040404"/><stop offset="0.184" stop-color="#0b0b0b"/><stop offset="0.237" stop-color="#252525"/><stop offset="0.289" stop-color="#454545"/><stop offset="0.368" stop-color="#606060"/><stop offset="0.5" stop-color="#656565"/><stop offset="0.632" stop-color="#606060"/><stop offset="0.711" stop-color="#454545"/><stop offset="0.763" stop-color="#252525"/><stop offset="0.816" stop-color="#0b0b0b"/><stop offset="0.882" stop-color="#040404"/><stop offset="1" stop-color="#040404"/></linearGradient><linearGradient id="q230" gradientUnits="userSpaceOnUse" x1="0" y1="437.2" x2="0" y2="525.1"><stop offset="0" stop-color="#040404"/><stop offset="0.118" stop-color="#040404"/><stop offset="0.184" stop-color="#0a0a0a"/><stop offset="0.237" stop-color="#242424"/><stop offset="0.289" stop-color="#444444"/><stop offset="0.368" stop-color="#5f5f5f"/><stop offset="0.5" stop-color="#636363"/><stop offset="0.632" stop-color="#5f5f5f"/><stop offset="0.711" stop-color="#444444"/><stop offset="0.763" stop-color="#242424"/><stop offset="0.816" stop-color="#0a0a0a"/><stop offset="0.882" stop-color="#040404"/><stop offset="1" stop-color="#040404"/></linearGradient><linearGradient id="q231" gradientUnits="userSpaceOnUse" x1="0" y1="436.5" x2="0" y2="525.9"><stop offset="0" stop-color="#040404"/><stop offset="0.118" stop-color="#040404"/><stop offset="0.184" stop-color="#0a0a0a"/><stop offset="0.237" stop-color="#242424"/><stop offset="0.289" stop-color="#434343"/><stop offset="0.368" stop-color="#5d5d5d"/><stop offset="0.5" stop-color="#616161"/><stop offset="0.632" stop-color="#5d5d5d"/><stop offset="0.711" stop-color="#434343"/><stop offset="0.763" stop-color="#242424"/><stop offset="0.816" stop-color="#0a0a0a"/><stop offset="0.882" stop-color="#040404"/><stop offset="1" stop-color="#040404"/></linearGradient><linearGradient id="q232" gradientUnits="userSpaceOnUse" x1="0" y1="436.4" x2="0" y2="526.0"><stop offset="0" stop-color="#040404"/><stop offset="0.118" stop-color="#040404"/><stop offset="0.184" stop-color="#0a0a0a"/><stop offset="0.237" stop-color="#242424"/><stop offset="0.289" stop-color="#434343"/><stop offset="0.368" stop-color="#5d5d5d"/><stop offset="0.5" stop-color="#616161"/><stop offset="0.632" stop-color="#5d5d5d"/><stop offset="0.711" stop-color="#434343"/><stop offset="0.763" stop-color="#242424"/><stop offset="0.816" stop-color="#0a0a0a"/><stop offset="0.882" stop-color="#040404"/><stop offset="1" stop-color="#040404"/></linearGradient><linearGradient id="q233" gradientUnits="userSpaceOnUse" x1="0" y1="436.4" x2="0" y2="526.0"><stop offset="0" stop-color="#040404"/><stop offset="0.118" stop-color="#040404"/><stop offset="0.184" stop-color="#0a0a0a"/><stop offset="0.237" stop-color="#242424"/><stop offset="0.289" stop-color="#434343"/><stop offset="0.368" stop-color="#5d5d5d"/><stop offset="0.5" stop-color="#616161"/><stop offset="0.632" stop-color="#5d5d5d"/><stop offset="0.711" stop-color="#434343"/><stop offset="0.763" stop-color="#242424"/><stop offset="0.816" stop-color="#0a0a0a"/><stop offset="0.882" stop-color="#040404"/><stop offset="1" stop-color="#040404"/></linearGradient><linearGradient id="q234" gradientUnits="userSpaceOnUse" x1="0" y1="436.4" x2="0" y2="526.0"><stop offset="0" stop-color="#040404"/><stop offset="0.118" stop-color="#040404"/><stop offset="0.184" stop-color="#0a0a0a"/><stop offset="0.237" stop-color="#242424"/><stop offset="0.289" stop-color="#434343"/><stop offset="0.368" stop-color="#5d5d5d"/><stop offset="0.5" stop-color="#616161"/><stop offset="0.632" stop-color="#5d5d5d"/><stop offset="0.711" stop-color="#434343"/><stop offset="0.763" stop-color="#242424"/><stop offset="0.816" stop-color="#0a0a0a"/><stop offset="0.882" stop-color="#040404"/><stop offset="1" stop-color="#040404"/></linearGradient></defs><rect width="685" height="523" fill="#fff"/><text x="-0.5" y="13.8" font-family="Liberation Sans" font-weight="bold" font-size="18.6" fill="#000" stroke="#000" stroke-width="0.25" text-anchor="start" >a</text>
<text x="225.2" y="13.8" font-family="Liberation Sans" font-weight="bold" font-size="18.6" fill="#000" stroke="#000" stroke-width="0.25" text-anchor="start" >b</text>
<text x="453.2" y="13.8" font-family="Liberation Sans" font-weight="bold" font-size="18.6" fill="#000" stroke="#000" stroke-width="0.25" text-anchor="start" >c</text>
<text x="-0.5" y="190" font-family="Liberation Sans" font-weight="bold" font-size="18.6" fill="#000" stroke="#000" stroke-width="0.25" text-anchor="start" >d</text>
<text x="225.2" y="189.7" font-family="Liberation Sans" font-weight="bold" font-size="18.6" fill="#000" stroke="#000" stroke-width="0.25" text-anchor="start" >e</text>
<text x="451.5" y="189.7" font-family="Liberation Sans" font-weight="bold" font-size="18.6" fill="#000" stroke="#000" stroke-width="0.25" text-anchor="start" >f</text>
<text x="-0.5" y="352.5" font-family="Liberation Sans" font-weight="bold" font-size="18.6" fill="#000" stroke="#000" stroke-width="0.25" text-anchor="start" >g</text>
<line x1="36.4" y1="146.5" x2="192.3" y2="146.5" stroke="#4d4d4d" stroke-width="1" />
<line x1="36.4" y1="27.5" x2="36.4" y2="146.5" stroke="#4d4d4d" stroke-width="1" />
<line x1="36.4" y1="27.5" x2="192.3" y2="27.5" stroke="#ff0000" stroke-width="1" />
<line x1="192.3" y1="27.5" x2="192.3" y2="146.5" stroke="#ff0000" stroke-width="1" />
<line x1="36.4" y1="146.5" x2="36.4" y2="144.9" stroke="#4d4d4d" stroke-width="1" />
<text x="36.4" y="157.5" font-family="Liberation Sans" font-weight="bold" font-size="9.1" fill="#111111" stroke="#111111" stroke-width="0.25" text-anchor="middle" >25</text>
<line x1="88.37" y1="146.5" x2="88.37" y2="144.9" stroke="#4d4d4d" stroke-width="1" />
<text x="88.37" y="157.5" font-family="Liberation Sans" font-weight="bold" font-size="9.1" fill="#111111" stroke="#111111" stroke-width="0.25" text-anchor="middle" >26</text>
<line x1="140.33" y1="146.5" x2="140.33" y2="144.9" stroke="#4d4d4d" stroke-width="1" />
<text x="140.33" y="157.5" font-family="Liberation Sans" font-weight="bold" font-size="9.1" fill="#111111" stroke="#111111" stroke-width="0.25" text-anchor="middle" >27</text>
<line x1="192.3" y1="146.5" x2="192.3" y2="144.9" stroke="#4d4d4d" stroke-width="1" />
<text x="192.3" y="157.5" font-family="Liberation Sans" font-weight="bold" font-size="9.1" fill="#111111" stroke="#111111" stroke-width="0.25" text-anchor="middle" >28</text>
<line x1="36.4" y1="146.5" x2="38" y2="146.5" stroke="#4d4d4d" stroke-width="1" />
<text x="33.8" y="149.9" font-family="Liberation Sans" font-weight="bold" font-size="9.1" fill="#111111" stroke="#111111" stroke-width="0.25" text-anchor="end" >-1.5</text>
<line x1="36.4" y1="126.67" x2="38" y2="126.67" stroke="#4d4d4d" stroke-width="1" />
<text x="33.8" y="130.07" font-family="Liberation Sans" font-weight="bold" font-size="9.1" fill="#111111" stroke="#111111" stroke-width="0.25" text-anchor="end" >-1</text>
<line x1="36.4" y1="106.83" x2="38" y2="106.83" stroke="#4d4d4d" stroke-width="1" />
<text x="33.8" y="110.23" font-family="Liberation Sans" font-weight="bold" font-size="9.1" fill="#111111" stroke="#111111" stroke-width="0.25" text-anchor="end" >-0.5</text>
<line x1="36.4" y1="87" x2="38" y2="87" stroke="#4d4d4d" stroke-width="1" />
<text x="33.8" y="90.4" font-family="Liberation Sans" font-weight="bold" font-size="9.1" fill="#111111" stroke="#111111" stroke-width="0.25" text-anchor="end" >0</text>
<line x1="36.4" y1="67.17" x2="38" y2="67.17" stroke="#4d4d4d" stroke-width="1" />
<text x="33.8" y="70.57" font-family="Liberation Sans" font-weight="bold" font-size="9.1" fill="#111111" stroke="#111111" stroke-width="0.25" text-anchor="end" >0.5</text>
<line x1="36.4" y1="47.33" x2="38" y2="47.33" stroke="#4d4d4d" stroke-width="1" />
<text x="33.8" y="50.73" font-family="Liberation Sans" font-weight="bold" font-size="9.1" fill="#111111" stroke="#111111" stroke-width="0.25" text-anchor="end" >1</text>
<line x1="36.4" y1="27.5" x2="38" y2="27.5" stroke="#4d4d4d" stroke-width="1" />
<text x="33.8" y="30.9" font-family="Liberation Sans" font-weight="bold" font-size="9.1" fill="#111111" stroke="#111111" stroke-width="0.25" text-anchor="end" >1.5</text>
<line x1="51.6" y1="27.5" x2="51.6" y2="29.1" stroke="#ff0000" stroke-width="1" />
<text x="51.6" y="24.1" font-family="Liberation Sans" font-weight="bold" font-size="9.1" fill="#ff0000" stroke="#ff0000" stroke-width="0.25" text-anchor="middle" >5</text>
<line x1="81.5" y1="27.5" x2="81.5" y2="29.1" stroke="#ff0000" stroke-width="1" />
<text x="81.5" y="24.1" font-family="Liberation Sans" font-weight="bold" font-size="9.1" fill="#ff0000" stroke="#ff0000" stroke-width="0.25" text-anchor="middle" >6</text>
<line x1="111.4" y1="27.5" x2="111.4" y2="29.1" stroke="#ff0000" stroke-width="1" />
<text x="111.4" y="24.1" font-family="Liberation Sans" font-weight="bold" font-size="9.1" fill="#ff0000" stroke="#ff0000" stroke-width="0.25" text-anchor="middle" >7</text>
<line x1="141.3" y1="27.5" x2="141.3" y2="29.1" stroke="#ff0000" stroke-width="1" />
<text x="141.3" y="24.1" font-family="Liberation Sans" font-weight="bold" font-size="9.1" fill="#ff0000" stroke="#ff0000" stroke-width="0.25" text-anchor="middle" >8</text>
<line x1="171.2" y1="27.5" x2="171.2" y2="29.1" stroke="#ff0000" stroke-width="1" />
<text x="171.2" y="24.1" font-family="Liberation Sans" font-weight="bold" font-size="9.1" fill="#ff0000" stroke="#ff0000" stroke-width="0.25" text-anchor="middle" >9</text>
<line x1="192.3" y1="27.5" x2="190.7" y2="27.5" stroke="#ff0000" stroke-width="1" />
<text x="196.2" y="30.9" font-family="Liberation Sans" font-weight="bold" font-size="9.1" fill="#ff0000" stroke="#ff0000" stroke-width="0.25" text-anchor="start" >0</text>
<line x1="192.3" y1="67.17" x2="190.7" y2="67.17" stroke="#ff0000" stroke-width="1" />
<text x="196.2" y="70.57" font-family="Liberation Sans" font-weight="bold" font-size="9.1" fill="#ff0000" stroke="#ff0000" stroke-width="0.25" text-anchor="start" >-10</text>
<line x1="192.3" y1="106.83" x2="190.7" y2="106.83" stroke="#ff0000" stroke-width="1" />
<text x="196.2" y="110.23" font-family="Liberation Sans" font-weight="bold" font-size="9.1" fill="#ff0000" stroke="#ff0000" stroke-width="0.25" text-anchor="start" >-20</text>
<line x1="192.3" y1="146.5" x2="190.7" y2="146.5" stroke="#ff0000" stroke-width="1" />
<text x="196.2" y="149.9" font-family="Liberation Sans" font-weight="bold" font-size="9.1" fill="#ff0000" stroke="#ff0000" stroke-width="0.25" text-anchor="start" >-30</text>
<text x="115" y="168.9" font-family="Liberation Sans" font-weight="bold" font-size="9.8" fill="#111111" stroke="#111111" stroke-width="0.25" text-anchor="middle" >Time (μs)</text>
<text x="115.1" y="12.8" font-family="Liberation Sans" font-weight="bold" font-size="9.8" fill="#ff0000" stroke="#ff0000" stroke-width="0.25" text-anchor="middle" >Frequency (MHz)</text>
<text transform="translate(12.6,86.3) rotate(-90)" font-family="Liberation Sans" font-weight="bold" font-size="9.8" fill="#111111" stroke="#111111" stroke-width="0.25" text-anchor="middle">US amplitude (V)</text>
<text transform="translate(219.3,87.5) rotate(-90)" font-family="Liberation Sans" font-weight="bold" font-size="9.8" fill="#ff0000" stroke="#ff0000" stroke-width="0.25" text-anchor="middle">Magnitude (dB)</text>
<path d="M36.4,133.8C37,131.82 38.88,125.08 40,121.9C41.12,118.72 42.1,116.9 43.1,114.7C44.1,112.5 44.92,111.28 46,108.7C47.08,106.12 48.22,103.18 49.6,99.2C50.98,95.22 52.72,89.58 54.3,84.8C55.88,80.02 57.5,75.08 59.1,70.5C60.7,65.92 62.3,61.1 63.9,57.3C65.5,53.5 67.1,50.3 68.7,47.7C70.3,45.1 71.7,44.08 73.5,41.7C75.3,39.32 77.72,35.58 79.5,33.4C81.28,31.22 82.62,29.57 84.2,28.6C85.78,27.63 87.53,27.78 89,27.6C90.47,27.42 91,27.48 93,27.5C95,27.52 98.32,27.52 101,27.7C103.68,27.88 106.42,27.92 109.1,28.6C111.78,29.28 114.43,30.7 117.1,31.8C119.77,32.9 122.42,34.57 125.1,35.2C127.78,35.83 130.78,35.2 133.2,35.6C135.62,36 137.47,36.7 139.6,37.6C141.73,38.5 143.87,39.32 146,41C148.13,42.68 150.52,45.52 152.4,47.7C154.28,49.88 155.42,51.97 157.3,54.1C159.18,56.23 161.83,58.22 163.7,60.5C165.57,62.78 167,64.72 168.5,67.8C170,70.88 171.43,75.97 172.7,79C173.97,82.03 174.87,83.38 176.1,86C177.33,88.62 178.88,91.47 180.1,94.7C181.32,97.93 182.28,101.6 183.4,105.4C184.52,109.2 185.68,113.7 186.8,117.5C187.92,121.3 189.22,125.3 190.1,128.2C190.98,131.1 191.77,133.78 192.1,134.9" fill="none" stroke="#ff0000" stroke-width="1.9" stroke-linejoin="round"/>
<path d="M36.4,84.29 L37.9,84.65 L39.4,84.44 L40.9,84.72 L42.4,84.75 L43.9,84.08 L45.4,84.02 L46.9,85 L48.4,84.31 L49.9,84.28 L51.4,85.19 L52.9,84.56 L54.4,85 L55.9,84.57 L57.4,84.77 L58.9,84.18 L60.4,84.76 L61.9,85.04 L63.4,84.63 L64.9,84.89 L66.4,84.81 L67.9,84.08 L69.4,84.91 L70.9,84.71 L72.4,84.36 L73.9,84.04 L75.4,85.04 L76.9,84.57 L78.4,84.86 L79.9,85.05 L80,84.6 L80.5,84.58 L81,84.5 L81.5,84.39 L82,84.25 L82.5,84.1 L83,83.95 L83.5,83.81 L84,83.7 L84.5,83.62 L85,83.6 L85.5,83.15 L86,81.92 L86.5,80.25 L87,78.58 L87.5,77.35 L88,76.9 L88.51,78.94 L89.03,84.67 L89.54,92.95 L90.06,102.15 L90.57,110.43 L91.09,116.16 L91.6,118.2 L92.11,115.99 L92.62,109.64 L93.13,99.9 L93.64,87.96 L94.16,75.24 L94.67,63.3 L95.18,53.56 L95.69,47.21 L96.2,45 L96.74,51.9 L97.28,69.98 L97.82,92.32 L98.36,110.4 L98.9,117.3 L99.41,113.96 L99.93,104.61 L100.44,91.1 L100.96,76.1 L101.47,62.59 L101.99,53.24 L102.5,49.9 L103.01,53.79 L103.53,64.7 L104.04,80.45 L104.56,97.95 L105.07,113.7 L105.59,124.61 L106.1,128.5 L106.6,126.44 L107.1,120.5 L107.6,111.4 L108.1,100.24 L108.6,88.36 L109.1,77.2 L109.6,68.1 L110.1,62.16 L110.6,60.1 L111.17,62.19 L111.73,67.9 L112.3,75.7 L112.87,83.5 L113.43,89.21 L114,91.3 L114.6,90.23 L115.2,87.65 L115.8,85.07 L116.4,84 L117,84.72 L117.6,86.17 L118.2,86.9 L118.74,86.5 L119.28,85.45 L119.82,84.15 L120.36,83.1 L120.9,82.7 L121.44,83.27 L121.98,84.77 L122.52,86.63 L123.06,88.13 L123.6,88.7 L124.1,88.3 L124.6,87.16 L125.1,85.46 L125.6,83.45 L126.1,81.44 L126.6,79.74 L127.1,78.6 L127.6,78.2 L128.16,78.87 L128.71,80.76 L129.27,83.49 L129.83,86.51 L130.39,89.24 L130.94,91.13 L131.5,91.8 L132.01,91.38 L132.53,90.17 L133.04,88.37 L133.55,86.25 L134.06,84.13 L134.57,82.33 L135.09,81.12 L135.6,80.7 L136.17,80.98 L136.73,81.75 L137.3,82.8 L137.87,83.85 L138.43,84.62 L139,84.9 L139.63,84.9 L140.27,84.9 L140.9,84.9 L141.45,85.09 L142,85.62 L142.55,86.35 L143.1,87.08 L143.65,87.61 L144.2,87.8 L144.74,87.58 L145.27,86.97 L145.81,86.04 L146.35,84.95 L146.89,83.86 L147.43,82.93 L147.96,82.32 L148.5,82.1 L149.05,82.26 L149.6,82.7 L150.15,83.3 L150.7,83.9 L151.25,84.34 L151.8,84.5 L152.35,84.53 L152.9,84.6 L153.45,84.7 L154,84.8 L154.55,84.87 L155.1,84.9 L155.68,85.08 L156.26,85.56 L156.84,86.14 L157.42,86.62 L158,86.8 L158.54,86.66 L159.09,86.27 L159.63,85.71 L160.17,85.09 L160.71,84.53 L161.26,84.14 L161.8,84 L162.33,84.03 L162.85,84.13 L163.38,84.28 L163.9,84.45 L164.43,84.62 L164.95,84.77 L165.47,84.87 L166,84.9 L166.58,84.88 L167.16,84.83 L167.74,84.77 L168.32,84.72 L168.9,84.7 L169.46,84.82 L170.02,85.15 L170.58,85.55 L171.14,85.88 L171.7,86 L172.25,85.93 L172.8,85.75 L173.35,85.5 L173.9,85.25 L174.45,85.07 L175,85 L175.57,84.95 L176.13,84.83 L176.7,84.65 L177.27,84.47 L177.83,84.35 L178.4,84.3 L178.92,84.36 L179.44,84.54 L179.96,84.82 L180.48,85.16 L181,85.55 L181.52,85.94 L182.04,86.28 L182.56,86.56 L183.08,86.74 L183.6,86.8 L184.14,86.72 L184.68,86.49 L185.21,86.15 L185.75,85.75 L186.29,85.35 L186.82,85.01 L187.36,84.78 L187.9,84.7 L188.43,84.72 L188.95,84.76 L189.47,84.82 L190,84.9 L190.53,84.98 L191.05,85.04 L191.57,85.08 L192.1,85.1" fill="none" stroke="#000" stroke-width="2.1" stroke-linejoin="round"/>
<line x1="265.2" y1="146.5" x2="422.3" y2="146.5" stroke="#4d4d4d" stroke-width="1" />
<line x1="265.2" y1="27.7" x2="265.2" y2="146.5" stroke="#7a7a7a" stroke-width="1.2" />
<line x1="422.3" y1="27.7" x2="422.3" y2="146.5" stroke="#ff0000" stroke-width="1" />
<line x1="265.2" y1="146.5" x2="265.2" y2="144.7" stroke="#4d4d4d" stroke-width="1" />
<text x="264.2" y="160.3" font-family="Liberation Sans" font-weight="bold" font-size="11.0" fill="#111111" stroke="#111111" stroke-width="0.25" text-anchor="middle" >5</text>
<line x1="304.48" y1="146.5" x2="304.48" y2="144.7" stroke="#4d4d4d" stroke-width="1" />
<text x="303.48" y="160.3" font-family="Liberation Sans" font-weight="bold" font-size="11.0" fill="#111111" stroke="#111111" stroke-width="0.25" text-anchor="middle" >6</text>
<line x1="343.75" y1="146.5" x2="343.75" y2="144.7" stroke="#4d4d4d" stroke-width="1" />
<text x="342.75" y="160.3" font-family="Liberation Sans" font-weight="bold" font-size="11.0" fill="#111111" stroke="#111111" stroke-width="0.25" text-anchor="middle" >7</text>
<line x1="383.02" y1="146.5" x2="383.02" y2="144.7" stroke="#4d4d4d" stroke-width="1" />
<text x="382.02" y="160.3" font-family="Liberation Sans" font-weight="bold" font-size="11.0" fill="#111111" stroke="#111111" stroke-width="0.25" text-anchor="middle" >8</text>
<line x1="422.3" y1="146.5" x2="422.3" y2="144.7" stroke="#4d4d4d" stroke-width="1" />
<text x="421.3" y="160.3" font-family="Liberation Sans" font-weight="bold" font-size="11.0" fill="#111111" stroke="#111111" stroke-width="0.25" text-anchor="middle" >9</text>
<line x1="265.2" y1="146.5" x2="267" y2="146.5" stroke="#4d4d4d" stroke-width="1" />
<text x="262.3" y="152.3" font-family="Liberation Sans" font-weight="bold" font-size="11.0" fill="#111111" stroke="#111111" stroke-width="0.25" text-anchor="end" >250</text>
<line x1="265.2" y1="120.75" x2="267" y2="120.75" stroke="#4d4d4d" stroke-width="1" />
<text x="262.3" y="126.55" font-family="Liberation Sans" font-weight="bold" font-size="11.0" fill="#111111" stroke="#111111" stroke-width="0.25" text-anchor="end" >300</text>
<line x1="265.2" y1="95" x2="267" y2="95" stroke="#4d4d4d" stroke-width="1" />
<text x="262.3" y="100.8" font-family="Liberation Sans" font-weight="bold" font-size="11.0" fill="#111111" stroke="#111111" stroke-width="0.25" text-anchor="end" >350</text>
<line x1="265.2" y1="69.25" x2="267" y2="69.25" stroke="#4d4d4d" stroke-width="1" />
<text x="262.3" y="75.05" font-family="Liberation Sans" font-weight="bold" font-size="11.0" fill="#111111" stroke="#111111" stroke-width="0.25" text-anchor="end" >400</text>
<line x1="265.2" y1="43.5" x2="267" y2="43.5" stroke="#4d4d4d" stroke-width="1" />
<text x="262.3" y="49.3" font-family="Liberation Sans" font-weight="bold" font-size="11.0" fill="#111111" stroke="#111111" stroke-width="0.25" text-anchor="end" >450</text>
<line x1="422.3" y1="27.7" x2="420.5" y2="27.7" stroke="#ff0000" stroke-width="1" />
<text x="425.6" y="33.4" font-family="Liberation Sans" font-weight="bold" font-size="11.0" fill="#ff0000" stroke="#ff0000" stroke-width="0.25" text-anchor="start" >-35</text>
<line x1="422.3" y1="47.5" x2="420.5" y2="47.5" stroke="#ff0000" stroke-width="1" />
<line x1="422.3" y1="67.3" x2="420.5" y2="67.3" stroke="#ff0000" stroke-width="1" />
<text x="425.6" y="73" font-family="Liberation Sans" font-weight="bold" font-size="11.0" fill="#ff0000" stroke="#ff0000" stroke-width="0.25" text-anchor="start" >-45</text>
<line x1="422.3" y1="87.1" x2="420.5" y2="87.1" stroke="#ff0000" stroke-width="1" />
<line x1="422.3" y1="106.9" x2="420.5" y2="106.9" stroke="#ff0000" stroke-width="1" />
<text x="425.6" y="112.6" font-family="Liberation Sans" font-weight="bold" font-size="11.0" fill="#ff0000" stroke="#ff0000" stroke-width="0.25" text-anchor="start" >-55</text>
<line x1="422.3" y1="126.7" x2="420.5" y2="126.7" stroke="#ff0000" stroke-width="1" />
<line x1="422.3" y1="146.5" x2="420.5" y2="146.5" stroke="#ff0000" stroke-width="1" />
<text x="425.6" y="152.2" font-family="Liberation Sans" font-weight="bold" font-size="11.0" fill="#ff0000" stroke="#ff0000" stroke-width="0.25" text-anchor="start" >-65</text>
<text x="337.9" y="169.9" font-family="Liberation Sans" font-weight="bold" font-size="11.25" fill="#111111" stroke="#111111" stroke-width="0.25" text-anchor="middle" >Frequency (MHz)</text>
<text transform="translate(239.8,88.5) rotate(-90)" font-family="Liberation Sans" font-weight="bold" font-size="11.3" fill="#111111" stroke="#111111" stroke-width="0.25" text-anchor="middle">Impedance (Ω)</text>
<text transform="translate(452.6,88.2) rotate(-90)" font-family="Liberation Sans" font-weight="bold" font-size="10.9" fill="#ff0000" stroke="#ff0000" stroke-width="0.25" text-anchor="middle">Phase (degree)</text>
<path d="M265.2,125.5C265.87,127.08 267.57,132.42 269.2,135C270.83,137.58 273.02,139.6 275,141C276.98,142.4 279.1,143.23 281.1,143.4C283.1,143.57 285,143 287,142C289,141 290.93,139.4 293.1,137.4C295.27,135.4 297.6,132.78 300,130C302.4,127.22 305.5,124.03 307.5,120.7C309.5,117.37 310.42,113.98 312,110C313.58,106.02 315.33,101.8 317,96.8C318.67,91.8 320.4,85.18 322,80C323.6,74.82 325.1,70.37 326.6,65.7C328.1,61.03 329.4,56 331,52C332.6,48 334.62,44.17 336.2,41.7C337.78,39.23 339.07,38.2 340.5,37.2C341.93,36.2 343.03,34.98 344.8,35.7C346.57,36.42 349.02,38.88 351.1,41.5C353.18,44.12 355.38,47.95 357.3,51.4C359.22,54.85 360.82,58.88 362.6,62.2C364.38,65.52 366.08,68.25 368,71.3C369.92,74.35 372.07,77.93 374.1,80.5C376.13,83.07 378.17,84.65 380.2,86.7C382.23,88.75 384.5,90.52 386.3,92.8C388.1,95.08 389.47,97.85 391,100.4C392.53,102.95 394.05,105.35 395.5,108.1C396.95,110.85 398.12,114.25 399.7,116.9C401.28,119.55 403.42,122.02 405,124C406.58,125.98 407.3,127.2 409.2,128.8C411.1,130.4 414.27,132.52 416.4,133.6C418.53,134.68 421.07,135.02 422,135.3" fill="none" stroke="#ff0000" stroke-width="1.9"/>
<path d="M265.2,32.2C266.27,33.6 269.35,37.02 271.6,40.6C273.85,44.18 276.32,48.72 278.7,53.7C281.08,58.68 283.5,64.52 285.9,70.5C288.3,76.48 290.7,83.43 293.1,89.6C295.5,95.77 297.9,102.12 300.3,107.5C302.7,112.88 305.12,117.7 307.5,121.9C309.88,126.1 312.68,130.18 314.6,132.7C316.52,135.22 317.4,135.98 319,137C320.6,138.02 322.53,138.72 324.2,138.8C325.87,138.88 327.4,138.32 329,137.5C330.6,136.68 331.97,136.15 333.8,133.9C335.63,131.65 337.77,127.83 340,124C342.23,120.17 345.08,114.2 347.2,110.9C349.32,107.6 350.9,106.1 352.7,104.2C354.5,102.3 356.45,100.7 358,99.5C359.55,98.3 360.43,97.68 362,97C363.57,96.32 365.73,95.6 367.4,95.4C369.07,95.2 370.2,95.47 372,95.8C373.8,96.13 376.03,96.82 378.2,97.4C380.37,97.98 382.62,98.57 385,99.3C387.38,100.03 390.5,100.88 392.5,101.8C394.5,102.72 395.42,103.48 397,104.8C398.58,106.12 400.33,108 402,109.7C403.67,111.4 405.4,113.2 407,115C408.6,116.8 410.02,118.75 411.6,120.5C413.18,122.25 414.77,123.92 416.5,125.5C418.23,127.08 421.08,129.25 422,130" fill="none" stroke="#000" stroke-width="1.9"/>
<text x="320" y="124.4" font-family="Liberation Sans" font-weight="bold" font-size="10.5" fill="#000" stroke="#000" stroke-width="0.25" text-anchor="start" >f</text>
<text x="323.2" y="128.2" font-family="Liberation Sans" font-weight="bold" font-size="7" fill="#000" stroke="#000" stroke-width="0.25" text-anchor="start" >r</text>
<line x1="324.3" y1="125.4" x2="324.3" y2="131" stroke="#000" stroke-width="1.1" />
<path d="M321,130.2 L327.5,130.2 L324.3,136.3 Z" fill="#000"/>
<text x="359.9" y="84.6" font-family="Liberation Sans" font-weight="bold" font-size="10.5" fill="#000" stroke="#000" stroke-width="0.25" text-anchor="start" >f</text>
<text x="363.3" y="88.6" font-family="Liberation Sans" font-weight="bold" font-size="7" fill="#000" stroke="#000" stroke-width="0.25" text-anchor="start" >a</text>
<path d="M361,93 L367.5,93 L364.3,86.4 Z" fill="#000"/>
<line x1="489.8" y1="146.5" x2="652.2" y2="146.5" stroke="#4d4d4d" stroke-width="1" />
<line x1="489.8" y1="26.3" x2="489.8" y2="146.5" stroke="#4d4d4d" stroke-width="1" />
<line x1="652.2" y1="26.3" x2="652.2" y2="146.5" stroke="#ff0000" stroke-width="1" />
<line x1="489.9" y1="146.5" x2="489.9" y2="144.7" stroke="#4d4d4d" stroke-width="1" />
<text x="488.6" y="160.2" font-family="Liberation Sans" font-weight="bold" font-size="11.1" fill="#111111" stroke="#111111" stroke-width="0.25" text-anchor="middle" >0</text>
<line x1="539.9" y1="146.5" x2="539.9" y2="144.7" stroke="#4d4d4d" stroke-width="1" />
<text x="538.6" y="160.2" font-family="Liberation Sans" font-weight="bold" font-size="11.1" fill="#111111" stroke="#111111" stroke-width="0.25" text-anchor="middle" >20</text>
<line x1="589.9" y1="146.5" x2="589.9" y2="144.7" stroke="#4d4d4d" stroke-width="1" />
<text x="588.6" y="160.2" font-family="Liberation Sans" font-weight="bold" font-size="11.1" fill="#111111" stroke="#111111" stroke-width="0.25" text-anchor="middle" >40</text>
<line x1="639.9" y1="146.5" x2="639.9" y2="144.7" stroke="#4d4d4d" stroke-width="1" />
<text x="638.6" y="160.2" font-family="Liberation Sans" font-weight="bold" font-size="11.1" fill="#111111" stroke="#111111" stroke-width="0.25" text-anchor="middle" >60</text>
<line x1="489.8" y1="146.5" x2="491.6" y2="146.5" stroke="#4d4d4d" stroke-width="1" />
<text x="486.5" y="152.4" font-family="Liberation Sans" font-weight="bold" font-size="11.1" fill="#111111" stroke="#111111" stroke-width="0.25" text-anchor="end" >0</text>
<line x1="489.8" y1="122.46" x2="491.6" y2="122.46" stroke="#4d4d4d" stroke-width="1" />
<text x="486.5" y="128.36" font-family="Liberation Sans" font-weight="bold" font-size="11.1" fill="#111111" stroke="#111111" stroke-width="0.25" text-anchor="end" >2</text>
<line x1="489.8" y1="98.42" x2="491.6" y2="98.42" stroke="#4d4d4d" stroke-width="1" />
<text x="486.5" y="104.32" font-family="Liberation Sans" font-weight="bold" font-size="11.1" fill="#111111" stroke="#111111" stroke-width="0.25" text-anchor="end" >4</text>
<line x1="489.8" y1="74.38" x2="491.6" y2="74.38" stroke="#4d4d4d" stroke-width="1" />
<text x="486.5" y="80.28" font-family="Liberation Sans" font-weight="bold" font-size="11.1" fill="#111111" stroke="#111111" stroke-width="0.25" text-anchor="end" >6</text>
<line x1="489.8" y1="50.34" x2="491.6" y2="50.34" stroke="#4d4d4d" stroke-width="1" />
<text x="486.5" y="56.24" font-family="Liberation Sans" font-weight="bold" font-size="11.1" fill="#111111" stroke="#111111" stroke-width="0.25" text-anchor="end" >8</text>
<line x1="489.8" y1="26.3" x2="491.6" y2="26.3" stroke="#4d4d4d" stroke-width="1" />
<text x="486.5" y="32.2" font-family="Liberation Sans" font-weight="bold" font-size="11.1" fill="#111111" stroke="#111111" stroke-width="0.25" text-anchor="end" >10</text>
<line x1="652.2" y1="146.5" x2="650.4" y2="146.5" stroke="#ff0000" stroke-width="1" />
<text x="655.6" y="151.5" font-family="Liberation Sans" font-weight="bold" font-size="11.1" fill="#ff0000" stroke="#ff0000" stroke-width="0.25" text-anchor="start" >0</text>
<line x1="652.2" y1="122.46" x2="650.4" y2="122.46" stroke="#ff0000" stroke-width="1" />
<text x="655.6" y="127.46" font-family="Liberation Sans" font-weight="bold" font-size="11.1" fill="#ff0000" stroke="#ff0000" stroke-width="0.25" text-anchor="start" >20</text>
<line x1="652.2" y1="98.42" x2="650.4" y2="98.42" stroke="#ff0000" stroke-width="1" />
<text x="655.6" y="103.42" font-family="Liberation Sans" font-weight="bold" font-size="11.1" fill="#ff0000" stroke="#ff0000" stroke-width="0.25" text-anchor="start" >40</text>
<line x1="652.2" y1="74.38" x2="650.4" y2="74.38" stroke="#ff0000" stroke-width="1" />
<text x="655.6" y="79.38" font-family="Liberation Sans" font-weight="bold" font-size="11.1" fill="#ff0000" stroke="#ff0000" stroke-width="0.25" text-anchor="start" >60</text>
<line x1="652.2" y1="50.34" x2="650.4" y2="50.34" stroke="#ff0000" stroke-width="1" />
<text x="655.6" y="55.34" font-family="Liberation Sans" font-weight="bold" font-size="11.1" fill="#ff0000" stroke="#ff0000" stroke-width="0.25" text-anchor="start" >80</text>
<line x1="652.2" y1="26.3" x2="650.4" y2="26.3" stroke="#ff0000" stroke-width="1" />
<text x="655.6" y="31.3" font-family="Liberation Sans" font-weight="bold" font-size="11.1" fill="#ff0000" stroke="#ff0000" stroke-width="0.25" text-anchor="start" >100</text>
<text x="565.8" y="171" font-family="Liberation Sans" font-weight="bold" font-size="11.1" fill="#111111" stroke="#111111" stroke-width="0.25" text-anchor="middle" >Element number</text>
<text transform="translate(470.8,87.05) rotate(-90)" font-family="Liberation Sans" font-weight="bold" font-size="11.2" fill="#111111" stroke="#111111" stroke-width="0.25" text-anchor="middle">Center frequency (MHz)</text>
<text transform="translate(682.6,86.5) rotate(-90)" font-family="Liberation Sans" font-weight="bold" font-size="11.4" fill="#ff0000" stroke="#ff0000" stroke-width="0.25" text-anchor="middle">-6 dB bandwidth (%)</text>
<g fill="#000"><circle cx="492.4" cy="62.02" r="1.45"/><circle cx="494.9" cy="61.65" r="1.45"/><circle cx="497.4" cy="61.89" r="1.45"/><circle cx="499.9" cy="62.26" r="1.45"/><circle cx="502.4" cy="61.77" r="1.45"/><circle cx="504.9" cy="61.89" r="1.45"/><circle cx="507.4" cy="61.65" r="1.45"/><circle cx="509.9" cy="61.65" r="1.45"/><circle cx="512.4" cy="61.04" r="1.45"/><circle cx="514.9" cy="60.06" r="1.45"/><circle cx="517.4" cy="60.67" r="1.45"/><circle cx="519.9" cy="60.79" r="1.45"/><circle cx="522.4" cy="61.65" r="1.45"/><circle cx="524.9" cy="62.26" r="1.45"/><circle cx="527.4" cy="62.26" r="1.45"/><circle cx="529.9" cy="62.14" r="1.45"/><circle cx="532.4" cy="61.89" r="1.45"/><circle cx="534.9" cy="61.65" r="1.45"/><circle cx="537.4" cy="62.63" r="1.45"/><circle cx="539.9" cy="62.63" r="1.45"/><circle cx="542.4" cy="62.26" r="1.45"/><circle cx="544.9" cy="62.63" r="1.45"/><circle cx="547.4" cy="62.02" r="1.45"/><circle cx="549.9" cy="61.28" r="1.45"/><circle cx="552.4" cy="61.89" r="1.45"/><circle cx="554.9" cy="62.51" r="1.45"/><circle cx="557.4" cy="62.63" r="1.45"/><circle cx="559.9" cy="62.02" r="1.45"/><circle cx="562.4" cy="66.8" r="1.45"/><circle cx="564.9" cy="66.55" r="1.45"/><circle cx="567.4" cy="64.1" r="1.45"/><circle cx="569.9" cy="65.7" r="1.45"/><circle cx="572.4" cy="62.63" r="1.45"/><circle cx="574.9" cy="62.26" r="1.45"/><circle cx="577.4" cy="62.63" r="1.45"/><circle cx="579.9" cy="62.88" r="1.45"/><circle cx="582.4" cy="63" r="1.45"/><circle cx="584.9" cy="63.49" r="1.45"/><circle cx="587.4" cy="63.12" r="1.45"/><circle cx="589.9" cy="62.88" r="1.45"/><circle cx="592.4" cy="62.88" r="1.45"/><circle cx="594.9" cy="62.88" r="1.45"/><circle cx="597.4" cy="62.88" r="1.45"/><circle cx="599.9" cy="62.88" r="1.45"/><circle cx="602.4" cy="62.88" r="1.45"/><circle cx="604.9" cy="63" r="1.45"/><circle cx="607.4" cy="62.88" r="1.45"/><circle cx="609.9" cy="63.24" r="1.45"/><circle cx="612.4" cy="62.88" r="1.45"/><circle cx="614.9" cy="62.88" r="1.45"/><circle cx="617.4" cy="65.57" r="1.45"/><circle cx="619.9" cy="65.33" r="1.45"/><circle cx="622.4" cy="64.96" r="1.45"/><circle cx="624.9" cy="64.71" r="1.45"/><circle cx="627.4" cy="62.88" r="1.45"/><circle cx="629.9" cy="64.1" r="1.45"/><circle cx="632.4" cy="61.28" r="1.45"/><circle cx="634.9" cy="61.28" r="1.45"/><circle cx="637.4" cy="61.77" r="1.45"/><circle cx="639.9" cy="62.26" r="1.45"/><circle cx="642.4" cy="62.88" r="1.45"/><circle cx="644.9" cy="64.71" r="1.45"/><circle cx="647.4" cy="62.88" r="1.45"/><circle cx="649.9" cy="60.42" r="1.45"/></g>
<g fill="#ff0000"><circle cx="492.4" cy="91.5" r="1.45"/><circle cx="494.9" cy="89.7" r="1.45"/><circle cx="497.4" cy="89.8" r="1.45"/><circle cx="499.9" cy="91.5" r="1.45"/><circle cx="502.4" cy="90" r="1.45"/><circle cx="504.9" cy="87.4" r="1.45"/><circle cx="507.4" cy="90" r="1.45"/><circle cx="509.9" cy="90.6" r="1.45"/><circle cx="512.4" cy="88.6" r="1.45"/><circle cx="514.9" cy="87" r="1.45"/><circle cx="517.4" cy="88.4" r="1.45"/><circle cx="519.9" cy="88.6" r="1.45"/><circle cx="522.4" cy="93" r="1.45"/><circle cx="524.9" cy="91.2" r="1.45"/><circle cx="527.4" cy="90.3" r="1.45"/><circle cx="529.9" cy="91.5" r="1.45"/><circle cx="532.4" cy="89.8" r="1.45"/><circle cx="534.9" cy="89.7" r="1.45"/><circle cx="537.4" cy="91.7" r="1.45"/><circle cx="539.9" cy="92.5" r="1.45"/><circle cx="542.4" cy="91.2" r="1.45"/><circle cx="544.9" cy="96.2" r="1.45"/><circle cx="547.4" cy="94.6" r="1.45"/><circle cx="549.9" cy="93.2" r="1.45"/><circle cx="552.4" cy="94.8" r="1.45"/><circle cx="554.9" cy="91.5" r="1.45"/><circle cx="557.4" cy="92.3" r="1.45"/><circle cx="559.9" cy="94.6" r="1.45"/><circle cx="562.4" cy="96.7" r="1.45"/><circle cx="564.9" cy="95.4" r="1.45"/><circle cx="567.4" cy="97" r="1.45"/><circle cx="569.9" cy="94" r="1.45"/><circle cx="572.4" cy="93.6" r="1.45"/><circle cx="574.9" cy="96.1" r="1.45"/><circle cx="577.4" cy="94" r="1.45"/><circle cx="579.9" cy="94.1" r="1.45"/><circle cx="582.4" cy="94" r="1.45"/><circle cx="584.9" cy="95.6" r="1.45"/><circle cx="587.4" cy="95.2" r="1.45"/><circle cx="589.9" cy="93.8" r="1.45"/><circle cx="592.4" cy="93.6" r="1.45"/><circle cx="594.9" cy="94.1" r="1.45"/><circle cx="597.4" cy="94.3" r="1.45"/><circle cx="599.9" cy="94" r="1.45"/><circle cx="602.4" cy="93.6" r="1.45"/><circle cx="604.9" cy="92.1" r="1.45"/><circle cx="607.4" cy="94" r="1.45"/><circle cx="609.9" cy="91.4" r="1.45"/><circle cx="612.4" cy="94.2" r="1.45"/><circle cx="614.9" cy="94.2" r="1.45"/><circle cx="617.4" cy="99" r="1.45"/><circle cx="619.9" cy="95.6" r="1.45"/><circle cx="622.4" cy="93" r="1.45"/><circle cx="624.9" cy="95.6" r="1.45"/><circle cx="627.4" cy="94.2" r="1.45"/><circle cx="629.9" cy="93.4" r="1.45"/><circle cx="632.4" cy="91.2" r="1.45"/><circle cx="634.9" cy="89.5" r="1.45"/><circle cx="637.4" cy="91.2" r="1.45"/><circle cx="639.9" cy="91.2" r="1.45"/><circle cx="642.4" cy="92.8" r="1.45"/><circle cx="644.9" cy="96.9" r="1.45"/><circle cx="647.4" cy="94.2" r="1.45"/><circle cx="649.9" cy="94.2" r="1.45"/></g>
<g fill="#0b6cb8" stroke="#0a3f70" stroke-width="0.6"><rect x="37.05" y="232.74" width="1.93" height="78.26"/><rect x="39.47" y="234.84" width="1.93" height="76.16"/><rect x="41.89" y="240.68" width="1.93" height="70.32"/><rect x="44.31" y="236.01" width="1.93" height="74.99"/><rect x="46.72" y="237.17" width="1.93" height="73.83"/><rect x="49.14" y="239.74" width="1.93" height="71.26"/><rect x="51.56" y="235.07" width="1.93" height="75.93"/><rect x="53.98" y="236.01" width="1.93" height="74.99"/><rect x="56.4" y="236.94" width="1.93" height="74.06"/><rect x="58.82" y="238.93" width="1.93" height="72.07"/><rect x="61.24" y="238.11" width="1.93" height="72.89"/><rect x="63.65" y="239.28" width="1.93" height="71.72"/><rect x="66.07" y="239.16" width="1.93" height="71.84"/><rect x="68.49" y="239.28" width="1.93" height="71.72"/><rect x="70.91" y="233.32" width="1.93" height="77.68"/><rect x="73.33" y="240.33" width="1.93" height="70.67"/><rect x="75.75" y="235.77" width="1.93" height="75.23"/><rect x="78.16" y="233.09" width="1.93" height="77.91"/><rect x="80.58" y="240.09" width="1.93" height="70.91"/><rect x="83" y="236.24" width="1.93" height="74.76"/><rect x="85.42" y="239.28" width="1.93" height="71.72"/><rect x="87.84" y="241.03" width="1.93" height="69.97"/><rect x="90.26" y="237.17" width="1.93" height="73.83"/><rect x="92.68" y="234.61" width="1.93" height="76.39"/><rect x="95.09" y="236.01" width="1.93" height="74.99"/><rect x="97.51" y="238.34" width="1.93" height="72.66"/><rect x="99.93" y="233.67" width="1.93" height="77.33"/><rect x="102.35" y="234.26" width="1.93" height="76.74"/><rect x="104.77" y="239.74" width="1.93" height="71.26"/><rect x="107.19" y="236.24" width="1.93" height="74.76"/><rect x="109.6" y="239.28" width="1.93" height="71.72"/><rect x="112.02" y="229" width="1.93" height="82"/><rect x="114.44" y="233.67" width="1.93" height="77.33"/><rect x="116.86" y="233.09" width="1.93" height="77.91"/><rect x="119.28" y="237.52" width="1.93" height="73.48"/><rect x="121.7" y="239.28" width="1.93" height="71.72"/><rect x="124.12" y="230.17" width="1.93" height="80.83"/><rect x="126.53" y="236.24" width="1.93" height="74.76"/><rect x="128.95" y="233.67" width="1.93" height="77.33"/><rect x="131.37" y="242.43" width="1.93" height="68.57"/><rect x="133.79" y="233.09" width="1.93" height="77.91"/><rect x="136.21" y="237.52" width="1.93" height="73.48"/><rect x="138.63" y="233.09" width="1.93" height="77.91"/><rect x="141.04" y="235.42" width="1.93" height="75.58"/><rect x="143.46" y="233.09" width="1.93" height="77.91"/><rect x="145.88" y="239.51" width="1.93" height="71.49"/><rect x="148.3" y="238.34" width="1.93" height="72.66"/><rect x="150.72" y="242.78" width="1.93" height="68.22"/><rect x="153.14" y="237.41" width="1.93" height="73.59"/><rect x="155.56" y="233.32" width="1.93" height="77.68"/><rect x="157.97" y="237.17" width="1.93" height="73.83"/><rect x="160.39" y="240.09" width="1.93" height="70.91"/><rect x="162.81" y="240.09" width="1.93" height="70.91"/><rect x="165.23" y="238.58" width="1.93" height="72.42"/><rect x="167.65" y="239.28" width="1.93" height="71.72"/><rect x="170.07" y="232.27" width="1.93" height="78.73"/><rect x="172.48" y="240.91" width="1.93" height="70.09"/><rect x="174.9" y="237.17" width="1.93" height="73.83"/><rect x="177.32" y="232.51" width="1.93" height="78.49"/><rect x="179.74" y="232.51" width="1.93" height="78.49"/><rect x="182.16" y="236.24" width="1.93" height="74.76"/><rect x="184.58" y="239.28" width="1.93" height="71.72"/><rect x="187" y="240.68" width="1.93" height="70.32"/><rect x="189.41" y="242.43" width="1.93" height="68.57"/></g>
<rect x="35.6" y="195.5" width="157.2" height="115.5" fill="none" stroke="#4d4d4d" stroke-width="1"/>
<line x1="35.6" y1="311" x2="35.6" y2="309.2" stroke="#4d4d4d" stroke-width="1" />
<line x1="35.6" y1="195.5" x2="35.6" y2="197.3" stroke="#4d4d4d" stroke-width="1" />
<text x="35.6" y="324.5" font-family="Liberation Sans" font-weight="bold" font-size="10.8" fill="#111111" stroke="#111111" stroke-width="0.25" text-anchor="middle" >0</text>
<line x1="83.97" y1="311" x2="83.97" y2="309.2" stroke="#4d4d4d" stroke-width="1" />
<line x1="83.97" y1="195.5" x2="83.97" y2="197.3" stroke="#4d4d4d" stroke-width="1" />
<text x="83.97" y="324.5" font-family="Liberation Sans" font-weight="bold" font-size="10.8" fill="#111111" stroke="#111111" stroke-width="0.25" text-anchor="middle" >20</text>
<line x1="132.34" y1="311" x2="132.34" y2="309.2" stroke="#4d4d4d" stroke-width="1" />
<line x1="132.34" y1="195.5" x2="132.34" y2="197.3" stroke="#4d4d4d" stroke-width="1" />
<text x="132.34" y="324.5" font-family="Liberation Sans" font-weight="bold" font-size="10.8" fill="#111111" stroke="#111111" stroke-width="0.25" text-anchor="middle" >40</text>
<line x1="180.71" y1="311" x2="180.71" y2="309.2" stroke="#4d4d4d" stroke-width="1" />
<line x1="180.71" y1="195.5" x2="180.71" y2="197.3" stroke="#4d4d4d" stroke-width="1" />
<text x="180.71" y="324.5" font-family="Liberation Sans" font-weight="bold" font-size="10.8" fill="#111111" stroke="#111111" stroke-width="0.25" text-anchor="middle" >60</text>
<line x1="35.6" y1="311" x2="37.4" y2="311" stroke="#4d4d4d" stroke-width="1" />
<line x1="192.8" y1="311" x2="191" y2="311" stroke="#4d4d4d" stroke-width="1" />
<text x="32.3" y="316.2" font-family="Liberation Sans" font-weight="bold" font-size="10.8" fill="#111111" stroke="#111111" stroke-width="0.25" text-anchor="end" >0</text>
<line x1="35.6" y1="294.5" x2="37.4" y2="294.5" stroke="#4d4d4d" stroke-width="1" />
<line x1="192.8" y1="294.5" x2="191" y2="294.5" stroke="#4d4d4d" stroke-width="1" />
<text x="32.3" y="299.7" font-family="Liberation Sans" font-weight="bold" font-size="10.8" fill="#111111" stroke="#111111" stroke-width="0.25" text-anchor="end" >10</text>
<line x1="35.6" y1="278" x2="37.4" y2="278" stroke="#4d4d4d" stroke-width="1" />
<line x1="192.8" y1="278" x2="191" y2="278" stroke="#4d4d4d" stroke-width="1" />
<text x="32.3" y="283.2" font-family="Liberation Sans" font-weight="bold" font-size="10.8" fill="#111111" stroke="#111111" stroke-width="0.25" text-anchor="end" >20</text>
<line x1="35.6" y1="261.5" x2="37.4" y2="261.5" stroke="#4d4d4d" stroke-width="1" />
<line x1="192.8" y1="261.5" x2="191" y2="261.5" stroke="#4d4d4d" stroke-width="1" />
<text x="32.3" y="266.7" font-family="Liberation Sans" font-weight="bold" font-size="10.8" fill="#111111" stroke="#111111" stroke-width="0.25" text-anchor="end" >30</text>
<line x1="35.6" y1="245" x2="37.4" y2="245" stroke="#4d4d4d" stroke-width="1" />
<line x1="192.8" y1="245" x2="191" y2="245" stroke="#4d4d4d" stroke-width="1" />
<text x="32.3" y="250.2" font-family="Liberation Sans" font-weight="bold" font-size="10.8" fill="#111111" stroke="#111111" stroke-width="0.25" text-anchor="end" >40</text>
<line x1="35.6" y1="228.5" x2="37.4" y2="228.5" stroke="#4d4d4d" stroke-width="1" />
<line x1="192.8" y1="228.5" x2="191" y2="228.5" stroke="#4d4d4d" stroke-width="1" />
<text x="32.3" y="233.7" font-family="Liberation Sans" font-weight="bold" font-size="10.8" fill="#111111" stroke="#111111" stroke-width="0.25" text-anchor="end" >50</text>
<line x1="35.6" y1="212" x2="37.4" y2="212" stroke="#4d4d4d" stroke-width="1" />
<line x1="192.8" y1="212" x2="191" y2="212" stroke="#4d4d4d" stroke-width="1" />
<text x="32.3" y="217.2" font-family="Liberation Sans" font-weight="bold" font-size="10.8" fill="#111111" stroke="#111111" stroke-width="0.25" text-anchor="end" >60</text>
<line x1="35.6" y1="195.5" x2="37.4" y2="195.5" stroke="#4d4d4d" stroke-width="1" />
<line x1="192.8" y1="195.5" x2="191" y2="195.5" stroke="#4d4d4d" stroke-width="1" />
<text x="32.3" y="200.7" font-family="Liberation Sans" font-weight="bold" font-size="10.8" fill="#111111" stroke="#111111" stroke-width="0.25" text-anchor="end" >70</text>
<text x="114.25" y="334.9" font-family="Liberation Sans" font-weight="bold" font-size="11.2" fill="#111111" stroke="#111111" stroke-width="0.25" text-anchor="middle" >Element number</text>
<text transform="translate(13.1,255.9) rotate(-90)" font-family="Liberation Sans" font-weight="bold" font-size="11.7" fill="#111111" stroke="#111111" stroke-width="0.25" text-anchor="middle">US A-line SNR (dB)</text>
<rect x="263.9" y="196.2" width="161.6" height="115.3" fill="none" stroke="#4d4d4d" stroke-width="1"/>
<line x1="284.1" y1="311.5" x2="284.1" y2="309.7" stroke="#4d4d4d" stroke-width="1" />
<line x1="284.1" y1="196.2" x2="284.1" y2="198" stroke="#4d4d4d" stroke-width="1" />
<text x="284.1" y="324.7" font-family="Liberation Sans" font-weight="bold" font-size="11.0" fill="#111111" stroke="#111111" stroke-width="0.25" text-anchor="middle" >2</text>
<line x1="324.5" y1="311.5" x2="324.5" y2="309.7" stroke="#4d4d4d" stroke-width="1" />
<line x1="324.5" y1="196.2" x2="324.5" y2="198" stroke="#4d4d4d" stroke-width="1" />
<text x="324.5" y="324.7" font-family="Liberation Sans" font-weight="bold" font-size="11.0" fill="#111111" stroke="#111111" stroke-width="0.25" text-anchor="middle" >4</text>
<line x1="364.9" y1="311.5" x2="364.9" y2="309.7" stroke="#4d4d4d" stroke-width="1" />
<line x1="364.9" y1="196.2" x2="364.9" y2="198" stroke="#4d4d4d" stroke-width="1" />
<text x="364.9" y="324.7" font-family="Liberation Sans" font-weight="bold" font-size="11.0" fill="#111111" stroke="#111111" stroke-width="0.25" text-anchor="middle" >6</text>
<line x1="405.3" y1="311.5" x2="405.3" y2="309.7" stroke="#4d4d4d" stroke-width="1" />
<line x1="405.3" y1="196.2" x2="405.3" y2="198" stroke="#4d4d4d" stroke-width="1" />
<text x="405.3" y="324.7" font-family="Liberation Sans" font-weight="bold" font-size="11.0" fill="#111111" stroke="#111111" stroke-width="0.25" text-anchor="middle" >8</text>
<line x1="263.9" y1="196.2" x2="265.7" y2="196.2" stroke="#4d4d4d" stroke-width="1" />
<line x1="425.5" y1="196.2" x2="423.7" y2="196.2" stroke="#4d4d4d" stroke-width="1" />
<text x="260.8" y="201.4" font-family="Liberation Sans" font-weight="bold" font-size="11.0" fill="#111111" stroke="#111111" stroke-width="0.25" text-anchor="end" >0</text>
<line x1="263.9" y1="217.82" x2="265.7" y2="217.82" stroke="#4d4d4d" stroke-width="1" />
<line x1="425.5" y1="217.82" x2="423.7" y2="217.82" stroke="#4d4d4d" stroke-width="1" />
<text x="260.8" y="223.02" font-family="Liberation Sans" font-weight="bold" font-size="11.0" fill="#111111" stroke="#111111" stroke-width="0.25" text-anchor="end" >-15</text>
<line x1="263.9" y1="239.44" x2="265.7" y2="239.44" stroke="#4d4d4d" stroke-width="1" />
<line x1="425.5" y1="239.44" x2="423.7" y2="239.44" stroke="#4d4d4d" stroke-width="1" />
<text x="260.8" y="244.64" font-family="Liberation Sans" font-weight="bold" font-size="11.0" fill="#111111" stroke="#111111" stroke-width="0.25" text-anchor="end" >-30</text>
<line x1="263.9" y1="261.06" x2="265.7" y2="261.06" stroke="#4d4d4d" stroke-width="1" />
<line x1="425.5" y1="261.06" x2="423.7" y2="261.06" stroke="#4d4d4d" stroke-width="1" />
<text x="260.8" y="266.26" font-family="Liberation Sans" font-weight="bold" font-size="11.0" fill="#111111" stroke="#111111" stroke-width="0.25" text-anchor="end" >-45</text>
<line x1="263.9" y1="282.68" x2="265.7" y2="282.68" stroke="#4d4d4d" stroke-width="1" />
<line x1="425.5" y1="282.68" x2="423.7" y2="282.68" stroke="#4d4d4d" stroke-width="1" />
<text x="260.8" y="287.88" font-family="Liberation Sans" font-weight="bold" font-size="11.0" fill="#111111" stroke="#111111" stroke-width="0.25" text-anchor="end" >-60</text>
<line x1="263.9" y1="304.29" x2="265.7" y2="304.29" stroke="#4d4d4d" stroke-width="1" />
<line x1="425.5" y1="304.29" x2="423.7" y2="304.29" stroke="#4d4d4d" stroke-width="1" />
<text x="260.8" y="309.49" font-family="Liberation Sans" font-weight="bold" font-size="11.0" fill="#111111" stroke="#111111" stroke-width="0.25" text-anchor="end" >-75</text>
<text x="342" y="335" font-family="Liberation Sans" font-weight="bold" font-size="11.1" fill="#111111" stroke="#111111" stroke-width="0.25" text-anchor="middle" >Frequency (MHz)</text>
<text transform="translate(242.2,254.4) rotate(-90)" font-family="Liberation Sans" font-weight="bold" font-size="11.4" fill="#111111" stroke="#111111" stroke-width="0.25" text-anchor="middle">Crosstalk (dB)</text>
<line x1="264.9" y1="239.44" x2="421.5" y2="239.44" stroke="#ff0000" stroke-width="1.3" stroke-dasharray="1.6 1.6"/>
<path d="M263.9,257 L284.1,250 L304.3,245.4 L324.5,245.2 L344.7,250.4 L364.9,248 L385.1,247.6 L405.3,245.6 L425.5,246.6" fill="none" stroke="#0072bd" stroke-width="1.9"/>
<path d="M263.9,262 L284.1,260 L304.3,259.2 L324.5,260.4 L344.7,265.6 L364.9,256 L385.1,255.6 L405.3,260.4 L425.5,254.4" fill="none" stroke="#d95319" stroke-width="1.9"/>
<line x1="272.9" y1="205.9" x2="289.6" y2="205.9" stroke="#0072bd" stroke-width="2.2" />
<line x1="272.9" y1="217.7" x2="289.6" y2="217.7" stroke="#d95319" stroke-width="2.2" />
<text x="295" y="212.2" font-family="Liberation Sans" font-size="10.9" fill="#262626" text-anchor="start" >Adjacent element</text>
<text x="295" y="223" font-family="Liberation Sans" font-size="10.9" fill="#262626" text-anchor="start" >2nd nearest element</text>
<line x1="497.1" y1="311.1" x2="654" y2="311.1" stroke="#4d4d4d" stroke-width="1" />
<line x1="497.1" y1="192.6" x2="497.1" y2="311.1" stroke="#7a7a7a" stroke-width="1.2" />
<line x1="497.1" y1="311.1" x2="497.1" y2="309.3" stroke="#4d4d4d" stroke-width="1" />
<text x="497.1" y="324.5" font-family="Liberation Sans" font-weight="bold" font-size="10.9" fill="#111111" stroke="#111111" stroke-width="0.25" text-anchor="middle" >400</text>
<line x1="528.48" y1="311.1" x2="528.48" y2="309.3" stroke="#4d4d4d" stroke-width="1" />
<text x="528.48" y="324.5" font-family="Liberation Sans" font-weight="bold" font-size="10.9" fill="#111111" stroke="#111111" stroke-width="0.25" text-anchor="middle" >500</text>
<line x1="559.86" y1="311.1" x2="559.86" y2="309.3" stroke="#4d4d4d" stroke-width="1" />
<text x="559.86" y="324.5" font-family="Liberation Sans" font-weight="bold" font-size="10.9" fill="#111111" stroke="#111111" stroke-width="0.25" text-anchor="middle" >600</text>
<line x1="591.24" y1="311.1" x2="591.24" y2="309.3" stroke="#4d4d4d" stroke-width="1" />
<text x="591.24" y="324.5" font-family="Liberation Sans" font-weight="bold" font-size="10.9" fill="#111111" stroke="#111111" stroke-width="0.25" text-anchor="middle" >700</text>
<line x1="622.62" y1="311.1" x2="622.62" y2="309.3" stroke="#4d4d4d" stroke-width="1" />
<text x="622.62" y="324.5" font-family="Liberation Sans" font-weight="bold" font-size="10.9" fill="#111111" stroke="#111111" stroke-width="0.25" text-anchor="middle" >800</text>
<line x1="654" y1="311.1" x2="654" y2="309.3" stroke="#4d4d4d" stroke-width="1" />
<text x="654" y="324.5" font-family="Liberation Sans" font-weight="bold" font-size="10.9" fill="#111111" stroke="#111111" stroke-width="0.25" text-anchor="middle" >900</text>
<line x1="497.1" y1="311.1" x2="498.9" y2="311.1" stroke="#4d4d4d" stroke-width="1" />
<text x="493.8" y="316.7" font-family="Liberation Sans" font-weight="bold" font-size="10.9" fill="#111111" stroke="#111111" stroke-width="0.25" text-anchor="end" >0</text>
<line x1="497.1" y1="287.4" x2="498.9" y2="287.4" stroke="#4d4d4d" stroke-width="1" />
<text x="493.8" y="293" font-family="Liberation Sans" font-weight="bold" font-size="10.9" fill="#111111" stroke="#111111" stroke-width="0.25" text-anchor="end" >20</text>
<line x1="497.1" y1="263.7" x2="498.9" y2="263.7" stroke="#4d4d4d" stroke-width="1" />
<text x="493.8" y="269.3" font-family="Liberation Sans" font-weight="bold" font-size="10.9" fill="#111111" stroke="#111111" stroke-width="0.25" text-anchor="end" >40</text>
<line x1="497.1" y1="240" x2="498.9" y2="240" stroke="#4d4d4d" stroke-width="1" />
<text x="493.8" y="245.6" font-family="Liberation Sans" font-weight="bold" font-size="10.9" fill="#111111" stroke="#111111" stroke-width="0.25" text-anchor="end" >60</text>
<line x1="497.1" y1="216.3" x2="498.9" y2="216.3" stroke="#4d4d4d" stroke-width="1" />
<text x="493.8" y="221.9" font-family="Liberation Sans" font-weight="bold" font-size="10.9" fill="#111111" stroke="#111111" stroke-width="0.25" text-anchor="end" >80</text>
<line x1="497.1" y1="192.6" x2="498.9" y2="192.6" stroke="#4d4d4d" stroke-width="1" />
<text x="493.8" y="198.2" font-family="Liberation Sans" font-weight="bold" font-size="10.9" fill="#111111" stroke="#111111" stroke-width="0.25" text-anchor="end" >100</text>
<text x="575.5" y="334.7" font-family="Liberation Sans" font-weight="bold" font-size="11.1" fill="#111111" stroke="#111111" stroke-width="0.25" text-anchor="middle" >Wavelength (nm)</text>
<text transform="translate(474,251) rotate(-90)" font-family="Liberation Sans" font-weight="bold" font-size="10.7" fill="#111111" stroke="#111111" stroke-width="0.25" text-anchor="middle">Transmittance (%)</text>
<path d="M497.5,206.7 L502,205 L507.4,203.4 L513,202 L519.8,200.9 L526,200 L532.2,199.6 L545,199.5 L560,199.3 L580,199.2 L600,199 L620,199 L654,198.7" fill="none" stroke="#7e2f8e" stroke-width="1.7" stroke-linejoin="round"/>
<path d="M497.5,216 L500,213 L502.4,210.5 L505,208 L508.6,205.9 L511,206.3 L513.6,206.1 L516,205 L519.8,203.9 L525,203.5 L532.2,202.8 L545,202.4 L560,202 L580,201.8 L620,201.6 L654,201.4" fill="none" stroke="#4dbeee" stroke-width="1.7" stroke-linejoin="round"/>
<path d="M497.5,224.7 L500,221 L502.4,218.5 L506,215.8 L509.9,213.8 L514,212.8 L519.8,212.3 L530,211.8 L544.6,211.3 L560,210.8 L580,209.9 L600,209.5 L630,209 L654,208.9" fill="none" stroke="#d95319" stroke-width="1.7" stroke-linejoin="round"/>
<path d="M497.5,233.4 L499,229 L500.5,226.6 L503,223.5 L507.4,219.8 L510,218.3 L513.6,217.3 L519,216.5 L526,215.4 L535,215 L544.6,214.8 L555,214.5 L565,213.5 L580,211.7 L595,211 L610,210.5 L630,210.2 L654,209.9" fill="none" stroke="#77ac30" stroke-width="1.7" stroke-linejoin="round"/>
<path d="M497.5,247 L500,244 L502.4,240.9 L504.5,237 L506.2,234 L509,233 L513.6,232.2 L516.5,231 L519.8,229.5 L526,227.8 L532.2,226 L538,224.3 L544.6,222.5 L550,222 L557,222 L566,222.3 L575,222.5 L581,221.2 L587,219.8 L595,219.7 L603,220.2 L610,219.8 L625,219 L640,218.3 L654,217" fill="none" stroke="#edb120" stroke-width="1.7" stroke-linejoin="round"/>
<path d="M497.5,261 L500,256 L503.7,250 L507.4,247 L510.5,244 L513.6,241.5 L516.5,240 L519.8,238.4 L524,235.8 L528.5,233.2 L532,232.8 L536,232.2 L540.9,230.3 L548,229.9 L557,229.7 L565,229.7 L571.9,229.7 L580,228.5 L584,227 L587,225.7 L598,225.2 L608,225.4 L614,226.6 L620,226.4 L630,225.8 L640,225.1 L654,224.4" fill="none" stroke="#000000" stroke-width="1.7" stroke-linejoin="round"/>
<rect x="587.4" y="194" width="53.7" height="116.6" fill="#ffff00" fill-opacity="0.45"/>
<path d="M594.4,221 L602.2,228.8 M602.2,221 L594.4,228.8" stroke="#000" stroke-width="2.5"/>
<text x="588" y="240.9" font-family="Liberation Sans" font-size="10.7" fill="#262626" text-anchor="start" >72.7%</text>
<line x1="512.2" y1="253.9" x2="529" y2="253.9" stroke="#7e2f8e" stroke-width="2.4" />
<text x="534.2" y="259.3" font-family="Liberation Sans" font-size="10.1" fill="#262626" text-anchor="start" >Lens</text>
<line x1="512.2" y1="263.5" x2="529" y2="263.5" stroke="#4dbeee" stroke-width="2.4" />
<text x="534.2" y="268.9" font-family="Liberation Sans" font-size="10.1" fill="#262626" text-anchor="start" >ML2</text>
<line x1="512.2" y1="272.8" x2="529" y2="272.8" stroke="#d95319" stroke-width="2.4" />
<text x="534.2" y="278.2" font-family="Liberation Sans" font-size="10.1" fill="#262626" text-anchor="start" >BB</text>
<line x1="512.2" y1="282.1" x2="529" y2="282.1" stroke="#77ac30" stroke-width="2.4" />
<text x="534.2" y="287.5" font-family="Liberation Sans" font-size="10.1" fill="#262626" text-anchor="start" >ML1</text>
<line x1="512.2" y1="291.5" x2="529" y2="291.5" stroke="#edb120" stroke-width="2.4" />
<text x="534.2" y="296.9" font-family="Liberation Sans" font-size="10.1" fill="#262626" text-anchor="start" >ITO-P</text>
<line x1="512.2" y1="300.9" x2="529" y2="300.9" stroke="#000000" stroke-width="2.4" />
<text x="534.2" y="306.3" font-family="Liberation Sans" font-size="10.1" fill="#262626" text-anchor="start" >TUT-array</text>
<g clip-path="url(#ct)"><g filter="url(#jet)"><rect x="30" y="352.6" width="290.2" height="92.4" fill="rgb(4,4,4)"/><rect x="30" y="360.1" width="3.5" height="74.6" fill="url(#q1)" shape-rendering="crispEdges"/><rect x="32.5" y="360.1" width="3.5" height="74.6" fill="url(#q2)" shape-rendering="crispEdges"/><rect x="35" y="360.2" width="3.5" height="74.5" fill="url(#q3)" shape-rendering="crispEdges"/><rect x="37.5" y="360.7" width="3.5" height="73.4" fill="url(#q4)" shape-rendering="crispEdges"/><rect x="40" y="361.3" width="3.5" height="72.4" fill="url(#q5)" shape-rendering="crispEdges"/><rect x="42.5" y="361.8" width="3.5" height="71.4" fill="url(#q6)" shape-rendering="crispEdges"/><rect x="45" y="362.3" width="3.5" height="70.3" fill="url(#q7)" shape-rendering="crispEdges"/><rect x="47.5" y="362.9" width="3.5" height="69.3" fill="url(#q8)" shape-rendering="crispEdges"/><rect x="50" y="363.4" width="3.5" height="68.3" fill="url(#q9)" shape-rendering="crispEdges"/><rect x="52.5" y="363.9" width="3.5" height="67.3" fill="url(#q10)" shape-rendering="crispEdges"/><rect x="55" y="364.5" width="3.5" height="66.2" fill="url(#q11)" shape-rendering="crispEdges"/><rect x="57.5" y="365.0" width="3.5" height="65.2" fill="url(#q12)" shape-rendering="crispEdges"/><rect x="60" y="365.5" width="3.5" height="64.2" fill="url(#q13)" shape-rendering="crispEdges"/><rect x="62.5" y="366.1" width="3.5" height="63.2" fill="url(#q14)" shape-rendering="crispEdges"/><rect x="65" y="366.6" width="3.5" height="62.2" fill="url(#q15)" shape-rendering="crispEdges"/><rect x="67.5" y="367.1" width="3.5" height="61.2" fill="url(#q16)" shape-rendering="crispEdges"/><rect x="70" y="367.7" width="3.5" height="60.1" fill="url(#q17)" shape-rendering="crispEdges"/><rect x="72.5" y="368.3" width="3.5" height="58.9" fill="url(#q18)" shape-rendering="crispEdges"/><rect x="75" y="368.9" width="3.5" height="57.8" fill="url(#q19)" shape-rendering="crispEdges"/><rect x="77.5" y="369.5" width="3.5" height="56.6" fill="url(#q20)" shape-rendering="crispEdges"/><rect x="80" y="370.2" width="3.5" height="55.3" fill="url(#q21)" shape-rendering="crispEdges"/><rect x="82.5" y="371.0" width="3.5" height="53.8" fill="url(#q22)" shape-rendering="crispEdges"/><rect x="85" y="371.7" width="3.5" height="52.3" fill="url(#q23)" shape-rendering="crispEdges"/><rect x="87.5" y="372.5" width="3.5" height="50.8" fill="url(#q24)" shape-rendering="crispEdges"/><rect x="90" y="373.3" width="3.5" height="49.2" fill="url(#q25)" shape-rendering="crispEdges"/><rect x="92.5" y="374.1" width="3.5" height="47.7" fill="url(#q26)" shape-rendering="crispEdges"/><rect x="95" y="374.9" width="3.5" height="46.1" fill="url(#q27)" shape-rendering="crispEdges"/><rect x="97.5" y="375.8" width="3.5" height="44.3" fill="url(#q28)" shape-rendering="crispEdges"/><rect x="100" y="376.7" width="3.5" height="42.6" fill="url(#q29)" shape-rendering="crispEdges"/><rect x="102.5" y="377.5" width="3.5" height="41.0" fill="url(#q30)" shape-rendering="crispEdges"/><rect x="105" y="378.4" width="3.5" height="39.3" fill="url(#q31)" shape-rendering="crispEdges"/><rect x="107.5" y="379.2" width="3.5" height="37.7" fill="url(#q32)" shape-rendering="crispEdges"/><rect x="110" y="380.1" width="3.5" height="35.9" fill="url(#q33)" shape-rendering="crispEdges"/><rect x="112.5" y="380.9" width="3.5" height="34.2" fill="url(#q34)" shape-rendering="crispEdges"/><rect x="115" y="381.8" width="3.5" height="32.6" fill="url(#q35)" shape-rendering="crispEdges"/><rect x="117.5" y="382.6" width="3.5" height="31.0" fill="url(#q36)" shape-rendering="crispEdges"/><rect x="120" y="383.3" width="3.5" height="29.5" fill="url(#q37)" shape-rendering="crispEdges"/><rect x="122.5" y="384.0" width="3.5" height="28.1" fill="url(#q38)" shape-rendering="crispEdges"/><rect x="125" y="384.7" width="3.5" height="26.7" fill="url(#q39)" shape-rendering="crispEdges"/><rect x="127.5" y="385.4" width="3.5" height="25.3" fill="url(#q40)" shape-rendering="crispEdges"/><rect x="130" y="386.1" width="3.5" height="24.0" fill="url(#q41)" shape-rendering="crispEdges"/><rect x="132.5" y="386.7" width="3.5" height="22.7" fill="url(#q42)" shape-rendering="crispEdges"/><rect x="135" y="387.4" width="3.5" height="21.4" fill="url(#q43)" shape-rendering="crispEdges"/><rect x="137.5" y="388.0" width="3.5" height="20.2" fill="url(#q44)" shape-rendering="crispEdges"/><rect x="140" y="388.6" width="3.5" height="19.0" fill="url(#q45)" shape-rendering="crispEdges"/><rect x="142.5" y="389.2" width="3.5" height="17.7" fill="url(#q46)" shape-rendering="crispEdges"/><rect x="145" y="389.9" width="3.5" height="16.5" fill="url(#q47)" shape-rendering="crispEdges"/><rect x="147.5" y="390.5" width="3.5" height="15.3" fill="url(#q48)" shape-rendering="crispEdges"/><rect x="150" y="391.0" width="3.5" height="14.2" fill="url(#q49)" shape-rendering="crispEdges"/><rect x="152.5" y="391.4" width="3.5" height="13.4" fill="url(#q50)" shape-rendering="crispEdges"/><rect x="155" y="391.8" width="3.5" height="12.6" fill="url(#q51)" shape-rendering="crispEdges"/><rect x="157.5" y="392.3" width="3.5" height="11.7" fill="url(#q52)" shape-rendering="crispEdges"/><rect x="160" y="392.5" width="3.5" height="11.2" fill="url(#q53)" shape-rendering="crispEdges"/><rect x="162.5" y="392.6" width="3.5" height="11.0" fill="url(#q54)" shape-rendering="crispEdges"/><rect x="165" y="392.7" width="3.5" height="10.8" fill="url(#q55)" shape-rendering="crispEdges"/><rect x="167.5" y="392.9" width="3.5" height="10.6" fill="url(#q56)" shape-rendering="crispEdges"/><rect x="170" y="393.0" width="3.5" height="10.4" fill="url(#q57)" shape-rendering="crispEdges"/><rect x="172.5" y="393.1" width="3.5" height="10.2" fill="url(#q58)" shape-rendering="crispEdges"/><rect x="175" y="393.2" width="3.5" height="10.0" fill="url(#q59)" shape-rendering="crispEdges"/><rect x="177.5" y="393.3" width="3.5" height="9.9" fill="url(#q60)" shape-rendering="crispEdges"/><rect x="180" y="393.4" width="3.5" height="9.7" fill="url(#q61)" shape-rendering="crispEdges"/><rect x="182.5" y="393.5" width="3.5" height="9.5" fill="url(#q62)" shape-rendering="crispEdges"/><rect x="185" y="393.6" width="3.5" height="9.3" fill="url(#q63)" shape-rendering="crispEdges"/><rect x="187.5" y="393.5" width="3.5" height="9.4" fill="url(#q64)" shape-rendering="crispEdges"/><rect x="190" y="393.3" width="3.5" height="9.7" fill="url(#q65)" shape-rendering="crispEdges"/><rect x="192.5" y="393.1" width="3.5" height="10.0" fill="url(#q66)" shape-rendering="crispEdges"/><rect x="195" y="393.0" width="3.5" height="10.3" fill="url(#q67)" shape-rendering="crispEdges"/><rect x="197.5" y="392.8" width="3.5" height="10.6" fill="url(#q68)" shape-rendering="crispEdges"/><rect x="200" y="392.6" width="3.5" height="10.9" fill="url(#q69)" shape-rendering="crispEdges"/><rect x="202.5" y="392.5" width="3.5" height="11.2" fill="url(#q70)" shape-rendering="crispEdges"/><rect x="205" y="392.3" width="3.5" height="11.5" fill="url(#q71)" shape-rendering="crispEdges"/><rect x="207.5" y="392.1" width="3.5" height="11.8" fill="url(#q72)" shape-rendering="crispEdges"/><rect x="210" y="391.7" width="3.5" height="12.5" fill="url(#q73)" shape-rendering="crispEdges"/><rect x="212.5" y="391.2" width="3.5" height="13.5" fill="url(#q74)" shape-rendering="crispEdges"/><rect x="215" y="390.6" width="3.5" height="14.6" fill="url(#q75)" shape-rendering="crispEdges"/><rect x="217.5" y="390.0" width="3.5" height="15.8" fill="url(#q76)" shape-rendering="crispEdges"/><rect x="220" y="389.4" width="3.5" height="17.0" fill="url(#q77)" shape-rendering="crispEdges"/><rect x="222.5" y="388.7" width="3.5" height="18.3" fill="url(#q78)" shape-rendering="crispEdges"/><rect x="225" y="388.0" width="3.5" height="19.8" fill="url(#q79)" shape-rendering="crispEdges"/><rect x="227.5" y="387.1" width="3.5" height="21.5" fill="url(#q80)" shape-rendering="crispEdges"/><rect x="230" y="386.1" width="3.5" height="23.4" fill="url(#q81)" shape-rendering="crispEdges"/><rect x="232.5" y="385.0" width="3.5" height="25.5" fill="url(#q82)" shape-rendering="crispEdges"/><rect x="235" y="384.1" width="3.5" height="27.3" fill="url(#q83)" shape-rendering="crispEdges"/><rect x="237.5" y="383.2" width="3.5" height="29.1" fill="url(#q84)" shape-rendering="crispEdges"/><rect x="240" y="382.2" width="3.5" height="31.0" fill="url(#q85)" shape-rendering="crispEdges"/><rect x="242.5" y="381.3" width="3.5" height="32.9" fill="url(#q86)" shape-rendering="crispEdges"/><rect x="245" y="380.3" width="3.5" height="34.8" fill="url(#q87)" shape-rendering="crispEdges"/><rect x="247.5" y="379.4" width="3.5" height="36.6" fill="url(#q88)" shape-rendering="crispEdges"/><rect x="250" y="378.4" width="3.5" height="38.4" fill="url(#q89)" shape-rendering="crispEdges"/><rect x="252.5" y="377.5" width="3.5" height="40.3" fill="url(#q90)" shape-rendering="crispEdges"/><rect x="255" y="376.5" width="3.5" height="42.1" fill="url(#q91)" shape-rendering="crispEdges"/><rect x="257.5" y="375.6" width="3.5" height="43.9" fill="url(#q92)" shape-rendering="crispEdges"/><rect x="260" y="374.8" width="3.5" height="45.5" fill="url(#q93)" shape-rendering="crispEdges"/><rect x="262.5" y="374.2" width="3.5" height="46.7" fill="url(#q94)" shape-rendering="crispEdges"/><rect x="265" y="373.5" width="3.5" height="47.9" fill="url(#q95)" shape-rendering="crispEdges"/><rect x="267.5" y="372.9" width="3.5" height="49.2" fill="url(#q96)" shape-rendering="crispEdges"/><rect x="270" y="372.2" width="3.5" height="50.4" fill="url(#q97)" shape-rendering="crispEdges"/><rect x="272.5" y="371.6" width="3.5" height="51.7" fill="url(#q98)" shape-rendering="crispEdges"/><rect x="275" y="370.9" width="3.5" height="53.0" fill="url(#q99)" shape-rendering="crispEdges"/><rect x="277.5" y="370.3" width="3.5" height="54.3" fill="url(#q100)" shape-rendering="crispEdges"/><rect x="280" y="369.6" width="3.5" height="55.6" fill="url(#q101)" shape-rendering="crispEdges"/><rect x="282.5" y="368.8" width="3.5" height="57.0" fill="url(#q102)" shape-rendering="crispEdges"/><rect x="285" y="368.1" width="3.5" height="58.4" fill="url(#q103)" shape-rendering="crispEdges"/><rect x="287.5" y="367.4" width="3.5" height="59.9" fill="url(#q104)" shape-rendering="crispEdges"/><rect x="290" y="366.6" width="3.5" height="61.3" fill="url(#q105)" shape-rendering="crispEdges"/><rect x="292.5" y="365.8" width="3.5" height="62.9" fill="url(#q106)" shape-rendering="crispEdges"/><rect x="295" y="365.3" width="3.5" height="63.8" fill="url(#q107)" shape-rendering="crispEdges"/><rect x="297.5" y="365.1" width="3.5" height="64.2" fill="url(#q108)" shape-rendering="crispEdges"/><rect x="300" y="364.9" width="3.5" height="64.6" fill="url(#q109)" shape-rendering="crispEdges"/><rect x="302.5" y="364.6" width="3.5" height="65.2" fill="url(#q110)" shape-rendering="crispEdges"/><rect x="305" y="364.1" width="3.5" height="66.0" fill="url(#q111)" shape-rendering="crispEdges"/><rect x="307.5" y="363.4" width="3.5" height="67.3" fill="url(#q112)" shape-rendering="crispEdges"/><rect x="310" y="362.6" width="3.5" height="69.0" fill="url(#q113)" shape-rendering="crispEdges"/><rect x="312.5" y="361.4" width="3.5" height="71.2" fill="url(#q114)" shape-rendering="crispEdges"/><rect x="315" y="361.2" width="3.5" height="71.5" fill="url(#q115)" shape-rendering="crispEdges"/><rect x="317.5" y="361.2" width="3.5" height="71.5" fill="url(#q116)" shape-rendering="crispEdges"/><rect x="320" y="361.2" width="3.5" height="71.5" fill="url(#q117)" shape-rendering="crispEdges"/></g></g>
<g clip-path="url(#cb)"><g filter="url(#jet)"><rect x="30" y="435" width="290.2" height="92.8" fill="rgb(4,4,4)"/><rect x="30" y="439.3" width="3.5" height="77.3" fill="url(#q118)" shape-rendering="crispEdges"/><rect x="32.5" y="439.3" width="3.5" height="77.3" fill="url(#q119)" shape-rendering="crispEdges"/><rect x="35" y="439.4" width="3.5" height="77.2" fill="url(#q120)" shape-rendering="crispEdges"/><rect x="37.5" y="440.2" width="3.5" height="75.7" fill="url(#q121)" shape-rendering="crispEdges"/><rect x="40" y="440.9" width="3.5" height="74.3" fill="url(#q122)" shape-rendering="crispEdges"/><rect x="42.5" y="441.6" width="3.5" height="72.9" fill="url(#q123)" shape-rendering="crispEdges"/><rect x="45" y="442.4" width="3.5" height="71.5" fill="url(#q124)" shape-rendering="crispEdges"/><rect x="47.5" y="443.1" width="3.5" height="70.0" fill="url(#q125)" shape-rendering="crispEdges"/><rect x="50" y="443.8" width="3.5" height="68.6" fill="url(#q126)" shape-rendering="crispEdges"/><rect x="52.5" y="444.6" width="3.5" height="67.2" fill="url(#q127)" shape-rendering="crispEdges"/><rect x="55" y="445.3" width="3.5" height="65.8" fill="url(#q128)" shape-rendering="crispEdges"/><rect x="57.5" y="446.0" width="3.5" height="64.4" fill="url(#q129)" shape-rendering="crispEdges"/><rect x="60" y="446.8" width="3.5" height="63.0" fill="url(#q130)" shape-rendering="crispEdges"/><rect x="62.5" y="447.5" width="3.5" height="61.5" fill="url(#q131)" shape-rendering="crispEdges"/><rect x="65" y="448.2" width="3.5" height="60.1" fill="url(#q132)" shape-rendering="crispEdges"/><rect x="67.5" y="448.9" width="3.5" height="58.7" fill="url(#q133)" shape-rendering="crispEdges"/><rect x="70" y="449.7" width="3.5" height="57.3" fill="url(#q134)" shape-rendering="crispEdges"/><rect x="72.5" y="450.5" width="3.5" height="55.8" fill="url(#q135)" shape-rendering="crispEdges"/><rect x="75" y="451.2" width="3.5" height="54.3" fill="url(#q136)" shape-rendering="crispEdges"/><rect x="77.5" y="452.0" width="3.5" height="52.8" fill="url(#q137)" shape-rendering="crispEdges"/><rect x="80" y="452.8" width="3.5" height="51.3" fill="url(#q138)" shape-rendering="crispEdges"/><rect x="82.5" y="453.5" width="3.5" height="49.8" fill="url(#q139)" shape-rendering="crispEdges"/><rect x="85" y="454.3" width="3.5" height="48.4" fill="url(#q140)" shape-rendering="crispEdges"/><rect x="87.5" y="455.0" width="3.5" height="46.9" fill="url(#q141)" shape-rendering="crispEdges"/><rect x="90" y="455.8" width="3.5" height="45.5" fill="url(#q142)" shape-rendering="crispEdges"/><rect x="92.5" y="456.5" width="3.5" height="44.1" fill="url(#q143)" shape-rendering="crispEdges"/><rect x="95" y="457.3" width="3.5" height="42.6" fill="url(#q144)" shape-rendering="crispEdges"/><rect x="97.5" y="458.0" width="3.5" height="41.2" fill="url(#q145)" shape-rendering="crispEdges"/><rect x="100" y="458.7" width="3.5" height="39.8" fill="url(#q146)" shape-rendering="crispEdges"/><rect x="102.5" y="459.4" width="3.5" height="38.4" fill="url(#q147)" shape-rendering="crispEdges"/><rect x="105" y="460.1" width="3.5" height="37.1" fill="url(#q148)" shape-rendering="crispEdges"/><rect x="107.5" y="460.8" width="3.5" height="35.7" fill="url(#q149)" shape-rendering="crispEdges"/><rect x="110" y="461.5" width="3.5" height="34.4" fill="url(#q150)" shape-rendering="crispEdges"/><rect x="112.5" y="462.2" width="3.5" height="33.2" fill="url(#q151)" shape-rendering="crispEdges"/><rect x="115" y="462.8" width="3.5" height="31.9" fill="url(#q152)" shape-rendering="crispEdges"/><rect x="117.5" y="463.5" width="3.5" height="30.6" fill="url(#q153)" shape-rendering="crispEdges"/><rect x="120" y="464.1" width="3.5" height="29.4" fill="url(#q154)" shape-rendering="crispEdges"/><rect x="122.5" y="464.7" width="3.5" height="28.2" fill="url(#q155)" shape-rendering="crispEdges"/><rect x="125" y="465.4" width="3.5" height="27.0" fill="url(#q156)" shape-rendering="crispEdges"/><rect x="127.5" y="466.0" width="3.5" height="25.8" fill="url(#q157)" shape-rendering="crispEdges"/><rect x="130" y="466.6" width="3.5" height="24.7" fill="url(#q158)" shape-rendering="crispEdges"/><rect x="132.5" y="467.2" width="3.5" height="23.5" fill="url(#q159)" shape-rendering="crispEdges"/><rect x="135" y="467.8" width="3.5" height="22.4" fill="url(#q160)" shape-rendering="crispEdges"/><rect x="137.5" y="468.4" width="3.5" height="21.3" fill="url(#q161)" shape-rendering="crispEdges"/><rect x="140" y="468.7" width="3.5" height="20.5" fill="url(#q162)" shape-rendering="crispEdges"/><rect x="142.5" y="468.9" width="3.5" height="20.2" fill="url(#q163)" shape-rendering="crispEdges"/><rect x="145" y="469.2" width="3.5" height="19.8" fill="url(#q164)" shape-rendering="crispEdges"/><rect x="147.5" y="469.4" width="3.5" height="19.4" fill="url(#q165)" shape-rendering="crispEdges"/><rect x="150" y="469.6" width="3.5" height="19.0" fill="url(#q166)" shape-rendering="crispEdges"/><rect x="152.5" y="469.8" width="3.5" height="18.7" fill="url(#q167)" shape-rendering="crispEdges"/><rect x="155" y="470.0" width="3.5" height="18.3" fill="url(#q168)" shape-rendering="crispEdges"/><rect x="157.5" y="470.2" width="3.5" height="18.0" fill="url(#q169)" shape-rendering="crispEdges"/><rect x="160" y="470.4" width="3.5" height="17.7" fill="url(#q170)" shape-rendering="crispEdges"/><rect x="162.5" y="470.6" width="3.5" height="17.3" fill="url(#q171)" shape-rendering="crispEdges"/><rect x="165" y="470.8" width="3.5" height="17.0" fill="url(#q172)" shape-rendering="crispEdges"/><rect x="167.5" y="471.0" width="3.5" height="16.8" fill="url(#q173)" shape-rendering="crispEdges"/><rect x="170" y="471.2" width="3.5" height="16.5" fill="url(#q174)" shape-rendering="crispEdges"/><rect x="172.5" y="471.3" width="3.5" height="16.2" fill="url(#q175)" shape-rendering="crispEdges"/><rect x="175" y="471.5" width="3.5" height="15.9" fill="url(#q176)" shape-rendering="crispEdges"/><rect x="177.5" y="471.7" width="3.5" height="15.7" fill="url(#q177)" shape-rendering="crispEdges"/><rect x="180" y="471.8" width="3.5" height="15.4" fill="url(#q178)" shape-rendering="crispEdges"/><rect x="182.5" y="472.0" width="3.5" height="15.2" fill="url(#q179)" shape-rendering="crispEdges"/><rect x="185" y="472.1" width="3.5" height="14.9" fill="url(#q180)" shape-rendering="crispEdges"/><rect x="187.5" y="471.9" width="3.5" height="15.4" fill="url(#q181)" shape-rendering="crispEdges"/><rect x="190" y="471.5" width="3.5" height="16.2" fill="url(#q182)" shape-rendering="crispEdges"/><rect x="192.5" y="471.2" width="3.5" height="17.1" fill="url(#q183)" shape-rendering="crispEdges"/><rect x="195" y="470.8" width="3.5" height="17.9" fill="url(#q184)" shape-rendering="crispEdges"/><rect x="197.5" y="470.4" width="3.5" height="18.8" fill="url(#q185)" shape-rendering="crispEdges"/><rect x="200" y="470.0" width="3.5" height="19.7" fill="url(#q186)" shape-rendering="crispEdges"/><rect x="202.5" y="469.5" width="3.5" height="20.5" fill="url(#q187)" shape-rendering="crispEdges"/><rect x="205" y="469.1" width="3.5" height="21.4" fill="url(#q188)" shape-rendering="crispEdges"/><rect x="207.5" y="468.7" width="3.5" height="22.3" fill="url(#q189)" shape-rendering="crispEdges"/><rect x="210" y="468.2" width="3.5" height="23.4" fill="url(#q190)" shape-rendering="crispEdges"/><rect x="212.5" y="467.5" width="3.5" height="24.8" fill="url(#q191)" shape-rendering="crispEdges"/><rect x="215" y="466.9" width="3.5" height="26.2" fill="url(#q192)" shape-rendering="crispEdges"/><rect x="217.5" y="466.2" width="3.5" height="27.6" fill="url(#q193)" shape-rendering="crispEdges"/><rect x="220" y="465.5" width="3.5" height="29.1" fill="url(#q194)" shape-rendering="crispEdges"/><rect x="222.5" y="464.6" width="3.5" height="30.9" fill="url(#q195)" shape-rendering="crispEdges"/><rect x="225" y="463.8" width="3.5" height="32.7" fill="url(#q196)" shape-rendering="crispEdges"/><rect x="227.5" y="462.9" width="3.5" height="34.5" fill="url(#q197)" shape-rendering="crispEdges"/><rect x="230" y="462.0" width="3.5" height="36.3" fill="url(#q198)" shape-rendering="crispEdges"/><rect x="232.5" y="461.1" width="3.5" height="38.1" fill="url(#q199)" shape-rendering="crispEdges"/><rect x="235" y="460.3" width="3.5" height="39.8" fill="url(#q200)" shape-rendering="crispEdges"/><rect x="237.5" y="459.5" width="3.5" height="41.6" fill="url(#q201)" shape-rendering="crispEdges"/><rect x="240" y="458.6" width="3.5" height="43.3" fill="url(#q202)" shape-rendering="crispEdges"/><rect x="242.5" y="457.8" width="3.5" height="45.1" fill="url(#q203)" shape-rendering="crispEdges"/><rect x="245" y="456.9" width="3.5" height="46.9" fill="url(#q204)" shape-rendering="crispEdges"/><rect x="247.5" y="456.0" width="3.5" height="48.7" fill="url(#q205)" shape-rendering="crispEdges"/><rect x="250" y="455.2" width="3.5" height="50.4" fill="url(#q206)" shape-rendering="crispEdges"/><rect x="252.5" y="454.4" width="3.5" height="52.0" fill="url(#q207)" shape-rendering="crispEdges"/><rect x="255" y="453.6" width="3.5" height="53.7" fill="url(#q208)" shape-rendering="crispEdges"/><rect x="257.5" y="452.8" width="3.5" height="55.4" fill="url(#q209)" shape-rendering="crispEdges"/><rect x="260" y="452.1" width="3.5" height="56.9" fill="url(#q210)" shape-rendering="crispEdges"/><rect x="262.5" y="451.4" width="3.5" height="58.4" fill="url(#q211)" shape-rendering="crispEdges"/><rect x="265" y="450.7" width="3.5" height="59.9" fill="url(#q212)" shape-rendering="crispEdges"/><rect x="267.5" y="449.9" width="3.5" height="61.4" fill="url(#q213)" shape-rendering="crispEdges"/><rect x="270" y="449.2" width="3.5" height="62.9" fill="url(#q214)" shape-rendering="crispEdges"/><rect x="272.5" y="448.5" width="3.5" height="64.5" fill="url(#q215)" shape-rendering="crispEdges"/><rect x="275" y="447.7" width="3.5" height="66.0" fill="url(#q216)" shape-rendering="crispEdges"/><rect x="277.5" y="447.0" width="3.5" height="67.6" fill="url(#q217)" shape-rendering="crispEdges"/><rect x="280" y="446.2" width="3.5" height="69.2" fill="url(#q218)" shape-rendering="crispEdges"/><rect x="282.5" y="445.4" width="3.5" height="70.8" fill="url(#q219)" shape-rendering="crispEdges"/><rect x="285" y="444.7" width="3.5" height="72.4" fill="url(#q220)" shape-rendering="crispEdges"/><rect x="287.5" y="443.9" width="3.5" height="74.0" fill="url(#q221)" shape-rendering="crispEdges"/><rect x="290" y="443.1" width="3.5" height="75.6" fill="url(#q222)" shape-rendering="crispEdges"/><rect x="292.5" y="442.4" width="3.5" height="77.2" fill="url(#q223)" shape-rendering="crispEdges"/><rect x="295" y="441.6" width="3.5" height="78.8" fill="url(#q224)" shape-rendering="crispEdges"/><rect x="297.5" y="440.8" width="3.5" height="80.4" fill="url(#q225)" shape-rendering="crispEdges"/><rect x="300" y="440.1" width="3.5" height="82.0" fill="url(#q226)" shape-rendering="crispEdges"/><rect x="302.5" y="439.4" width="3.5" height="83.4" fill="url(#q227)" shape-rendering="crispEdges"/><rect x="305" y="438.6" width="3.5" height="84.9" fill="url(#q228)" shape-rendering="crispEdges"/><rect x="307.5" y="437.9" width="3.5" height="86.4" fill="url(#q229)" shape-rendering="crispEdges"/><rect x="310" y="437.2" width="3.5" height="87.9" fill="url(#q230)" shape-rendering="crispEdges"/><rect x="312.5" y="436.5" width="3.5" height="89.4" fill="url(#q231)" shape-rendering="crispEdges"/><rect x="315" y="436.4" width="3.5" height="89.6" fill="url(#q232)" shape-rendering="crispEdges"/><rect x="317.5" y="436.4" width="3.5" height="89.6" fill="url(#q233)" shape-rendering="crispEdges"/><rect x="320" y="436.4" width="3.5" height="89.6" fill="url(#q234)" shape-rendering="crispEdges"/></g></g>
<g clip-path="url(#cs1)"><g filter="url(#jet)"><rect x="310" y="352.6" width="93.6" height="92.4" fill="rgb(4,4,4)"/><path d="M364.89,398.2 L364.8,399.23 L364.53,400.76 L364.08,402.51 L363.48,404.36 L362.74,406.21 L361.9,407.98 L360.98,409.6 L360.01,411.02 L359.05,412.17 L358.13,413.03 L357.34,413.55 L356.8,413.73 L356.26,413.55 L355.47,413.03 L354.55,412.17 L353.59,411.02 L352.62,409.6 L351.7,407.98 L350.86,406.21 L350.12,404.36 L349.52,402.51 L349.07,400.76 L348.8,399.23 L348.71,398.2 L348.8,397.17 L349.07,395.64 L349.52,393.89 L350.12,392.04 L350.86,390.19 L351.7,388.42 L352.62,386.8 L353.59,385.38 L354.55,384.23 L355.47,383.37 L356.26,382.85 L356.8,382.67 L357.34,382.85 L358.13,383.37 L359.05,384.23 L360.01,385.38 L360.98,386.8 L361.9,388.42 L362.74,390.19 L363.48,392.04 L364.08,393.89 L364.53,395.64 L364.8,397.17Z" fill="rgb(8,8,8)"/><path d="M364.21,398.2 L364.13,399.14 L363.88,400.55 L363.47,402.15 L362.92,403.84 L362.24,405.54 L361.47,407.16 L360.62,408.64 L359.74,409.94 L358.86,410.99 L358.02,411.78 L357.29,412.26 L356.8,412.42 L356.31,412.26 L355.58,411.78 L354.74,410.99 L353.86,409.94 L352.98,408.64 L352.13,407.16 L351.36,405.54 L350.68,403.84 L350.13,402.15 L349.72,400.55 L349.47,399.14 L349.39,398.2 L349.47,397.26 L349.72,395.85 L350.13,394.25 L350.68,392.56 L351.36,390.86 L352.13,389.24 L352.98,387.76 L353.86,386.46 L354.74,385.41 L355.58,384.62 L356.31,384.14 L356.8,383.98 L357.29,384.14 L358.02,384.62 L358.86,385.41 L359.74,386.46 L360.62,387.76 L361.47,389.24 L362.24,390.86 L362.92,392.56 L363.47,394.25 L363.88,395.85 L364.13,397.26Z" fill="rgb(15,15,15)"/><path d="M363.64,398.2 L363.56,399.07 L363.33,400.36 L362.96,401.85 L362.45,403.41 L361.82,404.97 L361.11,406.47 L360.33,407.84 L359.51,409.03 L358.7,410.01 L357.93,410.73 L357.25,411.17 L356.8,411.32 L356.35,411.17 L355.67,410.73 L354.9,410.01 L354.09,409.03 L353.27,407.84 L352.49,406.47 L351.78,404.97 L351.15,403.41 L350.64,401.85 L350.27,400.36 L350.04,399.07 L349.96,398.2 L350.04,397.33 L350.27,396.04 L350.64,394.55 L351.15,392.99 L351.78,391.43 L352.49,389.93 L353.27,388.56 L354.09,387.37 L354.9,386.39 L355.67,385.67 L356.35,385.23 L356.8,385.08 L357.25,385.23 L357.93,385.67 L358.7,386.39 L359.51,387.37 L360.33,388.56 L361.11,389.93 L361.82,391.43 L362.45,392.99 L362.96,394.55 L363.33,396.04 L363.56,397.33Z" fill="rgb(26,26,26)"/><path d="M363.13,398.2 L363.06,399 L362.84,400.2 L362.5,401.57 L362.03,403.02 L361.45,404.47 L360.79,405.85 L360.07,407.12 L359.31,408.22 L358.56,409.13 L357.84,409.8 L357.22,410.21 L356.8,410.34 L356.38,410.21 L355.76,409.8 L355.04,409.13 L354.29,408.22 L353.53,407.12 L352.81,405.85 L352.15,404.47 L351.57,403.02 L351.1,401.57 L350.76,400.2 L350.54,399 L350.47,398.2 L350.54,397.4 L350.76,396.2 L351.1,394.83 L351.57,393.38 L352.15,391.93 L352.81,390.55 L353.53,389.28 L354.29,388.18 L355.04,387.27 L355.76,386.6 L356.38,386.19 L356.8,386.06 L357.22,386.19 L357.84,386.6 L358.56,387.27 L359.31,388.18 L360.07,389.28 L360.79,390.55 L361.45,391.93 L362.03,393.38 L362.5,394.83 L362.84,396.2 L363.06,397.4Z" fill="rgb(38,38,38)"/><path d="M362.73,398.2 L362.66,398.95 L362.46,400.08 L362.13,401.36 L361.69,402.71 L361.15,404.07 L360.53,405.36 L359.86,406.55 L359.15,407.59 L358.45,408.43 L357.78,409.06 L357.19,409.44 L356.8,409.57 L356.41,409.44 L355.82,409.06 L355.15,408.43 L354.45,407.59 L353.74,406.55 L353.07,405.36 L352.45,404.07 L351.91,402.71 L351.47,401.36 L351.14,400.08 L350.94,398.95 L350.87,398.2 L350.94,397.45 L351.14,396.32 L351.47,395.04 L351.91,393.69 L352.45,392.33 L353.07,391.04 L353.74,389.85 L354.45,388.81 L355.15,387.97 L355.82,387.34 L356.41,386.96 L356.8,386.83 L357.19,386.96 L357.78,387.34 L358.45,387.97 L359.15,388.81 L359.86,389.85 L360.53,391.04 L361.15,392.33 L361.69,393.69 L362.13,395.04 L362.46,396.32 L362.66,397.45Z" fill="rgb(51,51,51)"/><path d="M362.32,398.2 L362.26,398.9 L362.07,399.95 L361.77,401.14 L361.36,402.4 L360.85,403.66 L360.28,404.87 L359.65,405.98 L358.99,406.94 L358.33,407.73 L357.71,408.31 L357.17,408.67 L356.8,408.79 L356.43,408.67 L355.89,408.31 L355.27,407.73 L354.61,406.94 L353.95,405.98 L353.32,404.87 L352.75,403.66 L352.24,402.4 L351.83,401.14 L351.53,399.95 L351.34,398.9 L351.28,398.2 L351.34,397.5 L351.53,396.45 L351.83,395.26 L352.24,394 L352.75,392.74 L353.32,391.53 L353.95,390.42 L354.61,389.46 L355.27,388.67 L355.89,388.09 L356.43,387.73 L356.8,387.61 L357.17,387.73 L357.71,388.09 L358.33,388.67 L358.99,389.46 L359.65,390.42 L360.28,391.53 L360.85,392.74 L361.36,394 L361.77,395.26 L362.07,396.45 L362.26,397.5Z" fill="rgb(66,66,66)"/><path d="M361.96,398.2 L361.9,398.86 L361.73,399.83 L361.45,400.95 L361.06,402.13 L360.59,403.31 L360.05,404.44 L359.46,405.47 L358.85,406.38 L358.23,407.11 L357.65,407.66 L357.14,407.99 L356.8,408.1 L356.46,407.99 L355.95,407.66 L355.37,407.11 L354.75,406.38 L354.14,405.47 L353.55,404.44 L353.01,403.31 L352.54,402.13 L352.15,400.95 L351.87,399.83 L351.7,398.86 L351.64,398.2 L351.7,397.54 L351.87,396.57 L352.15,395.45 L352.54,394.27 L353.01,393.09 L353.55,391.96 L354.14,390.93 L354.75,390.02 L355.37,389.29 L355.95,388.74 L356.46,388.41 L356.8,388.3 L357.14,388.41 L357.65,388.74 L358.23,389.29 L358.85,390.02 L359.46,390.93 L360.05,391.96 L360.59,393.09 L361.06,394.27 L361.45,395.45 L361.73,396.57 L361.9,397.54Z" fill="rgb(82,82,82)"/><path d="M361.64,398.2 L361.58,398.81 L361.42,399.73 L361.15,400.78 L360.79,401.88 L360.35,402.99 L359.85,404.04 L359.29,405.01 L358.72,405.86 L358.14,406.55 L357.6,407.06 L357.12,407.37 L356.8,407.48 L356.48,407.37 L356,407.06 L355.46,406.55 L354.88,405.86 L354.31,405.01 L353.75,404.04 L353.25,402.99 L352.81,401.88 L352.45,400.78 L352.18,399.73 L352.02,398.81 L351.96,398.2 L352.02,397.59 L352.18,396.67 L352.45,395.62 L352.81,394.52 L353.25,393.41 L353.75,392.36 L354.31,391.39 L354.88,390.54 L355.46,389.85 L356,389.34 L356.48,389.03 L356.8,388.92 L357.12,389.03 L357.6,389.34 L358.14,389.85 L358.72,390.54 L359.29,391.39 L359.85,392.36 L360.35,393.41 L360.79,394.52 L361.15,395.62 L361.42,396.67 L361.58,397.59Z" fill="rgb(97,97,97)"/><path d="M361.28,398.2 L361.23,398.77 L361.08,399.62 L360.83,400.59 L360.5,401.61 L360.09,402.63 L359.62,403.61 L359.11,404.51 L358.58,405.29 L358.04,405.93 L357.54,406.4 L357.1,406.69 L356.8,406.79 L356.5,406.69 L356.06,406.4 L355.56,405.93 L355.02,405.29 L354.49,404.51 L353.98,403.61 L353.51,402.63 L353.1,401.61 L352.77,400.59 L352.52,399.62 L352.37,398.77 L352.32,398.2 L352.37,397.63 L352.52,396.78 L352.77,395.81 L353.1,394.79 L353.51,393.77 L353.98,392.79 L354.49,391.89 L355.02,391.11 L355.56,390.47 L356.06,390 L356.5,389.71 L356.8,389.61 L357.1,389.71 L357.54,390 L358.04,390.47 L358.58,391.11 L359.11,391.89 L359.62,392.79 L360.09,393.77 L360.5,394.79 L360.83,395.81 L361.08,396.78 L361.23,397.63Z" fill="rgb(115,115,115)"/><path d="M360.93,398.2 L360.89,398.73 L360.75,399.51 L360.52,400.4 L360.21,401.35 L359.84,402.29 L359.4,403.2 L358.93,404.02 L358.44,404.75 L357.95,405.34 L357.48,405.77 L357.07,406.04 L356.8,406.13 L356.53,406.04 L356.12,405.77 L355.65,405.34 L355.16,404.75 L354.67,404.02 L354.2,403.2 L353.76,402.29 L353.39,401.35 L353.08,400.4 L352.85,399.51 L352.71,398.73 L352.67,398.2 L352.71,397.67 L352.85,396.89 L353.08,396 L353.39,395.05 L353.76,394.11 L354.2,393.2 L354.67,392.38 L355.16,391.65 L355.65,391.06 L356.12,390.63 L356.53,390.36 L356.8,390.27 L357.07,390.36 L357.48,390.63 L357.95,391.06 L358.44,391.65 L358.93,392.38 L359.4,393.2 L359.84,394.11 L360.21,395.05 L360.52,396 L360.75,396.89 L360.89,397.67Z" fill="rgb(133,133,133)"/><path d="M360.55,398.2 L360.5,398.68 L360.38,399.39 L360.17,400.2 L359.89,401.05 L359.55,401.91 L359.16,402.73 L358.73,403.48 L358.29,404.13 L357.84,404.67 L357.42,405.06 L357.05,405.3 L356.8,405.39 L356.55,405.3 L356.18,405.06 L355.76,404.67 L355.31,404.13 L354.87,403.48 L354.44,402.73 L354.05,401.91 L353.71,401.05 L353.43,400.2 L353.22,399.39 L353.1,398.68 L353.05,398.2 L353.1,397.72 L353.22,397.01 L353.43,396.2 L353.71,395.35 L354.05,394.49 L354.44,393.67 L354.87,392.92 L355.31,392.27 L355.76,391.73 L356.18,391.34 L356.55,391.1 L356.8,391.01 L357.05,391.1 L357.42,391.34 L357.84,391.73 L358.29,392.27 L358.73,392.92 L359.16,393.67 L359.55,394.49 L359.89,395.35 L360.17,396.2 L360.38,397.01 L360.5,397.72Z" fill="rgb(153,153,153)"/><path d="M360.15,398.2 L360.11,398.63 L360,399.26 L359.81,399.98 L359.56,400.75 L359.26,401.51 L358.91,402.25 L358.53,402.92 L358.13,403.5 L357.73,403.98 L357.35,404.33 L357.02,404.55 L356.8,404.62 L356.58,404.55 L356.25,404.33 L355.87,403.98 L355.47,403.5 L355.07,402.92 L354.69,402.25 L354.34,401.51 L354.04,400.75 L353.79,399.98 L353.6,399.26 L353.49,398.63 L353.45,398.2 L353.49,397.77 L353.6,397.14 L353.79,396.42 L354.04,395.65 L354.34,394.89 L354.69,394.15 L355.07,393.48 L355.47,392.9 L355.87,392.42 L356.25,392.07 L356.58,391.85 L356.8,391.78 L357.02,391.85 L357.35,392.07 L357.73,392.42 L358.13,392.9 L358.53,393.48 L358.91,394.15 L359.26,394.89 L359.56,395.65 L359.81,396.42 L360,397.14 L360.11,397.77Z" fill="rgb(173,173,173)"/><path d="M359.72,398.2 L359.69,398.57 L359.59,399.12 L359.43,399.76 L359.21,400.42 L358.95,401.09 L358.64,401.73 L358.31,402.32 L357.96,402.83 L357.61,403.24 L357.28,403.55 L356.99,403.74 L356.8,403.8 L356.61,403.74 L356.32,403.55 L355.99,403.24 L355.64,402.83 L355.29,402.32 L354.96,401.73 L354.65,401.09 L354.39,400.42 L354.17,399.76 L354.01,399.12 L353.91,398.57 L353.88,398.2 L353.91,397.83 L354.01,397.28 L354.17,396.64 L354.39,395.98 L354.65,395.31 L354.96,394.67 L355.29,394.08 L355.64,393.57 L355.99,393.16 L356.32,392.85 L356.61,392.66 L356.8,392.6 L356.99,392.66 L357.28,392.85 L357.61,393.16 L357.96,393.57 L358.31,394.08 L358.64,394.67 L358.95,395.31 L359.21,395.98 L359.43,396.64 L359.59,397.28 L359.69,397.83Z" fill="rgb(194,194,194)"/><path d="M359.24,398.2 L359.21,398.51 L359.13,398.97 L358.99,399.5 L358.81,400.05 L358.59,400.61 L358.33,401.14 L358.06,401.63 L357.77,402.06 L357.48,402.41 L357.2,402.66 L356.96,402.82 L356.8,402.87 L356.64,402.82 L356.4,402.66 L356.12,402.41 L355.83,402.06 L355.54,401.63 L355.27,401.14 L355.01,400.61 L354.79,400.05 L354.61,399.5 L354.47,398.97 L354.39,398.51 L354.36,398.2 L354.39,397.89 L354.47,397.43 L354.61,396.9 L354.79,396.35 L355.01,395.79 L355.27,395.26 L355.54,394.77 L355.83,394.34 L356.12,393.99 L356.4,393.74 L356.64,393.58 L356.8,393.53 L356.96,393.58 L357.2,393.74 L357.48,393.99 L357.77,394.34 L358.06,394.77 L358.33,395.26 L358.59,395.79 L358.81,396.35 L358.99,396.9 L359.13,397.43 L359.21,397.89Z" fill="rgb(214,214,214)"/><path d="M358.79,398.2 L358.77,398.45 L358.7,398.83 L358.59,399.26 L358.44,399.72 L358.26,400.17 L358.05,400.61 L357.83,401.01 L357.59,401.35 L357.35,401.64 L357.13,401.85 L356.93,401.98 L356.8,402.02 L356.67,401.98 L356.47,401.85 L356.25,401.64 L356.01,401.35 L355.77,401.01 L355.55,400.61 L355.34,400.17 L355.16,399.72 L355.01,399.26 L354.9,398.83 L354.83,398.45 L354.81,398.2 L354.83,397.95 L354.9,397.57 L355.01,397.14 L355.16,396.68 L355.34,396.23 L355.55,395.79 L355.77,395.39 L356.01,395.05 L356.25,394.76 L356.47,394.55 L356.67,394.42 L356.8,394.38 L356.93,394.42 L357.13,394.55 L357.35,394.76 L357.59,395.05 L357.83,395.39 L358.05,395.79 L358.26,396.23 L358.44,396.68 L358.59,397.14 L358.7,397.57 L358.77,397.95Z" fill="rgb(230,230,230)"/><path d="M358.29,398.2 L358.28,398.39 L358.23,398.67 L358.14,399 L358.03,399.34 L357.9,399.68 L357.74,400 L357.57,400.3 L357.39,400.57 L357.21,400.78 L357.05,400.94 L356.9,401.03 L356.8,401.07 L356.7,401.03 L356.55,400.94 L356.39,400.78 L356.21,400.57 L356.03,400.3 L355.86,400 L355.7,399.68 L355.57,399.34 L355.46,399 L355.37,398.67 L355.32,398.39 L355.31,398.2 L355.32,398.01 L355.37,397.73 L355.46,397.4 L355.57,397.06 L355.7,396.72 L355.86,396.4 L356.03,396.1 L356.21,395.83 L356.39,395.62 L356.55,395.46 L356.7,395.37 L356.8,395.33 L356.9,395.37 L357.05,395.46 L357.21,395.62 L357.39,395.83 L357.57,396.1 L357.74,396.4 L357.9,396.72 L358.03,397.06 L358.14,397.4 L358.23,397.73 L358.28,398.01Z" fill="rgb(242,242,242)"/></g></g>
<g clip-path="url(#cs2)"><g filter="url(#jet)"><rect x="310" y="435" width="93.6" height="92.8" fill="rgb(4,4,4)"/><path d="M365.08,481.1 L365,482.52 L364.77,484.14 L364.38,485.79 L363.86,487.41 L363.2,488.95 L362.44,490.37 L361.57,491.64 L360.63,492.72 L359.65,493.58 L358.64,494.22 L357.66,494.6 L356.8,494.73 L355.94,494.6 L354.96,494.22 L353.95,493.58 L352.97,492.72 L352.03,491.64 L351.16,490.37 L350.4,488.95 L349.74,487.41 L349.22,485.79 L348.83,484.14 L348.6,482.52 L348.52,481.1 L348.6,479.68 L348.83,478.06 L349.22,476.41 L349.74,474.79 L350.4,473.25 L351.16,471.83 L352.03,470.56 L352.97,469.48 L353.95,468.62 L354.96,467.98 L355.94,467.6 L356.8,467.47 L357.66,467.6 L358.64,467.98 L359.65,468.62 L360.63,469.48 L361.57,470.56 L362.44,471.83 L363.2,473.25 L363.86,474.79 L364.38,476.41 L364.77,478.06 L365,479.68Z" fill="rgb(8,8,8)"/><path d="M364.33,481.1 L364.25,482.39 L364.04,483.86 L363.69,485.36 L363.21,486.83 L362.62,488.24 L361.92,489.53 L361.14,490.68 L360.28,491.66 L359.39,492.44 L358.48,493.02 L357.58,493.37 L356.8,493.49 L356.02,493.37 L355.12,493.02 L354.21,492.44 L353.32,491.66 L352.46,490.68 L351.68,489.53 L350.98,488.24 L350.39,486.83 L349.91,485.36 L349.56,483.86 L349.35,482.39 L349.27,481.1 L349.35,479.81 L349.56,478.34 L349.91,476.84 L350.39,475.37 L350.98,473.96 L351.68,472.67 L352.46,471.52 L353.32,470.54 L354.21,469.76 L355.12,469.18 L356.02,468.83 L356.8,468.71 L357.58,468.83 L358.48,469.18 L359.39,469.76 L360.28,470.54 L361.14,471.52 L361.92,472.67 L362.62,473.96 L363.21,475.37 L363.69,476.84 L364.04,478.34 L364.25,479.81Z" fill="rgb(15,15,15)"/><path d="M363.7,481.1 L363.63,482.28 L363.44,483.63 L363.12,485 L362.68,486.36 L362.13,487.64 L361.49,488.82 L360.77,489.88 L359.99,490.78 L359.17,491.5 L358.34,492.02 L357.52,492.35 L356.8,492.45 L356.08,492.35 L355.26,492.02 L354.43,491.5 L353.61,490.78 L352.83,489.88 L352.11,488.82 L351.47,487.64 L350.92,486.36 L350.48,485 L350.16,483.63 L349.97,482.28 L349.9,481.1 L349.97,479.92 L350.16,478.57 L350.48,477.2 L350.92,475.84 L351.47,474.56 L352.11,473.38 L352.83,472.32 L353.61,471.42 L354.43,470.7 L355.26,470.18 L356.08,469.85 L356.8,469.75 L357.52,469.85 L358.34,470.18 L359.17,470.7 L359.99,471.42 L360.77,472.32 L361.49,473.38 L362.13,474.56 L362.68,475.84 L363.12,477.2 L363.44,478.57 L363.63,479.92Z" fill="rgb(26,26,26)"/><path d="M363.14,481.1 L363.08,482.19 L362.9,483.42 L362.61,484.69 L362.2,485.93 L361.7,487.11 L361.11,488.2 L360.45,489.17 L359.74,489.99 L358.98,490.66 L358.21,491.14 L357.46,491.44 L356.8,491.54 L356.14,491.44 L355.39,491.14 L354.62,490.66 L353.86,489.99 L353.15,489.17 L352.49,488.2 L351.9,487.11 L351.4,485.93 L350.99,484.69 L350.7,483.42 L350.52,482.19 L350.46,481.1 L350.52,480.01 L350.7,478.78 L350.99,477.51 L351.4,476.27 L351.9,475.09 L352.49,474 L353.15,473.03 L353.86,472.21 L354.62,471.54 L355.39,471.06 L356.14,470.76 L356.8,470.66 L357.46,470.76 L358.21,471.06 L358.98,471.54 L359.74,472.21 L360.45,473.03 L361.11,474 L361.7,475.09 L362.2,476.27 L362.61,477.51 L362.9,478.78 L363.08,480.01Z" fill="rgb(38,38,38)"/><path d="M362.7,481.1 L362.65,482.11 L362.48,483.26 L362.21,484.44 L361.83,485.6 L361.36,486.7 L360.82,487.71 L360.2,488.61 L359.53,489.38 L358.83,490 L358.11,490.45 L357.41,490.72 L356.8,490.82 L356.19,490.72 L355.49,490.45 L354.77,490 L354.07,489.38 L353.4,488.61 L352.78,487.71 L352.24,486.7 L351.77,485.6 L351.39,484.44 L351.12,483.26 L350.95,482.11 L350.9,481.1 L350.95,480.09 L351.12,478.94 L351.39,477.76 L351.77,476.6 L352.24,475.5 L352.78,474.49 L353.4,473.59 L354.07,472.82 L354.77,472.2 L355.49,471.75 L356.19,471.48 L356.8,471.38 L357.41,471.48 L358.11,471.75 L358.83,472.2 L359.53,472.82 L360.2,473.59 L360.82,474.49 L361.36,475.5 L361.83,476.6 L362.21,477.76 L362.48,478.94 L362.65,480.09Z" fill="rgb(51,51,51)"/><path d="M362.26,481.1 L362.21,482.04 L362.06,483.1 L361.8,484.19 L361.46,485.26 L361.02,486.28 L360.52,487.22 L359.95,488.05 L359.33,488.76 L358.68,489.34 L358.02,489.75 L357.37,490.01 L356.8,490.09 L356.23,490.01 L355.58,489.75 L354.92,489.34 L354.27,488.76 L353.65,488.05 L353.08,487.22 L352.58,486.28 L352.14,485.26 L351.8,484.19 L351.54,483.1 L351.39,482.04 L351.34,481.1 L351.39,480.16 L351.54,479.1 L351.8,478.01 L352.14,476.94 L352.58,475.92 L353.08,474.98 L353.65,474.15 L354.27,473.44 L354.92,472.86 L355.58,472.45 L356.23,472.19 L356.8,472.11 L357.37,472.19 L358.02,472.45 L358.68,472.86 L359.33,473.44 L359.95,474.15 L360.52,474.98 L361.02,475.92 L361.46,476.94 L361.8,478.01 L362.06,479.1 L362.21,480.16Z" fill="rgb(66,66,66)"/><path d="M361.88,481.1 L361.83,481.97 L361.69,482.96 L361.45,483.98 L361.13,484.97 L360.73,485.92 L360.26,486.79 L359.73,487.57 L359.15,488.23 L358.55,488.76 L357.93,489.15 L357.33,489.38 L356.8,489.46 L356.27,489.38 L355.67,489.15 L355.05,488.76 L354.45,488.23 L353.87,487.57 L353.34,486.79 L352.87,485.92 L352.47,484.97 L352.15,483.98 L351.91,482.96 L351.77,481.97 L351.72,481.1 L351.77,480.23 L351.91,479.24 L352.15,478.22 L352.47,477.23 L352.87,476.28 L353.34,475.41 L353.87,474.63 L354.45,473.97 L355.05,473.44 L355.67,473.05 L356.27,472.82 L356.8,472.74 L357.33,472.82 L357.93,473.05 L358.55,473.44 L359.15,473.97 L359.73,474.63 L360.26,475.41 L360.73,476.28 L361.13,477.23 L361.45,478.22 L361.69,479.24 L361.83,480.23Z" fill="rgb(82,82,82)"/><path d="M361.53,481.1 L361.49,481.91 L361.35,482.83 L361.13,483.78 L360.83,484.71 L360.46,485.59 L360.02,486.4 L359.53,487.12 L358.99,487.74 L358.43,488.23 L357.85,488.59 L357.29,488.81 L356.8,488.89 L356.31,488.81 L355.75,488.59 L355.17,488.23 L354.61,487.74 L354.07,487.12 L353.58,486.4 L353.14,485.59 L352.77,484.71 L352.47,483.78 L352.25,482.83 L352.11,481.91 L352.07,481.1 L352.11,480.29 L352.25,479.37 L352.47,478.42 L352.77,477.49 L353.14,476.61 L353.58,475.8 L354.07,475.08 L354.61,474.46 L355.17,473.97 L355.75,473.61 L356.31,473.39 L356.8,473.31 L357.29,473.39 L357.85,473.61 L358.43,473.97 L358.99,474.46 L359.53,475.08 L360.02,475.8 L360.46,476.61 L360.83,477.49 L361.13,478.42 L361.35,479.37 L361.49,480.29Z" fill="rgb(97,97,97)"/><path d="M361.15,481.1 L361.11,481.85 L360.99,482.7 L360.79,483.56 L360.51,484.42 L360.17,485.23 L359.76,485.97 L359.31,486.64 L358.82,487.21 L358.3,487.66 L357.77,487.99 L357.25,488.2 L356.8,488.26 L356.35,488.2 L355.83,487.99 L355.3,487.66 L354.78,487.21 L354.29,486.64 L353.84,485.97 L353.43,485.23 L353.09,484.42 L352.81,483.56 L352.61,482.7 L352.49,481.85 L352.45,481.1 L352.49,480.35 L352.61,479.5 L352.81,478.64 L353.09,477.78 L353.43,476.97 L353.84,476.23 L354.29,475.56 L354.78,474.99 L355.3,474.54 L355.83,474.21 L356.35,474 L356.8,473.94 L357.25,474 L357.77,474.21 L358.3,474.54 L358.82,474.99 L359.31,475.56 L359.76,476.23 L360.17,476.97 L360.51,477.78 L360.79,478.64 L360.99,479.5 L361.11,480.35Z" fill="rgb(115,115,115)"/><path d="M360.79,481.1 L360.75,481.78 L360.64,482.56 L360.45,483.36 L360.2,484.14 L359.89,484.88 L359.52,485.57 L359.1,486.18 L358.65,486.7 L358.17,487.11 L357.69,487.42 L357.22,487.61 L356.8,487.67 L356.38,487.61 L355.91,487.42 L355.43,487.11 L354.95,486.7 L354.5,486.18 L354.08,485.57 L353.71,484.88 L353.4,484.14 L353.15,483.36 L352.96,482.56 L352.85,481.78 L352.81,481.1 L352.85,480.42 L352.96,479.64 L353.15,478.84 L353.4,478.06 L353.71,477.32 L354.08,476.63 L354.5,476.02 L354.95,475.5 L355.43,475.09 L355.91,474.78 L356.38,474.59 L356.8,474.53 L357.22,474.59 L357.69,474.78 L358.17,475.09 L358.65,475.5 L359.1,476.02 L359.52,476.63 L359.89,477.32 L360.2,478.06 L360.45,478.84 L360.64,479.64 L360.75,480.42Z" fill="rgb(133,133,133)"/><path d="M360.38,481.1 L360.35,481.71 L360.25,482.41 L360.08,483.13 L359.85,483.83 L359.57,484.5 L359.24,485.11 L358.86,485.66 L358.46,486.13 L358.03,486.5 L357.6,486.78 L357.17,486.94 L356.8,487 L356.43,486.94 L356,486.78 L355.57,486.5 L355.14,486.13 L354.74,485.66 L354.36,485.11 L354.03,484.5 L353.75,483.83 L353.52,483.13 L353.35,482.41 L353.25,481.71 L353.22,481.1 L353.25,480.49 L353.35,479.79 L353.52,479.07 L353.75,478.37 L354.03,477.7 L354.36,477.09 L354.74,476.54 L355.14,476.07 L355.57,475.7 L356,475.42 L356.43,475.26 L356.8,475.2 L357.17,475.26 L357.6,475.42 L358.03,475.7 L358.46,476.07 L358.86,476.54 L359.24,477.09 L359.57,477.7 L359.85,478.37 L360.08,479.07 L360.25,479.79 L360.35,480.49Z" fill="rgb(153,153,153)"/><path d="M359.97,481.1 L359.94,481.64 L359.85,482.26 L359.7,482.9 L359.5,483.52 L359.25,484.11 L358.96,484.65 L358.63,485.14 L358.27,485.55 L357.89,485.88 L357.51,486.12 L357.13,486.27 L356.8,486.32 L356.47,486.27 L356.09,486.12 L355.71,485.88 L355.33,485.55 L354.97,485.14 L354.64,484.65 L354.35,484.11 L354.1,483.52 L353.9,482.9 L353.75,482.26 L353.66,481.64 L353.63,481.1 L353.66,480.56 L353.75,479.94 L353.9,479.3 L354.1,478.68 L354.35,478.09 L354.64,477.55 L354.97,477.06 L355.33,476.65 L355.71,476.32 L356.09,476.08 L356.47,475.93 L356.8,475.88 L357.13,475.93 L357.51,476.08 L357.89,476.32 L358.27,476.65 L358.63,477.06 L358.96,477.55 L359.25,478.09 L359.5,478.68 L359.7,479.3 L359.85,479.94 L359.94,480.56Z" fill="rgb(173,173,173)"/><path d="M359.54,481.1 L359.51,481.57 L359.43,482.1 L359.31,482.65 L359.13,483.18 L358.92,483.69 L358.66,484.16 L358.38,484.58 L358.07,484.94 L357.74,485.22 L357.41,485.43 L357.08,485.56 L356.8,485.6 L356.52,485.56 L356.19,485.43 L355.86,485.22 L355.53,484.94 L355.22,484.58 L354.94,484.16 L354.68,483.69 L354.47,483.18 L354.29,482.65 L354.17,482.1 L354.09,481.57 L354.06,481.1 L354.09,480.63 L354.17,480.1 L354.29,479.55 L354.47,479.02 L354.68,478.51 L354.94,478.04 L355.22,477.62 L355.53,477.26 L355.86,476.98 L356.19,476.77 L356.52,476.64 L356.8,476.6 L357.08,476.64 L357.41,476.77 L357.74,476.98 L358.07,477.26 L358.38,477.62 L358.66,478.04 L358.92,478.51 L359.13,479.02 L359.31,479.55 L359.43,480.1 L359.51,480.63Z" fill="rgb(194,194,194)"/><path d="M359.05,481.1 L359.02,481.48 L358.96,481.92 L358.86,482.37 L358.71,482.81 L358.54,483.23 L358.33,483.62 L358.09,483.96 L357.84,484.25 L357.57,484.49 L357.3,484.66 L357.03,484.76 L356.8,484.8 L356.57,484.76 L356.3,484.66 L356.03,484.49 L355.76,484.25 L355.51,483.96 L355.27,483.62 L355.06,483.23 L354.89,482.81 L354.74,482.37 L354.64,481.92 L354.58,481.48 L354.55,481.1 L354.58,480.72 L354.64,480.28 L354.74,479.83 L354.89,479.39 L355.06,478.97 L355.27,478.58 L355.51,478.24 L355.76,477.95 L356.03,477.71 L356.3,477.54 L356.57,477.44 L356.8,477.4 L357.03,477.44 L357.3,477.54 L357.57,477.71 L357.84,477.95 L358.09,478.24 L358.33,478.58 L358.54,478.97 L358.71,479.39 L358.86,479.83 L358.96,480.28 L359.02,480.72Z" fill="rgb(214,214,214)"/><path d="M358.6,481.1 L358.59,481.41 L358.54,481.76 L358.45,482.12 L358.34,482.47 L358.2,482.81 L358.03,483.12 L357.84,483.4 L357.64,483.63 L357.42,483.82 L357.2,483.96 L356.99,484.04 L356.8,484.07 L356.61,484.04 L356.4,483.96 L356.18,483.82 L355.96,483.63 L355.76,483.4 L355.57,483.12 L355.4,482.81 L355.26,482.47 L355.15,482.12 L355.06,481.76 L355.01,481.41 L355,481.1 L355.01,480.79 L355.06,480.44 L355.15,480.08 L355.26,479.73 L355.4,479.39 L355.57,479.08 L355.76,478.8 L355.96,478.57 L356.18,478.38 L356.4,478.24 L356.61,478.16 L356.8,478.13 L356.99,478.16 L357.2,478.24 L357.42,478.38 L357.64,478.57 L357.84,478.8 L358.03,479.08 L358.2,479.39 L358.34,479.73 L358.45,480.08 L358.54,480.44 L358.59,480.79Z" fill="rgb(230,230,230)"/><path d="M358.12,481.1 L358.11,481.33 L358.07,481.58 L358.01,481.85 L357.92,482.11 L357.82,482.35 L357.7,482.58 L357.56,482.78 L357.41,482.95 L357.25,483.09 L357.09,483.19 L356.94,483.25 L356.8,483.27 L356.66,483.25 L356.51,483.19 L356.35,483.09 L356.19,482.95 L356.04,482.78 L355.9,482.58 L355.78,482.35 L355.68,482.11 L355.59,481.85 L355.53,481.58 L355.49,481.33 L355.48,481.1 L355.49,480.87 L355.53,480.62 L355.59,480.35 L355.68,480.09 L355.78,479.85 L355.9,479.62 L356.04,479.42 L356.19,479.25 L356.35,479.11 L356.51,479.01 L356.66,478.95 L356.8,478.93 L356.94,478.95 L357.09,479.01 L357.25,479.11 L357.41,479.25 L357.56,479.42 L357.7,479.62 L357.82,479.85 L357.92,480.09 L358.01,480.35 L358.07,480.62 L358.11,480.87Z" fill="rgb(242,242,242)"/></g></g>
<line x1="187.5" y1="358.6" x2="187.5" y2="521.8" stroke="#fff" stroke-width="1" stroke-dasharray="3 2"/>
<line x1="356.8" y1="358.6" x2="356.8" y2="439" stroke="#f2e41a" stroke-width="1" stroke-dasharray="3 2"/>
<line x1="356.8" y1="441" x2="356.8" y2="521.8" stroke="#f2e41a" stroke-width="1" stroke-dasharray="3 2"/>
<line x1="316" y1="398.2" x2="397.6" y2="398.2" stroke="#f2e41a" stroke-width="1" stroke-dasharray="3 2"/>
<path d="M40.9,363.9 H77.1 M40.9,363.9 V385.3" stroke="#fff" stroke-width="1.6" fill="none"/>
<path d="M76.1,361.0 L82.1,363.9 L76.1,366.79999999999995 Z" fill="#fff"/>
<path d="M38.0,384.3 L40.9,390.3 L43.8,384.3 Z" fill="#fff"/>
<text x="78.4" y="375.7" font-family="Liberation Sans" font-size="11" fill="#fff" text-anchor="middle" >z</text>
<text x="48.5" y="386.8" font-family="Liberation Sans" font-size="11" fill="#fff" text-anchor="middle" >x</text>
<path d="M321.9,363.9 H341 M321.9,363.9 V382.2" stroke="#fff" stroke-width="1.6" fill="none"/>
<path d="M340,361.0 L346,363.9 L340,366.79999999999995 Z" fill="#fff"/>
<path d="M319.0,381.2 L321.9,387.2 L324.79999999999995,381.2 Z" fill="#fff"/>
<text x="341.6" y="373.5" font-family="Liberation Sans" font-size="11" fill="#fff" text-anchor="middle" >y</text>
<text x="330.7" y="386.8" font-family="Liberation Sans" font-size="11" fill="#fff" text-anchor="middle" >x</text>
<text x="201" y="370" font-family="Liberation Sans" font-size="11.6" fill="#fff" text-anchor="start" >Focal point</text>
<text x="201" y="383" font-family="Liberation Sans" font-size="11.6" fill="#fff" text-anchor="start" >(f = 25 mm)</text>
<text transform="translate(18.7,398.7) rotate(-90)" font-family="Liberation Sans" font-weight="bold" font-size="11.3" fill="#111111" stroke="#111111" stroke-width="0.25" text-anchor="middle">Commercial</text>
<text transform="translate(32.1,399.2) rotate(-90)" font-family="Liberation Sans" font-weight="bold" font-size="11.3" fill="#111111" stroke="#111111" stroke-width="0.25" text-anchor="middle">Opaque UT</text>
<text transform="translate(25.2,480) rotate(-90)" font-family="Liberation Sans" font-weight="bold" font-size="11.8" fill="#111111" stroke="#111111" stroke-width="0.25" text-anchor="middle">TUT-array</text>
<line x1="401.3" y1="357.9" x2="684.5" y2="357.9" stroke="#222" stroke-width="1.2" />
<line x1="401.3" y1="393.4" x2="684.5" y2="393.4" stroke="#222" stroke-width="1.1" />
<line x1="401.3" y1="521.8" x2="684.5" y2="521.8" stroke="#222" stroke-width="1.3" />
<line x1="470.6" y1="357.9" x2="470.6" y2="521.8" stroke="#222" stroke-width="1.1" />
<text x="529.3" y="373" font-family="Liberation Sans" font-size="11.65" fill="#1a1a1a" text-anchor="middle" >Commercial</text>
<text x="529.3" y="386.3" font-family="Liberation Sans" font-size="11.65" fill="#1a1a1a" text-anchor="middle" >opaque UT (8 MHz)</text>
<text x="636.1" y="373" font-family="Liberation Sans" font-size="11.65" fill="#1a1a1a" text-anchor="middle" >TUT-array</text>
<text x="635.5" y="386.3" font-family="Liberation Sans" font-size="11.65" fill="#1a1a1a" text-anchor="middle" >(7 MHz)</text>
<text x="436" y="414" font-family="Liberation Sans" font-size="11.65" fill="#1a1a1a" text-anchor="middle" >SNR</text>
<text x="529.3" y="414" font-family="Liberation Sans" font-size="11.65" fill="#1a1a1a" text-anchor="middle" >49.2 dB</text>
<text x="635.8" y="414" font-family="Liberation Sans" font-size="11.65" fill="#1a1a1a" text-anchor="middle" >48.2 dB</text>
<text x="436" y="446.2" font-family="Liberation Sans" font-size="11.65" fill="#1a1a1a" text-anchor="middle" >Pressure</text>
<text x="529.3" y="446.2" font-family="Liberation Sans" font-size="11.65" fill="#1a1a1a" text-anchor="middle" >180 kPa</text>
<text x="635.8" y="446.2" font-family="Liberation Sans" font-size="11.65" fill="#1a1a1a" text-anchor="middle" >158 kPa</text>
<text x="436" y="478.3" font-family="Liberation Sans" font-size="11.65" fill="#1a1a1a" text-anchor="middle" >X-FWHM</text>
<text x="529.3" y="478.3" font-family="Liberation Sans" font-size="11.65" fill="#1a1a1a" text-anchor="middle" >0.75 mm</text>
<text x="635.8" y="478.3" font-family="Liberation Sans" font-size="11.65" fill="#1a1a1a" text-anchor="middle" >0.78 mm</text>
<text x="436" y="510.5" font-family="Liberation Sans" font-size="11.65" fill="#1a1a1a" text-anchor="middle" >Y-FWHM</text>
<text x="529.3" y="510.5" font-family="Liberation Sans" font-size="11.65" fill="#1a1a1a" text-anchor="middle" >1.76 mm</text>
<text x="635.8" y="510.5" font-family="Liberation Sans" font-size="11.65" fill="#1a1a1a" text-anchor="middle" >1.90 mm</text></svg></body></html>
